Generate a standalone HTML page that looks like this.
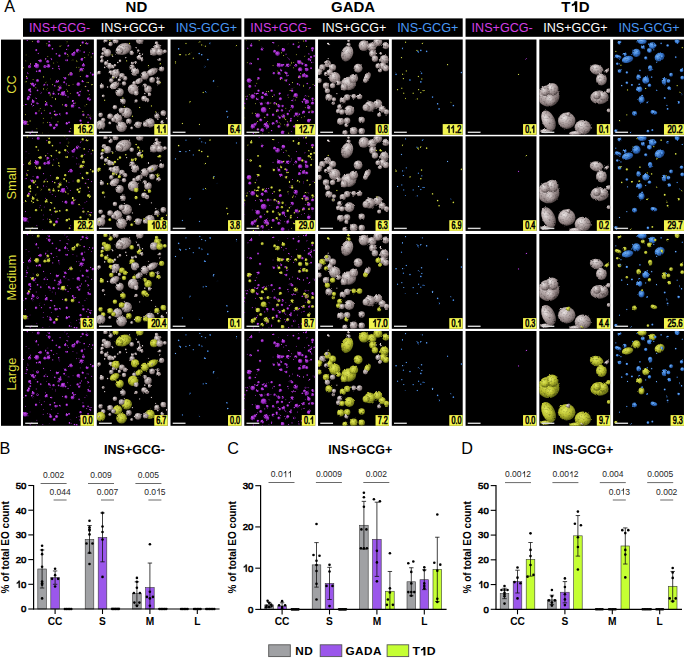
<!DOCTYPE html>
<html><head><meta charset="utf-8"><style>
html,body{margin:0;padding:0;background:#fff;}
body{width:685px;height:658px;overflow:hidden;}
svg{display:block;}
</style></head><body>
<svg width="685" height="658" viewBox="0 0 685 658">
<defs>
<filter id="lumpy" x="-5%" y="-5%" width="110%" height="110%" color-interpolation-filters="sRGB">
<feTurbulence type="fractalNoise" baseFrequency="0.35" numOctaves="2" seed="3" result="n"/>
<feDisplacementMap in="SourceGraphic" in2="n" scale="2.2" xChannelSelector="R" yChannelSelector="G" result="d"/>
<feTurbulence type="fractalNoise" baseFrequency="0.6" numOctaves="1" seed="9" result="n2"/>
<feColorMatrix in="n2" type="matrix" values="0 0 0 0 0  0 0 0 0 0  0 0 0 0 0  0 0 0 -0.9 0.45" result="sh"/>
<feComposite in="sh" in2="d" operator="in" result="sh2"/>
<feMerge><feMergeNode in="d"/><feMergeNode in="sh2"/></feMerge>
</filter>
<radialGradient id="gW" cx="0.36" cy="0.32" r="0.75"><stop offset="0" stop-color="#ebe5e5"/><stop offset="0.35" stop-color="#beb2b2"/><stop offset="0.72" stop-color="#8e8080"/><stop offset="1" stop-color="#403636"/></radialGradient>
<radialGradient id="gM" cx="0.4" cy="0.36" r="0.72"><stop offset="0" stop-color="#cc52f2"/><stop offset="0.5" stop-color="#9e2ac6"/><stop offset="1" stop-color="#420a5c"/></radialGradient>
<radialGradient id="gB" cx="0.4" cy="0.36" r="0.72"><stop offset="0" stop-color="#78b4f8"/><stop offset="0.5" stop-color="#3c80d8"/><stop offset="1" stop-color="#12326c"/></radialGradient>
<radialGradient id="gY" cx="0.4" cy="0.36" r="0.72"><stop offset="0" stop-color="#e4ec5c"/><stop offset="0.5" stop-color="#b9bf30"/><stop offset="1" stop-color="#4a500c"/></radialGradient>
</defs>
<text x="4.2" y="11.9" font-size="16.2" font-family="Liberation Sans, sans-serif" fill="#000">A</text>
<text x="136.4" y="12.1" font-size="15" font-weight="bold" text-anchor="middle" font-family="Liberation Sans, sans-serif" fill="#000">ND</text>
<text x="353.1" y="12.1" font-size="15" font-weight="bold" text-anchor="middle" font-family="Liberation Sans, sans-serif" fill="#000">GADA</text>
<text x="561.33 578.84" y="12.10" font-size="15" font-weight="bold" font-family="Liberation Sans, sans-serif" fill="#000">TD</text>
<polygon points="574.92,1.36 577.25,1.36 577.25,12.10 574.92,12.10 574.92,4.97 571.77,6.25 571.77,4.22 573.87,3.18 574.70,1.36" fill="#000"/>
<rect x="23.00" y="18.4" width="218.42" height="18.4" fill="#000"/>
<rect x="244.28" y="18.4" width="218.42" height="18.4" fill="#000"/>
<rect x="465.56" y="18.4" width="218.42" height="18.4" fill="#000"/>
<text x="59.65" y="31.9" font-size="12.6" text-anchor="middle" font-family="Liberation Sans, sans-serif" fill="#d33fe5">INS+GCG-</text>
<text x="132.91" y="31.9" font-size="12.6" text-anchor="middle" font-family="Liberation Sans, sans-serif" fill="#ffffff">INS+GCG+</text>
<text x="206.47" y="31.9" font-size="12.6" text-anchor="middle" font-family="Liberation Sans, sans-serif" fill="#4a98f5">INS-GCG+</text>
<text x="280.93" y="31.9" font-size="12.6" text-anchor="middle" font-family="Liberation Sans, sans-serif" fill="#d33fe5">INS+GCG-</text>
<text x="354.19" y="31.9" font-size="12.6" text-anchor="middle" font-family="Liberation Sans, sans-serif" fill="#ffffff">INS+GCG+</text>
<text x="427.75" y="31.9" font-size="12.6" text-anchor="middle" font-family="Liberation Sans, sans-serif" fill="#4a98f5">INS-GCG+</text>
<text x="502.21" y="31.9" font-size="12.6" text-anchor="middle" font-family="Liberation Sans, sans-serif" fill="#d33fe5">INS+GCG-</text>
<text x="575.47" y="31.9" font-size="12.6" text-anchor="middle" font-family="Liberation Sans, sans-serif" fill="#ffffff">INS+GCG+</text>
<text x="649.03" y="31.9" font-size="12.6" text-anchor="middle" font-family="Liberation Sans, sans-serif" fill="#4a98f5">INS-GCG+</text>
<rect x="1" y="39.6" width="19.9" height="386.2" fill="#000"/>
<text transform="translate(15.8,84.5) rotate(-90)" x="0" y="0" font-size="12.9" text-anchor="middle" font-family="Liberation Sans, sans-serif" fill="#dede3c">CC</text>
<text transform="translate(15.8,183.4) rotate(-90)" x="0" y="0" font-size="12.9" text-anchor="middle" font-family="Liberation Sans, sans-serif" fill="#dede3c">Small</text>
<text transform="translate(15.8,277.7) rotate(-90)" x="0" y="0" font-size="12.9" text-anchor="middle" font-family="Liberation Sans, sans-serif" fill="#dede3c">Medium</text>
<text transform="translate(15.8,374.0) rotate(-90)" x="0" y="0" font-size="12.9" text-anchor="middle" font-family="Liberation Sans, sans-serif" fill="#dede3c">Large</text>
<rect x="23.00" y="39.50" width="70.90" height="95.30" fill="#000"/>
<rect x="96.76" y="39.50" width="70.90" height="95.30" fill="#000"/>
<rect x="170.52" y="39.50" width="70.90" height="95.30" fill="#000"/>
<rect x="244.28" y="39.50" width="70.90" height="95.30" fill="#000"/>
<rect x="318.04" y="39.50" width="70.90" height="95.30" fill="#000"/>
<rect x="391.80" y="39.50" width="70.90" height="95.30" fill="#000"/>
<rect x="465.56" y="39.50" width="70.90" height="95.30" fill="#000"/>
<rect x="539.32" y="39.50" width="70.90" height="95.30" fill="#000"/>
<rect x="613.08" y="39.50" width="70.90" height="95.30" fill="#000"/>
<rect x="23.00" y="136.30" width="70.90" height="94.60" fill="#000"/>
<rect x="96.76" y="136.30" width="70.90" height="94.60" fill="#000"/>
<rect x="170.52" y="136.30" width="70.90" height="94.60" fill="#000"/>
<rect x="244.28" y="136.30" width="70.90" height="94.60" fill="#000"/>
<rect x="318.04" y="136.30" width="70.90" height="94.60" fill="#000"/>
<rect x="391.80" y="136.30" width="70.90" height="94.60" fill="#000"/>
<rect x="465.56" y="136.30" width="70.90" height="94.60" fill="#000"/>
<rect x="539.32" y="136.30" width="70.90" height="94.60" fill="#000"/>
<rect x="613.08" y="136.30" width="70.90" height="94.60" fill="#000"/>
<rect x="23.00" y="234.00" width="70.90" height="94.80" fill="#000"/>
<rect x="96.76" y="234.00" width="70.90" height="94.80" fill="#000"/>
<rect x="170.52" y="234.00" width="70.90" height="94.80" fill="#000"/>
<rect x="244.28" y="234.00" width="70.90" height="94.80" fill="#000"/>
<rect x="318.04" y="234.00" width="70.90" height="94.80" fill="#000"/>
<rect x="391.80" y="234.00" width="70.90" height="94.80" fill="#000"/>
<rect x="465.56" y="234.00" width="70.90" height="94.80" fill="#000"/>
<rect x="539.32" y="234.00" width="70.90" height="94.80" fill="#000"/>
<rect x="613.08" y="234.00" width="70.90" height="94.80" fill="#000"/>
<rect x="23.00" y="331.00" width="70.90" height="94.80" fill="#000"/>
<rect x="96.76" y="331.00" width="70.90" height="94.80" fill="#000"/>
<rect x="170.52" y="331.00" width="70.90" height="94.80" fill="#000"/>
<rect x="244.28" y="331.00" width="70.90" height="94.80" fill="#000"/>
<rect x="318.04" y="331.00" width="70.90" height="94.80" fill="#000"/>
<rect x="391.80" y="331.00" width="70.90" height="94.80" fill="#000"/>
<rect x="465.56" y="331.00" width="70.90" height="94.80" fill="#000"/>
<rect x="539.32" y="331.00" width="70.90" height="94.80" fill="#000"/>
<rect x="613.08" y="331.00" width="70.90" height="94.80" fill="#000"/>
<svg x="23.00" y="39.50" width="70.90" height="95.30" overflow="hidden"><g filter="url(#lumpy)">
<circle cx="15.3" cy="2.1" r="1.60" fill="url(#gM)"/>
<circle cx="26.3" cy="6.1" r="1.60" fill="url(#gM)"/>
<circle cx="54.7" cy="11.2" r="1.93" fill="url(#gM)"/>
<circle cx="50.3" cy="14.8" r="1.93" fill="url(#gM)"/>
<circle cx="59.8" cy="3.1" r="1.28" fill="url(#gM)"/>
<circle cx="64.2" cy="3.9" r="1.28" fill="url(#gM)"/>
<circle cx="13.9" cy="26.5" r="2.41" fill="url(#gM)"/>
<circle cx="6.6" cy="27.2" r="1.60" fill="url(#gM)"/>
<circle cx="17.5" cy="21.4" r="1.60" fill="url(#gM)"/>
<circle cx="24.8" cy="22.1" r="1.60" fill="url(#gM)"/>
<circle cx="25.5" cy="26.5" r="1.93" fill="url(#gM)"/>
<circle cx="21.9" cy="27.2" r="1.60" fill="url(#gM)"/>
<circle cx="16.8" cy="31.6" r="1.60" fill="url(#gM)"/>
<circle cx="36.5" cy="16.3" r="1.28" fill="url(#gM)"/>
<circle cx="42.3" cy="14.1" r="1.28" fill="url(#gM)"/>
<circle cx="59.1" cy="19.9" r="1.60" fill="url(#gM)"/>
<circle cx="60.5" cy="25.8" r="1.60" fill="url(#gM)"/>
<circle cx="58.4" cy="30.1" r="1.93" fill="url(#gM)"/>
<circle cx="48.1" cy="34.5" r="1.93" fill="url(#gM)"/>
<circle cx="64.2" cy="36.7" r="1.60" fill="url(#gM)"/>
<circle cx="55.4" cy="44.7" r="1.93" fill="url(#gM)"/>
<circle cx="14.6" cy="41.1" r="1.60" fill="url(#gM)"/>
<circle cx="9.5" cy="44.7" r="1.60" fill="url(#gM)"/>
<circle cx="10.9" cy="46.2" r="1.28" fill="url(#gM)"/>
<circle cx="6.6" cy="50.6" r="1.60" fill="url(#gM)"/>
<circle cx="34.3" cy="41.8" r="1.60" fill="url(#gM)"/>
<circle cx="37.2" cy="48.4" r="1.60" fill="url(#gM)"/>
<circle cx="40.1" cy="54.2" r="2.41" fill="url(#gM)"/>
<circle cx="35.7" cy="50.6" r="1.28" fill="url(#gM)"/>
<circle cx="54.7" cy="53.5" r="1.28" fill="url(#gM)"/>
<circle cx="5.8" cy="57.9" r="1.60" fill="url(#gM)"/>
<circle cx="5.1" cy="59.6" r="1.44" fill="url(#gM)"/>
<circle cx="10.2" cy="62.2" r="1.60" fill="url(#gM)"/>
<circle cx="23.3" cy="65.2" r="1.60" fill="url(#gM)"/>
<circle cx="43.0" cy="65.9" r="1.60" fill="url(#gM)"/>
<circle cx="49.6" cy="66.6" r="1.93" fill="url(#gM)"/>
<circle cx="65.7" cy="59.3" r="1.60" fill="url(#gM)"/>
<circle cx="2.2" cy="83.4" r="2.41" fill="url(#gM)"/>
<circle cx="27.7" cy="85.6" r="1.60" fill="url(#gM)"/>
<circle cx="33.6" cy="85.6" r="1.60" fill="url(#gM)"/>
<circle cx="31.4" cy="88.5" r="1.60" fill="url(#gM)"/>
<circle cx="60.5" cy="75.4" r="1.28" fill="url(#gM)"/>
<circle cx="57.6" cy="81.2" r="1.28" fill="url(#gM)"/>
<circle cx="13.1" cy="73.9" r="1.28" fill="url(#gM)"/>
<circle cx="32.8" cy="75.4" r="1.28" fill="url(#gM)"/>
<circle cx="43.8" cy="73.9" r="1.28" fill="url(#gM)"/>
<circle cx="67.1" cy="79.0" r="1.28" fill="url(#gM)"/>
<circle cx="43.8" cy="84.1" r="1.28" fill="url(#gM)"/>
<circle cx="70.0" cy="35.2" r="1.28" fill="url(#gM)"/>
<circle cx="59.8" cy="41.8" r="1.28" fill="url(#gM)"/>
<circle cx="42.3" cy="38.9" r="1.28" fill="url(#gM)"/>
<circle cx="30.6" cy="54.2" r="1.28" fill="url(#gM)"/>
<circle cx="26.3" cy="53.5" r="1.28" fill="url(#gM)"/>
<circle cx="56.2" cy="55.7" r="1.28" fill="url(#gM)"/>
<circle cx="14.6" cy="63.7" r="1.28" fill="url(#gM)"/>
<circle cx="51.1" cy="13.4" r="1.60" fill="url(#gM)"/>
<circle cx="60.0" cy="72.0" r="0.66" fill="url(#gY)"/>
<circle cx="21.5" cy="45.3" r="1.04" fill="url(#gM)"/>
<circle cx="35.8" cy="26.8" r="0.87" fill="url(#gM)"/>
<circle cx="57.5" cy="85.7" r="0.94" fill="url(#gM)"/>
<circle cx="63.8" cy="65.0" r="0.56" fill="url(#gY)"/>
<circle cx="68.6" cy="45.3" r="0.66" fill="url(#gY)"/>
<circle cx="57.2" cy="52.1" r="0.93" fill="url(#gM)"/>
<circle cx="28.3" cy="78.4" r="0.50" fill="url(#gY)"/>
<circle cx="35.0" cy="82.4" r="0.70" fill="url(#gY)"/>
<circle cx="61.8" cy="18.2" r="0.64" fill="url(#gY)"/>
<circle cx="68.7" cy="76.3" r="0.55" fill="url(#gY)"/>
<circle cx="7.7" cy="52.4" r="0.83" fill="url(#gM)"/>
<circle cx="42.8" cy="55.8" r="0.86" fill="url(#gM)"/>
<circle cx="27.3" cy="54.7" r="0.61" fill="url(#gY)"/>
<circle cx="13.3" cy="58.2" r="0.79" fill="url(#gM)"/>
<circle cx="65.5" cy="51.4" r="0.92" fill="url(#gM)"/>
<circle cx="41.2" cy="42.8" r="1.10" fill="url(#gM)"/>
<circle cx="65.1" cy="75.4" r="0.87" fill="url(#gM)"/>
<circle cx="17.3" cy="69.5" r="0.63" fill="url(#gY)"/>
<circle cx="56.4" cy="31.6" r="0.56" fill="url(#gY)"/>
<circle cx="10.4" cy="66.3" r="0.84" fill="url(#gM)"/>
<circle cx="64.6" cy="50.7" r="0.52" fill="url(#gY)"/>
<circle cx="45.1" cy="57.6" r="0.73" fill="url(#gM)"/>
<circle cx="26.3" cy="93.1" r="0.51" fill="url(#gY)"/>
<circle cx="68.2" cy="17.6" r="0.63" fill="url(#gY)"/>
<circle cx="56.9" cy="89.0" r="0.76" fill="url(#gM)"/>
<circle cx="7.2" cy="24.7" r="0.89" fill="url(#gM)"/>
<circle cx="24.9" cy="17.1" r="0.52" fill="url(#gY)"/>
<circle cx="7.2" cy="93.9" r="0.72" fill="url(#gM)"/>
<circle cx="24.3" cy="23.8" r="0.77" fill="url(#gM)"/>
<circle cx="12.4" cy="44.8" r="0.84" fill="url(#gM)"/>
<circle cx="36.1" cy="29.6" r="1.00" fill="url(#gM)"/>
<circle cx="17.8" cy="53.3" r="0.94" fill="url(#gM)"/>
<circle cx="23.9" cy="4.3" r="0.64" fill="url(#gY)"/>
<circle cx="67.7" cy="33.5" r="0.72" fill="url(#gM)"/>
<circle cx="67.2" cy="60.2" r="0.93" fill="url(#gM)"/>
<circle cx="27.5" cy="39.4" r="0.50" fill="url(#gY)"/>
<circle cx="13.7" cy="31.8" r="0.88" fill="url(#gM)"/>
<circle cx="26.9" cy="83.2" r="0.75" fill="url(#gM)"/>
<circle cx="28.6" cy="66.7" r="0.90" fill="url(#gM)"/>
<circle cx="3.3" cy="42.3" r="0.59" fill="url(#gY)"/>
<circle cx="37.5" cy="46.3" r="0.95" fill="url(#gM)"/>
<circle cx="62.8" cy="47.0" r="0.78" fill="url(#gM)"/>
<circle cx="13.3" cy="94.9" r="0.55" fill="url(#gY)"/>
<circle cx="51.5" cy="93.7" r="0.91" fill="url(#gM)"/>
<circle cx="22.4" cy="20.3" r="0.50" fill="url(#gY)"/>
<circle cx="58.4" cy="50.2" r="0.57" fill="url(#gY)"/>
<circle cx="46.1" cy="83.0" r="1.09" fill="url(#gM)"/>
<circle cx="7.1" cy="81.1" r="0.55" fill="url(#gY)"/>
<circle cx="61.2" cy="12.7" r="0.89" fill="url(#gM)"/>
<circle cx="24.6" cy="82.8" r="0.51" fill="url(#gY)"/>
<circle cx="2.9" cy="64.7" r="1.07" fill="url(#gM)"/>
<circle cx="66.6" cy="86.4" r="0.95" fill="url(#gM)"/>
<circle cx="49.8" cy="62.3" r="1.04" fill="url(#gM)"/>
<circle cx="45.5" cy="35.4" r="0.62" fill="url(#gY)"/>
<circle cx="41.7" cy="0.8" r="0.70" fill="url(#gM)"/>
<circle cx="56.1" cy="68.3" r="0.87" fill="url(#gM)"/>
<circle cx="20.6" cy="37.5" r="0.68" fill="url(#gY)"/>
<circle cx="33.9" cy="22.8" r="0.61" fill="url(#gY)"/>
<circle cx="37.1" cy="6.7" r="0.70" fill="url(#gY)"/>
<circle cx="24.4" cy="45.5" r="0.76" fill="url(#gM)"/>
<circle cx="65.3" cy="59.5" r="1.08" fill="url(#gM)"/>
<circle cx="45.4" cy="6.3" r="0.95" fill="url(#gM)"/>
<circle cx="4.3" cy="0.7" r="0.81" fill="url(#gM)"/>
<circle cx="31.8" cy="46.4" r="0.91" fill="url(#gM)"/>
<circle cx="18.5" cy="73.8" r="0.72" fill="url(#gM)"/>
<circle cx="64.1" cy="42.9" r="0.57" fill="url(#gY)"/>
<circle cx="28.3" cy="19.7" r="1.07" fill="url(#gM)"/>
<circle cx="15.3" cy="13.9" r="0.73" fill="url(#gM)"/>
<circle cx="69.8" cy="14.1" r="0.91" fill="url(#gM)"/>
<circle cx="62.3" cy="47.1" r="0.69" fill="url(#gY)"/>
<circle cx="35.4" cy="47.4" r="0.62" fill="url(#gY)"/>
<circle cx="43.3" cy="20.8" r="1.08" fill="url(#gM)"/>
<circle cx="63.8" cy="77.7" r="0.59" fill="url(#gY)"/>
<circle cx="2.8" cy="21.4" r="0.51" fill="url(#gY)"/>
<circle cx="59.9" cy="31.4" r="0.59" fill="url(#gY)"/>
<circle cx="46.6" cy="92.0" r="1.04" fill="url(#gM)"/>
<circle cx="35.7" cy="54.5" r="0.98" fill="url(#gM)"/>
<circle cx="53.8" cy="94.1" r="1.04" fill="url(#gM)"/>
<circle cx="14.6" cy="50.9" r="1.00" fill="url(#gM)"/>
<circle cx="34.2" cy="75.1" r="0.85" fill="url(#gM)"/>
<circle cx="60.4" cy="75.8" r="0.50" fill="url(#gY)"/>
<circle cx="12.9" cy="48.2" r="0.54" fill="url(#gY)"/>
<circle cx="61.1" cy="89.6" r="0.74" fill="url(#gM)"/>
<circle cx="57.5" cy="5.9" r="0.58" fill="url(#gY)"/>
<circle cx="20.4" cy="78.8" r="0.52" fill="url(#gY)"/>
<circle cx="50.9" cy="64.0" r="1.09" fill="url(#gM)"/>
<circle cx="29.2" cy="58.1" r="0.53" fill="url(#gY)"/>
<circle cx="33.4" cy="14.4" r="0.87" fill="url(#gM)"/>
<circle cx="44.7" cy="10.0" r="0.71" fill="url(#gM)"/>
<circle cx="27.2" cy="73.8" r="1.03" fill="url(#gM)"/>
<circle cx="43.3" cy="44.4" r="0.70" fill="url(#gM)"/>
<circle cx="8.8" cy="64.8" r="0.97" fill="url(#gM)"/>
<circle cx="65.1" cy="82.9" r="0.99" fill="url(#gM)"/>
<circle cx="36.8" cy="74.6" r="0.97" fill="url(#gM)"/>
<circle cx="31.6" cy="71.9" r="0.97" fill="url(#gM)"/>
<circle cx="47.3" cy="54.3" r="0.56" fill="url(#gY)"/>
<circle cx="58.2" cy="84.4" r="0.92" fill="url(#gM)"/>
<circle cx="29.8" cy="29.0" r="0.76" fill="url(#gM)"/>
<circle cx="29.5" cy="9.4" r="0.94" fill="url(#gM)"/>
<circle cx="2.2" cy="42.4" r="0.52" fill="url(#gY)"/>
<circle cx="65.3" cy="91.4" r="0.55" fill="url(#gY)"/>
<circle cx="5.0" cy="34.1" r="0.71" fill="url(#gM)"/>
<circle cx="5.0" cy="84.9" r="0.62" fill="url(#gY)"/>
<circle cx="47.8" cy="89.1" r="0.50" fill="url(#gY)"/>
<circle cx="26.2" cy="2.3" r="1.02" fill="url(#gM)"/>
<circle cx="13.3" cy="10.7" r="1.08" fill="url(#gM)"/>
<circle cx="9.2" cy="91.8" r="0.78" fill="url(#gM)"/>
<circle cx="7.3" cy="55.2" r="1.04" fill="url(#gM)"/>
<circle cx="67.1" cy="76.4" r="0.65" fill="url(#gY)"/>
<circle cx="53.6" cy="27.7" r="0.53" fill="url(#gY)"/>
<circle cx="9.4" cy="2.0" r="0.54" fill="url(#gY)"/>
<circle cx="10.1" cy="40.1" r="0.55" fill="url(#gY)"/>
<circle cx="4.1" cy="38.8" r="0.94" fill="url(#gM)"/>
<circle cx="22.8" cy="19.4" r="0.78" fill="url(#gM)"/>
<circle cx="67.5" cy="75.7" r="0.55" fill="url(#gY)"/>
<circle cx="39.6" cy="65.4" r="0.55" fill="url(#gY)"/>
<circle cx="30.7" cy="23.6" r="0.55" fill="url(#gY)"/>
<circle cx="66.5" cy="13.5" r="0.55" fill="url(#gY)"/>
<circle cx="45.2" cy="45.9" r="0.55" fill="url(#gY)"/>
<circle cx="0.1" cy="66.4" r="0.55" fill="url(#gY)"/>
<circle cx="0.6" cy="28.4" r="0.55" fill="url(#gY)"/>
<circle cx="44.7" cy="51.8" r="0.55" fill="url(#gY)"/>
<circle cx="50.1" cy="44.8" r="0.55" fill="url(#gY)"/>
<circle cx="54.0" cy="22.1" r="0.55" fill="url(#gY)"/>
<circle cx="19.9" cy="93.5" r="0.55" fill="url(#gY)"/>
<circle cx="62.7" cy="3.9" r="0.55" fill="url(#gY)"/>
<circle cx="37.4" cy="55.3" r="0.55" fill="url(#gY)"/>
<circle cx="7.2" cy="24.0" r="0.55" fill="url(#gY)"/>
<circle cx="53.6" cy="86.3" r="0.55" fill="url(#gY)"/>
<circle cx="2.5" cy="75.3" r="0.55" fill="url(#gY)"/>
<circle cx="24.1" cy="50.4" r="0.55" fill="url(#gY)"/>
<circle cx="65.3" cy="15.5" r="0.55" fill="url(#gY)"/>
<circle cx="20.6" cy="49.4" r="0.55" fill="url(#gY)"/>
<circle cx="44.5" cy="50.5" r="0.55" fill="url(#gY)"/>
<circle cx="56.0" cy="27.8" r="0.55" fill="url(#gY)"/>
<circle cx="44.6" cy="14.9" r="0.55" fill="url(#gY)"/>
<circle cx="27.1" cy="56.2" r="0.55" fill="url(#gY)"/>
<circle cx="47.4" cy="33.6" r="0.55" fill="url(#gY)"/>
<circle cx="29.5" cy="45.3" r="0.55" fill="url(#gY)"/>
<circle cx="22.6" cy="61.9" r="0.55" fill="url(#gY)"/>
<circle cx="21.3" cy="70.8" r="0.55" fill="url(#gY)"/>
<circle cx="44.1" cy="2.4" r="0.55" fill="url(#gY)"/>
<circle cx="63.1" cy="1.0" r="0.55" fill="url(#gY)"/>
<circle cx="4.7" cy="82.4" r="0.55" fill="url(#gY)"/>
<circle cx="52.7" cy="63.6" r="0.55" fill="url(#gY)"/>
<circle cx="62.0" cy="66.5" r="0.55" fill="url(#gY)"/>
<circle cx="16.1" cy="71.4" r="0.55" fill="url(#gY)"/>
<circle cx="7.5" cy="43.8" r="0.55" fill="url(#gY)"/>
<circle cx="31.5" cy="75.0" r="0.55" fill="url(#gY)"/>
<circle cx="57.3" cy="37.0" r="0.55" fill="url(#gY)"/>
<circle cx="13.9" cy="89.3" r="0.55" fill="url(#gY)"/>
<circle cx="3.5" cy="36.9" r="0.55" fill="url(#gY)"/>
<circle cx="6.0" cy="17.7" r="0.55" fill="url(#gY)"/>
<circle cx="45.3" cy="16.5" r="0.55" fill="url(#gY)"/>
<circle cx="43.5" cy="67.0" r="0.55" fill="url(#gY)"/>
<circle cx="20.2" cy="83.4" r="0.55" fill="url(#gY)"/>
<circle cx="32.5" cy="60.0" r="0.55" fill="url(#gY)"/>
<circle cx="66.3" cy="55.2" r="0.55" fill="url(#gY)"/>
<circle cx="50.0" cy="20.5" r="0.55" fill="url(#gY)"/>
<circle cx="3.1" cy="15.5" r="0.55" fill="url(#gY)"/>
<circle cx="46.5" cy="13.3" r="0.55" fill="url(#gY)"/>
<circle cx="48.3" cy="92.2" r="0.55" fill="url(#gY)"/>
<circle cx="65.4" cy="43.1" r="0.55" fill="url(#gY)"/>
<circle cx="22.9" cy="43.3" r="0.55" fill="url(#gY)"/>
</g></svg>
<rect x="25.20" y="131.60" width="12.8" height="1.4" fill="#d8d8d8"/>
<rect x="73.90" y="124.10" width="20.00" height="10.7" fill="#f2f550"/>
<text transform="translate(81.74,132.70) scale(0.781,1)" font-size="10" font-family="Liberation Sans, sans-serif" fill="#000" stroke="#000" stroke-width="0.6">6</text>
<text transform="translate(86.09,132.70) scale(0.781,1)" font-size="10" font-family="Liberation Sans, sans-serif" fill="#000" stroke="#000" stroke-width="0.6">.</text>
<text transform="translate(88.26,132.70) scale(0.781,1)" font-size="10" font-family="Liberation Sans, sans-serif" fill="#000" stroke="#000" stroke-width="0.6">2</text>
<polygon points="79.94,125.54 80.64,125.54 80.64,132.70 79.94,132.70 79.94,127.55 78.30,128.40 78.30,127.55 79.39,126.85 79.82,125.54" fill="#000" stroke="#000" stroke-width="0.6"/>
<svg x="96.76" y="39.50" width="70.90" height="95.30" overflow="hidden"><g filter="url(#lumpy)">
<ellipse cx="27.0" cy="9.4" rx="7.97" ry="5.69" fill="url(#gW)" transform="rotate(-20 27.0 9.4)"/>
<circle cx="22.6" cy="11.5" r="3.79" fill="url(#gW)"/>
<circle cx="13.8" cy="4.6" r="2.28" fill="url(#gW)"/>
<circle cx="8.7" cy="1.3" r="2.28" fill="url(#gW)"/>
<circle cx="18.9" cy="1.3" r="3.03" fill="url(#gW)"/>
<circle cx="43.0" cy="0.7" r="3.79" fill="url(#gW)"/>
<circle cx="7.3" cy="10.0" r="2.28" fill="url(#gW)"/>
<circle cx="10.6" cy="13.4" r="3.79" fill="url(#gW)"/>
<circle cx="6.2" cy="14.1" r="1.71" fill="url(#gW)"/>
<circle cx="59.8" cy="3.6" r="1.90" fill="url(#gW)"/>
<circle cx="60.5" cy="8.0" r="3.41" fill="url(#gW)"/>
<circle cx="57.2" cy="12.3" r="3.98" fill="url(#gW)"/>
<circle cx="63.0" cy="12.6" r="3.41" fill="url(#gW)"/>
<circle cx="68.1" cy="11.9" r="1.90" fill="url(#gW)"/>
<circle cx="41.6" cy="11.2" r="1.33" fill="url(#gW)"/>
<circle cx="35.0" cy="13.4" r="2.28" fill="url(#gW)"/>
<circle cx="42.6" cy="17.7" r="2.66" fill="url(#gW)"/>
<circle cx="44.8" cy="20.2" r="1.90" fill="url(#gW)"/>
<circle cx="5.4" cy="17.7" r="1.90" fill="url(#gW)"/>
<circle cx="5.1" cy="21.4" r="1.90" fill="url(#gW)"/>
<circle cx="9.5" cy="23.9" r="2.28" fill="url(#gW)"/>
<circle cx="13.1" cy="26.8" r="2.66" fill="url(#gW)"/>
<circle cx="16.0" cy="27.2" r="1.90" fill="url(#gW)"/>
<circle cx="23.3" cy="21.4" r="1.33" fill="url(#gW)"/>
<circle cx="18.2" cy="25.8" r="1.33" fill="url(#gW)"/>
<circle cx="35.7" cy="23.6" r="1.71" fill="url(#gW)"/>
<circle cx="38.9" cy="22.8" r="1.33" fill="url(#gW)"/>
<circle cx="35.4" cy="27.7" r="2.66" fill="url(#gW)"/>
<circle cx="38.3" cy="32.3" r="4.17" fill="url(#gW)"/>
<ellipse cx="55.4" cy="32.3" rx="6.07" ry="3.41" fill="url(#gW)" transform="rotate(-25 55.4 32.3)"/>
<circle cx="48.1" cy="36.0" r="4.17" fill="url(#gW)"/>
<circle cx="64.9" cy="29.4" r="2.66" fill="url(#gW)"/>
<circle cx="2.4" cy="33.1" r="1.90" fill="url(#gW)"/>
<circle cx="14.1" cy="33.1" r="2.28" fill="url(#gW)"/>
<circle cx="18.9" cy="33.8" r="4.17" fill="url(#gW)"/>
<circle cx="25.2" cy="36.3" r="2.85" fill="url(#gW)"/>
<circle cx="16.7" cy="37.7" r="1.71" fill="url(#gW)"/>
<circle cx="14.6" cy="41.1" r="2.28" fill="url(#gW)"/>
<circle cx="22.6" cy="40.4" r="1.71" fill="url(#gW)"/>
<circle cx="28.4" cy="38.9" r="2.28" fill="url(#gW)"/>
<ellipse cx="17.9" cy="45.9" rx="5.31" ry="3.41" fill="url(#gW)" transform="rotate(-30 17.9 45.9)"/>
<circle cx="27.3" cy="44.0" r="2.28" fill="url(#gW)"/>
<ellipse cx="42.3" cy="41.5" rx="4.17" ry="2.66" fill="url(#gW)" transform="rotate(-30 42.3 41.5)"/>
<circle cx="37.5" cy="43.6" r="2.09" fill="url(#gW)"/>
<circle cx="36.4" cy="49.8" r="5.31" fill="url(#gW)"/>
<circle cx="39.4" cy="53.8" r="2.47" fill="url(#gW)"/>
<circle cx="51.3" cy="49.8" r="3.79" fill="url(#gW)"/>
<circle cx="52.6" cy="54.9" r="1.90" fill="url(#gW)"/>
<circle cx="48.1" cy="46.2" r="2.28" fill="url(#gW)"/>
<circle cx="55.4" cy="40.4" r="2.85" fill="url(#gW)"/>
<circle cx="61.2" cy="38.9" r="1.71" fill="url(#gW)"/>
<circle cx="61.7" cy="43.0" r="2.28" fill="url(#gW)"/>
<circle cx="5.1" cy="46.9" r="2.28" fill="url(#gW)"/>
<circle cx="22.9" cy="52.8" r="4.17" fill="url(#gW)"/>
<circle cx="6.5" cy="56.4" r="1.52" fill="url(#gW)"/>
<circle cx="26.2" cy="61.9" r="2.85" fill="url(#gW)"/>
<circle cx="47.4" cy="59.0" r="2.85" fill="url(#gW)"/>
<circle cx="50.3" cy="60.8" r="2.28" fill="url(#gW)"/>
<circle cx="39.4" cy="61.5" r="1.71" fill="url(#gW)"/>
<circle cx="18.2" cy="67.8" r="2.28" fill="url(#gW)"/>
<circle cx="29.9" cy="73.2" r="5.31" fill="url(#gW)"/>
<circle cx="24.8" cy="71.0" r="2.85" fill="url(#gW)"/>
<circle cx="20.8" cy="79.0" r="4.74" fill="url(#gW)"/>
<circle cx="13.4" cy="76.8" r="2.85" fill="url(#gW)"/>
<circle cx="3.9" cy="75.4" r="2.28" fill="url(#gW)"/>
<circle cx="16.7" cy="80.2" r="2.28" fill="url(#gW)"/>
<circle cx="6.5" cy="80.5" r="2.28" fill="url(#gW)"/>
<circle cx="3.9" cy="85.6" r="4.74" fill="url(#gW)"/>
<circle cx="24.8" cy="87.3" r="5.31" fill="url(#gW)"/>
<circle cx="32.1" cy="81.9" r="2.85" fill="url(#gW)"/>
<circle cx="41.3" cy="85.3" r="3.41" fill="url(#gW)"/>
<circle cx="53.2" cy="83.4" r="4.74" fill="url(#gW)"/>
<circle cx="48.8" cy="84.9" r="2.66" fill="url(#gW)"/>
<circle cx="60.2" cy="76.5" r="2.66" fill="url(#gW)"/>
<circle cx="66.6" cy="73.6" r="2.85" fill="url(#gW)"/>
<circle cx="65.6" cy="82.7" r="1.90" fill="url(#gW)"/>
<circle cx="35.0" cy="88.5" r="1.52" fill="url(#gW)"/>
<circle cx="13.1" cy="83.4" r="1.52" fill="url(#gW)"/>
<circle cx="63.1" cy="19.9" r="1.52" fill="url(#gW)"/>
<circle cx="63.4" cy="24.3" r="0.88" fill="url(#gY)"/>
<circle cx="29.1" cy="18.5" r="0.88" fill="url(#gW)"/>
<circle cx="16.0" cy="16.7" r="0.88" fill="url(#gW)"/>
<circle cx="21.1" cy="23.1" r="0.88" fill="url(#gW)"/>
<circle cx="10.9" cy="21.4" r="0.88" fill="url(#gW)"/>
<circle cx="8.0" cy="28.0" r="0.88" fill="url(#gW)"/>
<circle cx="16.7" cy="28.0" r="0.88" fill="url(#gW)"/>
<circle cx="19.7" cy="38.2" r="0.88" fill="url(#gW)"/>
<circle cx="10.9" cy="47.6" r="0.88" fill="url(#gW)"/>
<circle cx="43.0" cy="14.1" r="0.88" fill="url(#gW)"/>
<circle cx="45.9" cy="14.8" r="0.88" fill="url(#gW)"/>
<circle cx="39.4" cy="8.3" r="0.88" fill="url(#gW)"/>
<circle cx="55.4" cy="33.1" r="0.88" fill="url(#gW)"/>
<circle cx="48.1" cy="54.2" r="0.88" fill="url(#gW)"/>
<circle cx="2.2" cy="85.6" r="0.88" fill="url(#gW)"/>
<circle cx="37.9" cy="85.6" r="0.88" fill="url(#gW)"/>
<circle cx="47.4" cy="82.7" r="0.88" fill="url(#gW)"/>
<circle cx="61.2" cy="79.7" r="0.88" fill="url(#gW)"/>
<circle cx="70.0" cy="79.0" r="0.88" fill="url(#gW)"/>
<circle cx="13.1" cy="1.0" r="0.75" fill="url(#gY)"/>
<circle cx="32.8" cy="3.9" r="0.75" fill="url(#gY)"/>
<circle cx="16.7" cy="38.2" r="0.75" fill="url(#gY)"/>
<circle cx="26.2" cy="58.6" r="0.75" fill="url(#gY)"/>
<circle cx="27.7" cy="67.3" r="0.75" fill="url(#gY)"/>
<circle cx="59.1" cy="72.5" r="0.75" fill="url(#gY)"/>
<circle cx="15.3" cy="15.5" r="0.75" fill="url(#gY)"/>
<circle cx="29.9" cy="21.4" r="0.75" fill="url(#gY)"/>
<circle cx="51.8" cy="27.2" r="0.75" fill="url(#gY)"/>
<circle cx="63.4" cy="43.3" r="0.75" fill="url(#gY)"/>
<circle cx="8.0" cy="60.8" r="0.75" fill="url(#gY)"/>
<circle cx="43.0" cy="68.1" r="0.75" fill="url(#gY)"/>
<circle cx="54.7" cy="66.6" r="0.75" fill="url(#gY)"/>
<circle cx="35.7" cy="76.8" r="0.75" fill="url(#gY)"/>
</g></svg>
<rect x="98.96" y="131.60" width="12.8" height="1.4" fill="#d8d8d8"/>
<rect x="154.26" y="124.10" width="13.40" height="10.7" fill="#f2f550"/>
<text transform="translate(160.36,132.70) scale(0.719,1)" font-size="10" font-family="Liberation Sans, sans-serif" fill="#000" stroke="#000" stroke-width="0.6">.</text>
<polygon points="158.70,125.54 159.35,125.54 159.35,132.70 158.70,132.70 158.70,127.55 157.19,128.40 157.19,127.55 158.19,126.85 158.59,125.54" fill="#000" stroke="#000" stroke-width="0.6"/>
<polygon points="164.70,125.54 165.35,125.54 165.35,132.70 164.70,132.70 164.70,127.55 163.19,128.40 163.19,127.55 164.19,126.85 164.59,125.54" fill="#000" stroke="#000" stroke-width="0.6"/>
<svg x="170.52" y="39.50" width="70.90" height="95.30" overflow="hidden"><g filter="url(#lumpy)">
<circle cx="39.6" cy="3.9" r="0.90" fill="url(#gB)"/>
<circle cx="8.2" cy="9.4" r="0.90" fill="url(#gB)"/>
<circle cx="28.7" cy="14.1" r="0.90" fill="url(#gB)"/>
<circle cx="31.3" cy="15.3" r="0.90" fill="url(#gB)"/>
<circle cx="37.4" cy="20.2" r="0.90" fill="url(#gB)"/>
<circle cx="34.2" cy="27.2" r="0.90" fill="url(#gB)"/>
<circle cx="43.0" cy="41.8" r="0.90" fill="url(#gB)"/>
<circle cx="35.7" cy="52.3" r="0.90" fill="url(#gB)"/>
<circle cx="56.4" cy="72.0" r="0.90" fill="url(#gB)"/>
<circle cx="57.3" cy="77.6" r="0.90" fill="url(#gB)"/>
<circle cx="15.5" cy="3.9" r="0.75" fill="url(#gY)"/>
<circle cx="29.4" cy="2.4" r="0.75" fill="url(#gY)"/>
<circle cx="31.3" cy="5.6" r="0.75" fill="url(#gY)"/>
<circle cx="34.9" cy="6.8" r="0.75" fill="url(#gY)"/>
<circle cx="65.9" cy="6.8" r="0.75" fill="url(#gY)"/>
<circle cx="9.0" cy="15.3" r="0.75" fill="url(#gY)"/>
<circle cx="15.5" cy="15.5" r="0.75" fill="url(#gY)"/>
<circle cx="19.2" cy="14.4" r="0.75" fill="url(#gY)"/>
<circle cx="22.8" cy="18.8" r="0.75" fill="url(#gY)"/>
<circle cx="5.0" cy="22.6" r="0.75" fill="url(#gY)"/>
<circle cx="43.7" cy="41.1" r="0.75" fill="url(#gY)"/>
<circle cx="46.9" cy="46.9" r="0.75" fill="url(#gY)"/>
<circle cx="32.7" cy="53.0" r="0.75" fill="url(#gY)"/>
<circle cx="19.6" cy="62.2" r="0.75" fill="url(#gY)"/>
<circle cx="11.9" cy="84.1" r="0.75" fill="url(#gY)"/>
<circle cx="29.0" cy="85.1" r="0.75" fill="url(#gY)"/>
</g></svg>
<rect x="172.72" y="131.60" width="12.8" height="1.4" fill="#d8d8d8"/>
<rect x="228.02" y="124.10" width="13.40" height="10.7" fill="#f2f550"/>
<text transform="translate(230.12,132.70) scale(0.719,1)" font-size="10" font-family="Liberation Sans, sans-serif" fill="#000" stroke="#000" stroke-width="0.6">6</text>
<text transform="translate(234.12,132.70) scale(0.719,1)" font-size="10" font-family="Liberation Sans, sans-serif" fill="#000" stroke="#000" stroke-width="0.6">.</text>
<text transform="translate(236.12,132.70) scale(0.719,1)" font-size="10" font-family="Liberation Sans, sans-serif" fill="#000" stroke="#000" stroke-width="0.6">4</text>
<svg x="244.28" y="39.50" width="70.90" height="95.30" overflow="hidden"><g filter="url(#lumpy)">
<circle cx="33.3" cy="14.1" r="2.41" fill="url(#gM)"/>
<circle cx="30.4" cy="11.9" r="1.60" fill="url(#gM)"/>
<circle cx="39.1" cy="10.4" r="1.93" fill="url(#gM)"/>
<circle cx="18.0" cy="9.7" r="1.60" fill="url(#gM)"/>
<circle cx="68.3" cy="9.0" r="1.60" fill="url(#gM)"/>
<circle cx="54.4" cy="7.5" r="1.28" fill="url(#gM)"/>
<circle cx="7.0" cy="6.1" r="1.28" fill="url(#gM)"/>
<circle cx="66.8" cy="17.7" r="1.28" fill="url(#gM)"/>
<circle cx="64.6" cy="19.9" r="1.28" fill="url(#gM)"/>
<circle cx="55.2" cy="22.8" r="2.25" fill="url(#gM)"/>
<circle cx="51.5" cy="25.8" r="1.60" fill="url(#gM)"/>
<circle cx="55.9" cy="30.1" r="2.25" fill="url(#gM)"/>
<circle cx="62.5" cy="30.1" r="1.93" fill="url(#gM)"/>
<circle cx="61.7" cy="25.8" r="1.60" fill="url(#gM)"/>
<circle cx="58.1" cy="24.3" r="1.28" fill="url(#gM)"/>
<circle cx="59.5" cy="36.0" r="1.93" fill="url(#gM)"/>
<circle cx="62.5" cy="36.7" r="1.60" fill="url(#gM)"/>
<circle cx="55.2" cy="37.4" r="1.60" fill="url(#gM)"/>
<circle cx="34.7" cy="25.8" r="2.25" fill="url(#gM)"/>
<circle cx="37.7" cy="25.8" r="1.60" fill="url(#gM)"/>
<circle cx="43.5" cy="25.8" r="1.93" fill="url(#gM)"/>
<circle cx="42.0" cy="33.8" r="1.60" fill="url(#gM)"/>
<circle cx="34.7" cy="33.8" r="1.60" fill="url(#gM)"/>
<circle cx="36.9" cy="38.9" r="1.60" fill="url(#gM)"/>
<circle cx="29.6" cy="33.8" r="1.28" fill="url(#gM)"/>
<circle cx="42.0" cy="41.1" r="1.28" fill="url(#gM)"/>
<circle cx="6.3" cy="24.3" r="1.28" fill="url(#gM)"/>
<circle cx="15.8" cy="30.1" r="1.28" fill="url(#gM)"/>
<circle cx="4.8" cy="41.1" r="2.41" fill="url(#gM)"/>
<circle cx="5.6" cy="46.9" r="1.60" fill="url(#gM)"/>
<circle cx="14.3" cy="38.9" r="1.28" fill="url(#gM)"/>
<circle cx="8.5" cy="57.1" r="2.41" fill="url(#gM)"/>
<circle cx="18.0" cy="57.9" r="1.60" fill="url(#gM)"/>
<circle cx="21.6" cy="54.9" r="1.60" fill="url(#gM)"/>
<circle cx="12.9" cy="59.3" r="1.28" fill="url(#gM)"/>
<circle cx="14.3" cy="51.3" r="1.28" fill="url(#gM)"/>
<circle cx="18.7" cy="53.5" r="1.28" fill="url(#gM)"/>
<circle cx="27.4" cy="51.3" r="1.28" fill="url(#gM)"/>
<circle cx="35.5" cy="54.2" r="1.28" fill="url(#gM)"/>
<circle cx="36.2" cy="59.3" r="1.60" fill="url(#gM)"/>
<circle cx="47.9" cy="51.3" r="1.28" fill="url(#gM)"/>
<circle cx="51.5" cy="55.7" r="2.25" fill="url(#gM)"/>
<circle cx="62.5" cy="62.2" r="2.25" fill="url(#gM)"/>
<circle cx="60.3" cy="60.0" r="1.60" fill="url(#gM)"/>
<circle cx="68.3" cy="59.3" r="1.28" fill="url(#gM)"/>
<circle cx="68.3" cy="63.7" r="1.60" fill="url(#gM)"/>
<circle cx="17.2" cy="64.4" r="1.60" fill="url(#gM)"/>
<circle cx="23.8" cy="63.7" r="1.60" fill="url(#gM)"/>
<circle cx="30.4" cy="63.7" r="1.28" fill="url(#gM)"/>
<circle cx="19.4" cy="70.3" r="2.89" fill="url(#gM)"/>
<circle cx="13.6" cy="76.1" r="2.41" fill="url(#gM)"/>
<circle cx="16.5" cy="80.5" r="1.60" fill="url(#gM)"/>
<circle cx="23.1" cy="75.4" r="1.28" fill="url(#gM)"/>
<circle cx="34.7" cy="66.6" r="1.60" fill="url(#gM)"/>
<circle cx="38.4" cy="66.6" r="1.28" fill="url(#gM)"/>
<circle cx="37.7" cy="71.0" r="1.28" fill="url(#gM)"/>
<circle cx="33.3" cy="71.0" r="1.60" fill="url(#gM)"/>
<circle cx="47.9" cy="67.3" r="1.93" fill="url(#gM)"/>
<circle cx="52.2" cy="74.6" r="1.93" fill="url(#gM)"/>
<circle cx="59.5" cy="72.5" r="1.60" fill="url(#gM)"/>
<circle cx="64.6" cy="68.1" r="1.93" fill="url(#gM)"/>
<circle cx="68.3" cy="72.5" r="1.60" fill="url(#gM)"/>
<circle cx="43.5" cy="74.6" r="1.28" fill="url(#gM)"/>
<circle cx="39.1" cy="76.8" r="1.93" fill="url(#gM)"/>
<circle cx="35.5" cy="78.3" r="1.28" fill="url(#gM)"/>
<circle cx="28.9" cy="75.4" r="1.28" fill="url(#gM)"/>
<circle cx="8.5" cy="87.0" r="2.41" fill="url(#gM)"/>
<circle cx="10.7" cy="84.9" r="1.60" fill="url(#gM)"/>
<circle cx="21.6" cy="85.6" r="2.41" fill="url(#gM)"/>
<circle cx="23.1" cy="87.0" r="1.93" fill="url(#gM)"/>
<circle cx="18.0" cy="90.7" r="1.93" fill="url(#gM)"/>
<circle cx="28.9" cy="84.1" r="1.60" fill="url(#gM)"/>
<circle cx="34.7" cy="87.0" r="1.60" fill="url(#gM)"/>
<circle cx="38.4" cy="92.9" r="1.93" fill="url(#gM)"/>
<circle cx="43.5" cy="85.6" r="1.60" fill="url(#gM)"/>
<circle cx="46.4" cy="81.2" r="1.28" fill="url(#gM)"/>
<circle cx="64.6" cy="81.2" r="1.93" fill="url(#gM)"/>
<circle cx="13.6" cy="90.0" r="1.28" fill="url(#gM)"/>
<circle cx="50.1" cy="87.0" r="1.28" fill="url(#gM)"/>
<circle cx="32.5" cy="81.9" r="1.28" fill="url(#gM)"/>
<circle cx="40.6" cy="40.7" r="0.62" fill="url(#gY)"/>
<circle cx="57.7" cy="78.2" r="0.60" fill="url(#gY)"/>
<circle cx="37.0" cy="31.1" r="1.07" fill="url(#gM)"/>
<circle cx="42.8" cy="36.3" r="0.90" fill="url(#gM)"/>
<circle cx="32.4" cy="65.2" r="0.58" fill="url(#gY)"/>
<circle cx="43.5" cy="4.2" r="0.58" fill="url(#gY)"/>
<circle cx="66.8" cy="28.8" r="1.04" fill="url(#gM)"/>
<circle cx="22.3" cy="52.2" r="0.54" fill="url(#gY)"/>
<circle cx="41.5" cy="80.2" r="0.63" fill="url(#gY)"/>
<circle cx="58.1" cy="62.5" r="1.01" fill="url(#gM)"/>
<circle cx="10.6" cy="53.9" r="0.86" fill="url(#gM)"/>
<circle cx="8.0" cy="73.7" r="0.60" fill="url(#gY)"/>
<circle cx="57.3" cy="90.0" r="0.75" fill="url(#gM)"/>
<circle cx="55.2" cy="45.6" r="0.76" fill="url(#gM)"/>
<circle cx="0.4" cy="67.7" r="0.69" fill="url(#gY)"/>
<circle cx="5.7" cy="42.6" r="0.73" fill="url(#gM)"/>
<circle cx="61.7" cy="64.0" r="0.82" fill="url(#gM)"/>
<circle cx="64.6" cy="49.4" r="0.54" fill="url(#gY)"/>
<circle cx="29.9" cy="55.6" r="0.79" fill="url(#gM)"/>
<circle cx="29.5" cy="3.4" r="0.82" fill="url(#gM)"/>
<circle cx="3.6" cy="8.8" r="0.77" fill="url(#gM)"/>
<circle cx="70.5" cy="46.1" r="0.76" fill="url(#gM)"/>
<circle cx="63.8" cy="66.3" r="0.89" fill="url(#gM)"/>
<circle cx="64.6" cy="14.6" r="0.87" fill="url(#gM)"/>
<circle cx="48.8" cy="61.0" r="1.00" fill="url(#gM)"/>
<circle cx="34.0" cy="76.7" r="0.76" fill="url(#gM)"/>
<circle cx="61.0" cy="68.2" r="0.53" fill="url(#gY)"/>
<circle cx="64.8" cy="72.8" r="1.09" fill="url(#gM)"/>
<circle cx="20.3" cy="63.7" r="0.86" fill="url(#gM)"/>
<circle cx="65.3" cy="18.2" r="0.55" fill="url(#gY)"/>
<circle cx="13.8" cy="19.7" r="1.10" fill="url(#gM)"/>
<circle cx="63.0" cy="44.1" r="0.92" fill="url(#gM)"/>
<circle cx="39.4" cy="25.3" r="0.88" fill="url(#gM)"/>
<circle cx="44.5" cy="19.9" r="1.02" fill="url(#gM)"/>
<circle cx="61.9" cy="62.0" r="0.75" fill="url(#gM)"/>
<circle cx="32.4" cy="72.1" r="0.67" fill="url(#gY)"/>
<circle cx="49.3" cy="48.1" r="0.66" fill="url(#gY)"/>
<circle cx="34.1" cy="65.5" r="0.98" fill="url(#gM)"/>
<circle cx="28.8" cy="75.4" r="1.10" fill="url(#gM)"/>
<circle cx="59.4" cy="1.6" r="0.69" fill="url(#gY)"/>
<circle cx="52.6" cy="58.0" r="0.61" fill="url(#gY)"/>
<circle cx="66.4" cy="20.9" r="1.07" fill="url(#gM)"/>
<circle cx="13.6" cy="54.3" r="1.08" fill="url(#gM)"/>
<circle cx="61.7" cy="1.5" r="1.01" fill="url(#gM)"/>
<circle cx="54.2" cy="90.7" r="0.53" fill="url(#gY)"/>
<circle cx="49.2" cy="4.8" r="1.02" fill="url(#gM)"/>
<circle cx="28.2" cy="57.1" r="0.59" fill="url(#gY)"/>
<circle cx="43.0" cy="82.1" r="0.52" fill="url(#gY)"/>
<circle cx="65.4" cy="48.6" r="0.74" fill="url(#gM)"/>
<circle cx="41.0" cy="33.0" r="1.02" fill="url(#gM)"/>
<circle cx="70.0" cy="16.6" r="0.99" fill="url(#gM)"/>
<circle cx="24.4" cy="53.1" r="0.62" fill="url(#gY)"/>
<circle cx="13.3" cy="60.2" r="1.08" fill="url(#gM)"/>
<circle cx="56.3" cy="34.2" r="0.53" fill="url(#gY)"/>
<circle cx="3.0" cy="56.8" r="0.71" fill="url(#gM)"/>
<circle cx="53.4" cy="44.5" r="1.03" fill="url(#gM)"/>
<circle cx="12.3" cy="83.6" r="0.75" fill="url(#gM)"/>
<circle cx="36.4" cy="84.5" r="0.56" fill="url(#gY)"/>
<circle cx="68.1" cy="11.2" r="0.93" fill="url(#gM)"/>
<circle cx="44.0" cy="57.7" r="0.51" fill="url(#gY)"/>
<circle cx="11.2" cy="64.3" r="0.56" fill="url(#gY)"/>
<circle cx="45.2" cy="45.1" r="0.74" fill="url(#gM)"/>
<circle cx="13.4" cy="81.9" r="0.54" fill="url(#gY)"/>
<circle cx="24.0" cy="87.3" r="0.72" fill="url(#gM)"/>
<circle cx="44.4" cy="93.7" r="0.62" fill="url(#gY)"/>
<circle cx="20.5" cy="78.0" r="0.65" fill="url(#gY)"/>
<circle cx="43.6" cy="55.5" r="0.83" fill="url(#gM)"/>
<circle cx="2.2" cy="0.5" r="0.53" fill="url(#gY)"/>
<circle cx="54.7" cy="93.0" r="0.73" fill="url(#gM)"/>
<circle cx="44.3" cy="85.6" r="0.53" fill="url(#gY)"/>
<circle cx="2.5" cy="59.6" r="0.93" fill="url(#gM)"/>
<circle cx="12.5" cy="43.8" r="0.55" fill="url(#gY)"/>
<circle cx="37.3" cy="13.4" r="0.57" fill="url(#gY)"/>
<circle cx="50.1" cy="76.6" r="0.85" fill="url(#gM)"/>
<circle cx="45.1" cy="71.6" r="0.81" fill="url(#gM)"/>
<circle cx="45.9" cy="50.9" r="0.68" fill="url(#gY)"/>
<circle cx="26.6" cy="63.6" r="0.68" fill="url(#gY)"/>
<circle cx="60.4" cy="16.7" r="0.52" fill="url(#gY)"/>
<circle cx="58.6" cy="73.5" r="0.90" fill="url(#gM)"/>
<circle cx="11.0" cy="46.5" r="0.78" fill="url(#gM)"/>
<circle cx="22.5" cy="89.2" r="0.77" fill="url(#gM)"/>
<circle cx="47.8" cy="92.1" r="0.73" fill="url(#gM)"/>
<circle cx="55.1" cy="74.8" r="0.93" fill="url(#gM)"/>
<circle cx="9.1" cy="94.2" r="0.76" fill="url(#gM)"/>
<circle cx="46.8" cy="79.3" r="0.93" fill="url(#gM)"/>
<circle cx="54.2" cy="38.0" r="0.62" fill="url(#gY)"/>
<circle cx="67.5" cy="22.9" r="0.73" fill="url(#gM)"/>
<circle cx="61.3" cy="56.8" r="0.99" fill="url(#gM)"/>
<circle cx="27.4" cy="91.2" r="0.82" fill="url(#gM)"/>
<circle cx="53.2" cy="81.1" r="0.58" fill="url(#gY)"/>
<circle cx="14.9" cy="1.1" r="0.60" fill="url(#gY)"/>
<circle cx="41.8" cy="14.7" r="0.71" fill="url(#gM)"/>
<circle cx="0.3" cy="64.0" r="0.97" fill="url(#gM)"/>
<circle cx="32.6" cy="83.1" r="1.00" fill="url(#gM)"/>
<circle cx="62.3" cy="7.0" r="0.55" fill="url(#gY)"/>
<circle cx="0.5" cy="78.5" r="0.55" fill="url(#gY)"/>
<circle cx="40.5" cy="85.4" r="0.55" fill="url(#gY)"/>
<circle cx="67.0" cy="71.5" r="0.55" fill="url(#gY)"/>
<circle cx="57.9" cy="37.4" r="0.55" fill="url(#gY)"/>
<circle cx="70.8" cy="60.1" r="0.55" fill="url(#gY)"/>
<circle cx="49.4" cy="28.4" r="0.55" fill="url(#gY)"/>
<circle cx="64.5" cy="56.8" r="0.55" fill="url(#gY)"/>
<circle cx="11.4" cy="74.0" r="0.55" fill="url(#gY)"/>
<circle cx="40.1" cy="79.2" r="0.55" fill="url(#gY)"/>
<circle cx="11.7" cy="94.2" r="0.55" fill="url(#gY)"/>
<circle cx="54.5" cy="2.7" r="0.55" fill="url(#gY)"/>
<circle cx="3.0" cy="23.3" r="0.55" fill="url(#gY)"/>
<circle cx="48.2" cy="43.1" r="0.55" fill="url(#gY)"/>
<circle cx="29.9" cy="64.6" r="0.55" fill="url(#gY)"/>
<circle cx="47.2" cy="22.7" r="0.55" fill="url(#gY)"/>
<circle cx="68.8" cy="45.0" r="0.55" fill="url(#gY)"/>
<circle cx="49.6" cy="56.8" r="0.55" fill="url(#gY)"/>
<circle cx="25.5" cy="69.0" r="0.55" fill="url(#gY)"/>
<circle cx="5.0" cy="55.2" r="0.55" fill="url(#gY)"/>
<circle cx="41.6" cy="68.8" r="0.55" fill="url(#gY)"/>
<circle cx="52.1" cy="15.3" r="0.55" fill="url(#gY)"/>
<circle cx="14.4" cy="89.8" r="0.55" fill="url(#gY)"/>
<circle cx="34.9" cy="83.2" r="0.55" fill="url(#gY)"/>
<circle cx="49.4" cy="23.3" r="0.55" fill="url(#gY)"/>
<circle cx="13.5" cy="40.2" r="0.55" fill="url(#gY)"/>
<circle cx="59.3" cy="45.7" r="0.55" fill="url(#gY)"/>
<circle cx="53.6" cy="76.7" r="0.55" fill="url(#gY)"/>
<circle cx="46.7" cy="70.2" r="0.55" fill="url(#gY)"/>
<circle cx="37.1" cy="75.6" r="0.55" fill="url(#gY)"/>
<circle cx="51.1" cy="60.6" r="0.55" fill="url(#gY)"/>
<circle cx="42.9" cy="87.2" r="0.55" fill="url(#gY)"/>
<circle cx="49.0" cy="85.6" r="0.55" fill="url(#gY)"/>
<circle cx="23.3" cy="81.8" r="0.55" fill="url(#gY)"/>
<circle cx="41.3" cy="87.9" r="0.55" fill="url(#gY)"/>
<circle cx="56.9" cy="23.1" r="0.55" fill="url(#gY)"/>
<circle cx="36.1" cy="40.1" r="0.55" fill="url(#gY)"/>
<circle cx="24.9" cy="84.6" r="0.55" fill="url(#gY)"/>
<circle cx="60.1" cy="77.3" r="0.55" fill="url(#gY)"/>
<circle cx="65.6" cy="71.7" r="0.55" fill="url(#gY)"/>
<circle cx="1.6" cy="56.7" r="0.55" fill="url(#gY)"/>
<circle cx="33.8" cy="6.3" r="0.55" fill="url(#gY)"/>
<circle cx="46.0" cy="25.6" r="0.55" fill="url(#gY)"/>
<circle cx="58.4" cy="85.2" r="0.55" fill="url(#gY)"/>
<circle cx="41.0" cy="34.3" r="0.55" fill="url(#gY)"/>
<circle cx="33.0" cy="31.6" r="0.55" fill="url(#gY)"/>
<circle cx="18.5" cy="94.5" r="0.55" fill="url(#gY)"/>
<circle cx="24.7" cy="93.2" r="0.55" fill="url(#gY)"/>
<circle cx="28.8" cy="26.1" r="0.55" fill="url(#gY)"/>
<circle cx="39.4" cy="16.1" r="0.55" fill="url(#gY)"/>
<circle cx="53.9" cy="72.5" r="0.55" fill="url(#gY)"/>
</g></svg>
<rect x="246.48" y="131.60" width="12.8" height="1.4" fill="#d8d8d8"/>
<rect x="295.18" y="124.10" width="20.00" height="10.7" fill="#f2f550"/>
<text transform="translate(303.02,132.70) scale(0.781,1)" font-size="10" font-family="Liberation Sans, sans-serif" fill="#000" stroke="#000" stroke-width="0.6">2</text>
<text transform="translate(307.37,132.70) scale(0.781,1)" font-size="10" font-family="Liberation Sans, sans-serif" fill="#000" stroke="#000" stroke-width="0.6">.</text>
<text transform="translate(309.54,132.70) scale(0.781,1)" font-size="10" font-family="Liberation Sans, sans-serif" fill="#000" stroke="#000" stroke-width="0.6">7</text>
<polygon points="301.22,125.54 301.92,125.54 301.92,132.70 301.22,132.70 301.22,127.55 299.58,128.40 299.58,127.55 300.67,126.85 301.10,125.54" fill="#000" stroke="#000" stroke-width="0.6"/>
<svg x="318.04" y="39.50" width="70.90" height="95.30" overflow="hidden"><g filter="url(#lumpy)">
<ellipse cx="29.1" cy="14.1" rx="5.87" ry="8.01" fill="url(#gW)" transform="rotate(20 29.1 14.1)"/>
<circle cx="30.6" cy="5.3" r="2.14" fill="url(#gW)"/>
<circle cx="30.6" cy="1.3" r="1.42" fill="url(#gW)"/>
<circle cx="10.9" cy="4.6" r="1.42" fill="url(#gW)"/>
<circle cx="45.9" cy="6.1" r="5.34" fill="url(#gW)"/>
<circle cx="53.9" cy="7.5" r="4.45" fill="url(#gW)"/>
<circle cx="59.8" cy="2.4" r="4.45" fill="url(#gW)"/>
<circle cx="67.8" cy="6.1" r="3.56" fill="url(#gW)"/>
<circle cx="54.7" cy="14.1" r="3.56" fill="url(#gW)"/>
<circle cx="56.9" cy="19.2" r="3.20" fill="url(#gW)"/>
<circle cx="66.3" cy="19.9" r="4.45" fill="url(#gW)"/>
<circle cx="64.9" cy="26.5" r="3.56" fill="url(#gW)"/>
<circle cx="60.1" cy="26.5" r="2.67" fill="url(#gW)"/>
<circle cx="62.0" cy="30.9" r="2.14" fill="url(#gW)"/>
<circle cx="67.8" cy="28.7" r="3.20" fill="url(#gW)"/>
<circle cx="62.7" cy="14.1" r="1.42" fill="url(#gW)"/>
<circle cx="40.1" cy="28.7" r="4.45" fill="url(#gW)"/>
<ellipse cx="49.6" cy="36.7" rx="4.27" ry="2.85" fill="url(#gW)" transform="rotate(-60 49.6 36.7)"/>
<circle cx="47.4" cy="41.1" r="2.49" fill="url(#gW)"/>
<circle cx="9.4" cy="24.3" r="3.56" fill="url(#gW)"/>
<circle cx="8.7" cy="22.8" r="1.78" fill="url(#gW)"/>
<circle cx="4.3" cy="28.0" r="3.20" fill="url(#gW)"/>
<circle cx="1.1" cy="32.3" r="3.20" fill="url(#gW)"/>
<circle cx="1.1" cy="41.1" r="2.67" fill="url(#gW)"/>
<circle cx="14.6" cy="28.0" r="3.56" fill="url(#gW)"/>
<circle cx="11.6" cy="33.1" r="3.20" fill="url(#gW)"/>
<circle cx="16.7" cy="38.2" r="5.70" fill="url(#gW)"/>
<circle cx="8.0" cy="34.5" r="2.14" fill="url(#gW)"/>
<circle cx="20.4" cy="43.3" r="2.67" fill="url(#gW)"/>
<circle cx="8.0" cy="46.2" r="3.20" fill="url(#gW)"/>
<circle cx="14.6" cy="46.2" r="2.67" fill="url(#gW)"/>
<circle cx="9.4" cy="51.3" r="2.67" fill="url(#gW)"/>
<ellipse cx="30.6" cy="44.0" rx="7.48" ry="6.76" fill="url(#gW)" transform="rotate(0 30.6 44.0)"/>
<circle cx="35.7" cy="38.9" r="4.45" fill="url(#gW)"/>
<circle cx="26.2" cy="47.6" r="3.56" fill="url(#gW)"/>
<circle cx="10.9" cy="57.9" r="3.56" fill="url(#gW)"/>
<circle cx="16.0" cy="60.0" r="2.14" fill="url(#gW)"/>
<circle cx="15.3" cy="63.7" r="1.78" fill="url(#gW)"/>
<circle cx="24.8" cy="60.8" r="3.20" fill="url(#gW)"/>
<circle cx="29.1" cy="57.9" r="3.20" fill="url(#gW)"/>
<circle cx="35.7" cy="57.1" r="2.49" fill="url(#gW)"/>
<circle cx="41.5" cy="57.1" r="2.85" fill="url(#gW)"/>
<circle cx="18.9" cy="54.2" r="0.75" fill="url(#gW)"/>
<circle cx="21.8" cy="67.3" r="2.67" fill="url(#gW)"/>
<circle cx="20.4" cy="71.7" r="2.49" fill="url(#gW)"/>
<circle cx="24.0" cy="72.5" r="2.67" fill="url(#gW)"/>
<circle cx="31.3" cy="71.0" r="4.98" fill="url(#gW)"/>
<circle cx="51.8" cy="66.9" r="5.34" fill="url(#gW)"/>
<circle cx="48.1" cy="68.1" r="3.56" fill="url(#gW)"/>
<circle cx="59.8" cy="64.4" r="4.45" fill="url(#gW)"/>
<circle cx="64.2" cy="69.8" r="3.56" fill="url(#gW)"/>
<circle cx="68.5" cy="72.5" r="2.67" fill="url(#gW)"/>
<circle cx="61.2" cy="75.4" r="2.14" fill="url(#gW)"/>
<circle cx="22.6" cy="81.9" r="3.56" fill="url(#gW)"/>
<circle cx="29.1" cy="81.2" r="3.20" fill="url(#gW)"/>
<circle cx="28.4" cy="85.6" r="2.14" fill="url(#gW)"/>
<circle cx="43.7" cy="80.5" r="3.20" fill="url(#gW)"/>
<circle cx="27.0" cy="93.2" r="2.67" fill="url(#gW)"/>
<circle cx="35.7" cy="91.4" r="3.92" fill="url(#gW)"/>
<circle cx="43.7" cy="91.7" r="3.20" fill="url(#gW)"/>
<circle cx="10.2" cy="19.2" r="0.75" fill="url(#gW)"/>
<circle cx="58.3" cy="14.1" r="0.75" fill="url(#gW)"/>
<circle cx="15.3" cy="63.7" r="0.75" fill="url(#gW)"/>
<circle cx="59.0" cy="60.8" r="0.75" fill="url(#gW)"/>
</g></svg>
<rect x="320.24" y="131.60" width="12.8" height="1.4" fill="#d8d8d8"/>
<rect x="375.54" y="124.10" width="13.40" height="10.7" fill="#f2f550"/>
<text transform="translate(377.64,132.70) scale(0.719,1)" font-size="10" font-family="Liberation Sans, sans-serif" fill="#000" stroke="#000" stroke-width="0.6">0</text>
<text transform="translate(381.64,132.70) scale(0.719,1)" font-size="10" font-family="Liberation Sans, sans-serif" fill="#000" stroke="#000" stroke-width="0.6">.</text>
<text transform="translate(383.64,132.70) scale(0.719,1)" font-size="10" font-family="Liberation Sans, sans-serif" fill="#000" stroke="#000" stroke-width="0.6">8</text>
<svg x="391.80" y="39.50" width="70.90" height="95.30" overflow="hidden"><g filter="url(#lumpy)">
<circle cx="10.9" cy="9.0" r="0.90" fill="url(#gB)"/>
<circle cx="26.2" cy="11.9" r="0.90" fill="url(#gB)"/>
<circle cx="29.1" cy="10.9" r="0.90" fill="url(#gB)"/>
<circle cx="34.9" cy="11.9" r="0.90" fill="url(#gB)"/>
<circle cx="4.3" cy="34.8" r="0.90" fill="url(#gB)"/>
<circle cx="29.8" cy="33.8" r="0.90" fill="url(#gB)"/>
<circle cx="18.2" cy="40.6" r="0.90" fill="url(#gB)"/>
<circle cx="29.1" cy="42.5" r="0.90" fill="url(#gB)"/>
<circle cx="40.8" cy="57.6" r="0.90" fill="url(#gB)"/>
<circle cx="45.9" cy="64.4" r="0.90" fill="url(#gB)"/>
<circle cx="47.3" cy="69.5" r="0.90" fill="url(#gB)"/>
<circle cx="61.6" cy="66.2" r="0.90" fill="url(#gB)"/>
<circle cx="69.7" cy="33.1" r="0.90" fill="url(#gB)"/>
<circle cx="13.8" cy="2.7" r="0.75" fill="url(#gY)"/>
<circle cx="30.6" cy="3.9" r="0.75" fill="url(#gY)"/>
<circle cx="25.2" cy="10.9" r="0.75" fill="url(#gY)"/>
<circle cx="9.7" cy="18.2" r="0.75" fill="url(#gY)"/>
<circle cx="55.8" cy="25.3" r="0.75" fill="url(#gY)"/>
<circle cx="14.5" cy="31.6" r="0.75" fill="url(#gY)"/>
<circle cx="10.9" cy="34.8" r="0.75" fill="url(#gY)"/>
<circle cx="26.6" cy="36.9" r="0.75" fill="url(#gY)"/>
<circle cx="11.6" cy="39.2" r="0.75" fill="url(#gY)"/>
<circle cx="30.1" cy="39.6" r="0.75" fill="url(#gY)"/>
<circle cx="5.8" cy="50.3" r="0.75" fill="url(#gY)"/>
<circle cx="10.1" cy="48.8" r="0.75" fill="url(#gY)"/>
<circle cx="26.9" cy="50.3" r="0.75" fill="url(#gY)"/>
<circle cx="31.3" cy="51.3" r="0.75" fill="url(#gY)"/>
<circle cx="21.4" cy="53.8" r="0.75" fill="url(#gY)"/>
<circle cx="12.0" cy="53.8" r="0.75" fill="url(#gY)"/>
<circle cx="29.1" cy="53.2" r="0.75" fill="url(#gY)"/>
<circle cx="13.5" cy="59.0" r="0.75" fill="url(#gY)"/>
<circle cx="25.5" cy="59.6" r="0.75" fill="url(#gY)"/>
<circle cx="59.0" cy="63.0" r="0.75" fill="url(#gY)"/>
</g></svg>
<rect x="394.00" y="131.60" width="12.8" height="1.4" fill="#d8d8d8"/>
<rect x="442.70" y="124.10" width="20.00" height="10.7" fill="#f2f550"/>
<text transform="translate(454.89,132.70) scale(0.781,1)" font-size="10" font-family="Liberation Sans, sans-serif" fill="#000" stroke="#000" stroke-width="0.6">.</text>
<text transform="translate(457.06,132.70) scale(0.781,1)" font-size="10" font-family="Liberation Sans, sans-serif" fill="#000" stroke="#000" stroke-width="0.6">2</text>
<polygon points="448.74,125.54 449.44,125.54 449.44,132.70 448.74,132.70 448.74,127.55 447.10,128.40 447.10,127.55 448.19,126.85 448.62,125.54" fill="#000" stroke="#000" stroke-width="0.6"/>
<polygon points="453.08,125.54 453.78,125.54 453.78,132.70 453.08,132.70 453.08,127.55 451.44,128.40 451.44,127.55 452.53,126.85 452.96,125.54" fill="#000" stroke="#000" stroke-width="0.6"/>
<svg x="465.56" y="39.50" width="70.90" height="95.30" overflow="hidden"><g filter="url(#lumpy)">
<circle cx="60.9" cy="19.5" r="0.75" fill="url(#gM)"/>
<circle cx="53.0" cy="35.1" r="0.75" fill="url(#gY)"/>
</g></svg>
<rect x="467.76" y="131.60" width="12.8" height="1.4" fill="#d8d8d8"/>
<rect x="523.06" y="124.10" width="13.40" height="10.7" fill="#f2f550"/>
<text transform="translate(525.16,132.70) scale(0.719,1)" font-size="10" font-family="Liberation Sans, sans-serif" fill="#000" stroke="#000" stroke-width="0.6">0</text>
<text transform="translate(529.16,132.70) scale(0.719,1)" font-size="10" font-family="Liberation Sans, sans-serif" fill="#000" stroke="#000" stroke-width="0.6">.</text>
<polygon points="533.50,125.54 534.15,125.54 534.15,132.70 533.50,132.70 533.50,127.55 531.99,128.40 531.99,127.55 532.99,126.85 533.39,125.54" fill="#000" stroke="#000" stroke-width="0.6"/>
<svg x="539.32" y="39.50" width="70.90" height="95.30" overflow="hidden"><g filter="url(#lumpy)">
<ellipse cx="57.3" cy="30.1" rx="6.93" ry="5.11" fill="url(#gW)" transform="rotate(15 57.3 30.1)"/>
<ellipse cx="67.5" cy="31.3" rx="2.74" ry="1.64" fill="url(#gW)" transform="rotate(-35 67.5 31.3)"/>
<ellipse cx="62.1" cy="40.1" rx="5.47" ry="6.02" fill="url(#gW)" transform="rotate(0 62.1 40.1)"/>
<circle cx="69.3" cy="51.3" r="2.37" fill="url(#gW)"/>
<ellipse cx="60.2" cy="57.9" rx="9.12" ry="6.93" fill="url(#gW)" transform="rotate(0 60.2 57.9)"/>
<circle cx="63.9" cy="56.4" r="4.56" fill="url(#gW)"/>
<circle cx="57.3" cy="55.7" r="4.01" fill="url(#gW)"/>
<ellipse cx="9.2" cy="56.4" rx="10.94" ry="10.58" fill="url(#gW)" transform="rotate(0 9.2 56.4)"/>
<circle cx="12.8" cy="49.8" r="6.38" fill="url(#gW)"/>
<circle cx="5.5" cy="52.0" r="4.56" fill="url(#gW)"/>
<circle cx="11.4" cy="60.8" r="5.47" fill="url(#gW)"/>
<circle cx="69.4" cy="71.0" r="2.01" fill="url(#gW)"/>
<ellipse cx="9.2" cy="81.2" rx="6.38" ry="10.94" fill="url(#gW)" transform="rotate(-25 9.2 81.2)"/>
<ellipse cx="27.4" cy="81.2" rx="8.75" ry="8.21" fill="url(#gW)" transform="rotate(0 27.4 81.2)"/>
<ellipse cx="28.9" cy="74.6" rx="2.37" ry="1.82" fill="url(#gW)" transform="rotate(-30 28.9 74.6)"/>
<ellipse cx="43.5" cy="87.8" rx="8.21" ry="7.30" fill="url(#gW)" transform="rotate(0 43.5 87.8)"/>
<ellipse cx="42.0" cy="93.2" rx="2.19" ry="1.46" fill="url(#gW)" transform="rotate(0 42.0 93.2)"/>
<ellipse cx="36.2" cy="94.0" rx="6.38" ry="2.55" fill="url(#gW)" transform="rotate(0 36.2 94.0)"/>
<ellipse cx="6.2" cy="91.7" rx="5.47" ry="2.19" fill="url(#gW)" transform="rotate(0 6.2 91.7)"/>
</g></svg>
<rect x="541.52" y="131.60" width="12.8" height="1.4" fill="#d8d8d8"/>
<rect x="596.82" y="124.10" width="13.40" height="10.7" fill="#f2f550"/>
<text transform="translate(598.92,132.70) scale(0.719,1)" font-size="10" font-family="Liberation Sans, sans-serif" fill="#000" stroke="#000" stroke-width="0.6">0</text>
<text transform="translate(602.92,132.70) scale(0.719,1)" font-size="10" font-family="Liberation Sans, sans-serif" fill="#000" stroke="#000" stroke-width="0.6">.</text>
<polygon points="607.26,125.54 607.91,125.54 607.91,132.70 607.26,132.70 607.26,127.55 605.75,128.40 605.75,127.55 606.75,126.85 607.15,125.54" fill="#000" stroke="#000" stroke-width="0.6"/>
<svg x="613.08" y="39.50" width="70.90" height="95.30" overflow="hidden"><g filter="url(#lumpy)">
<circle cx="6.5" cy="3.1" r="2.08" fill="url(#gB)"/>
<ellipse cx="29.1" cy="1.7" rx="4.44" ry="3.05" fill="url(#gB)" transform="rotate(0 29.1 1.7)"/>
<circle cx="29.8" cy="7.5" r="2.08" fill="url(#gB)"/>
<circle cx="39.3" cy="6.1" r="3.47" fill="url(#gB)"/>
<circle cx="36.4" cy="10.9" r="2.49" fill="url(#gB)"/>
<circle cx="64.1" cy="1.7" r="2.49" fill="url(#gB)"/>
<circle cx="54.6" cy="6.1" r="1.39" fill="url(#gB)"/>
<circle cx="48.1" cy="3.9" r="0.88" fill="url(#gB)"/>
<circle cx="42.2" cy="6.1" r="1.39" fill="url(#gB)"/>
<circle cx="23.3" cy="13.4" r="4.16" fill="url(#gB)"/>
<ellipse cx="14.5" cy="19.9" rx="5.82" ry="3.47" fill="url(#gB)" transform="rotate(-15 14.5 19.9)"/>
<ellipse cx="5.0" cy="17.3" rx="3.47" ry="1.94" fill="url(#gB)" transform="rotate(20 5.0 17.3)"/>
<circle cx="11.6" cy="14.8" r="2.08" fill="url(#gB)"/>
<circle cx="4.3" cy="24.3" r="1.39" fill="url(#gB)"/>
<circle cx="24.0" cy="2.4" r="0.75" fill="url(#gB)"/>
<circle cx="19.6" cy="10.4" r="0.75" fill="url(#gB)"/>
<circle cx="40.8" cy="10.4" r="0.75" fill="url(#gB)"/>
<circle cx="32.7" cy="18.5" r="1.66" fill="url(#gB)"/>
<ellipse cx="46.6" cy="17.3" rx="5.27" ry="4.16" fill="url(#gB)" transform="rotate(-30 46.6 17.3)"/>
<circle cx="48.8" cy="17.0" r="1.39" fill="url(#gB)"/>
<circle cx="62.7" cy="17.7" r="0.97" fill="url(#gB)"/>
<circle cx="43.7" cy="22.8" r="0.75" fill="url(#gB)"/>
<ellipse cx="37.1" cy="28.7" rx="2.22" ry="3.05" fill="url(#gB)" transform="rotate(0 37.1 28.7)"/>
<circle cx="26.9" cy="30.9" r="0.88" fill="url(#gB)"/>
<circle cx="6.5" cy="31.6" r="1.94" fill="url(#gB)"/>
<circle cx="7.2" cy="30.9" r="0.88" fill="url(#gB)"/>
<circle cx="13.8" cy="33.1" r="1.25" fill="url(#gB)"/>
<circle cx="68.5" cy="30.9" r="1.80" fill="url(#gB)"/>
<circle cx="58.0" cy="35.2" r="1.94" fill="url(#gB)"/>
<circle cx="69.2" cy="38.2" r="1.94" fill="url(#gB)"/>
<ellipse cx="25.5" cy="37.7" rx="2.22" ry="2.77" fill="url(#gB)" transform="rotate(0 25.5 37.7)"/>
<circle cx="32.7" cy="40.8" r="3.47" fill="url(#gB)"/>
<circle cx="36.4" cy="45.9" r="1.80" fill="url(#gB)"/>
<circle cx="38.6" cy="37.7" r="0.88" fill="url(#gB)"/>
<circle cx="34.2" cy="36.7" r="0.75" fill="url(#gB)"/>
<ellipse cx="51.0" cy="41.8" rx="2.36" ry="3.47" fill="url(#gB)" transform="rotate(0 51.0 41.8)"/>
<circle cx="55.4" cy="41.5" r="1.94" fill="url(#gB)"/>
<circle cx="56.1" cy="48.8" r="1.94" fill="url(#gB)"/>
<circle cx="53.2" cy="39.6" r="0.75" fill="url(#gB)"/>
<circle cx="13.8" cy="43.3" r="1.39" fill="url(#gB)"/>
<circle cx="8.7" cy="46.2" r="0.88" fill="url(#gB)"/>
<circle cx="18.9" cy="45.5" r="1.11" fill="url(#gB)"/>
<circle cx="26.2" cy="45.0" r="1.11" fill="url(#gB)"/>
<circle cx="26.2" cy="49.8" r="3.05" fill="url(#gB)"/>
<circle cx="43.7" cy="50.6" r="0.97" fill="url(#gB)"/>
<ellipse cx="28.4" cy="60.0" rx="3.05" ry="3.47" fill="url(#gB)" transform="rotate(0 28.4 60.0)"/>
<circle cx="29.1" cy="56.4" r="1.11" fill="url(#gB)"/>
<circle cx="34.2" cy="63.0" r="0.88" fill="url(#gB)"/>
<circle cx="51.7" cy="58.6" r="1.11" fill="url(#gB)"/>
<circle cx="65.6" cy="63.0" r="1.39" fill="url(#gB)"/>
<ellipse cx="40.8" cy="72.9" rx="3.47" ry="2.08" fill="url(#gB)" transform="rotate(15 40.8 72.9)"/>
<circle cx="21.5" cy="73.9" r="2.49" fill="url(#gB)"/>
<circle cx="54.6" cy="69.5" r="1.11" fill="url(#gB)"/>
<circle cx="53.9" cy="65.9" r="0.75" fill="url(#gB)"/>
<circle cx="2.8" cy="91.4" r="1.66" fill="url(#gB)"/>
<circle cx="34.9" cy="91.7" r="1.39" fill="url(#gB)"/>
<circle cx="39.3" cy="90.7" r="1.11" fill="url(#gB)"/>
<circle cx="68.5" cy="54.9" r="0.88" fill="url(#gB)"/>
<circle cx="17.4" cy="92.9" r="0.75" fill="url(#gB)"/>
<circle cx="2.8" cy="11.9" r="0.75" fill="url(#gY)"/>
<circle cx="32.7" cy="49.1" r="0.75" fill="url(#gY)"/>
<circle cx="14.5" cy="50.6" r="0.75" fill="url(#gY)"/>
<circle cx="13.8" cy="75.4" r="0.75" fill="url(#gY)"/>
<circle cx="6.5" cy="81.2" r="0.75" fill="url(#gY)"/>
<circle cx="67.0" cy="52.8" r="0.75" fill="url(#gY)"/>
<circle cx="69.2" cy="8.3" r="0.75" fill="url(#gY)"/>
<circle cx="64.1" cy="46.2" r="0.75" fill="url(#gY)"/>
<circle cx="7.9" cy="25.8" r="0.75" fill="url(#gY)"/>
</g></svg>
<rect x="615.28" y="131.60" width="12.8" height="1.4" fill="#d8d8d8"/>
<rect x="663.98" y="124.10" width="20.00" height="10.7" fill="#f2f550"/>
<text transform="translate(667.48,132.70) scale(0.781,1)" font-size="10" font-family="Liberation Sans, sans-serif" fill="#000" stroke="#000" stroke-width="0.6">2</text>
<text transform="translate(671.82,132.70) scale(0.781,1)" font-size="10" font-family="Liberation Sans, sans-serif" fill="#000" stroke="#000" stroke-width="0.6">0</text>
<text transform="translate(676.17,132.70) scale(0.781,1)" font-size="10" font-family="Liberation Sans, sans-serif" fill="#000" stroke="#000" stroke-width="0.6">.</text>
<text transform="translate(678.34,132.70) scale(0.781,1)" font-size="10" font-family="Liberation Sans, sans-serif" fill="#000" stroke="#000" stroke-width="0.6">2</text>
<svg x="23.00" y="136.30" width="70.90" height="94.60" overflow="hidden"><g filter="url(#lumpy)">
<circle cx="15.3" cy="2.1" r="1.60" fill="url(#gM)"/>
<circle cx="26.3" cy="6.1" r="1.60" fill="url(#gY)"/>
<circle cx="54.7" cy="11.2" r="1.93" fill="url(#gM)"/>
<circle cx="50.3" cy="14.8" r="1.93" fill="url(#gM)"/>
<circle cx="59.8" cy="3.1" r="1.28" fill="url(#gY)"/>
<circle cx="64.2" cy="3.9" r="1.28" fill="url(#gY)"/>
<circle cx="13.9" cy="26.5" r="2.41" fill="url(#gM)"/>
<circle cx="6.6" cy="27.2" r="1.60" fill="url(#gY)"/>
<circle cx="17.5" cy="21.4" r="1.60" fill="url(#gY)"/>
<circle cx="24.8" cy="22.1" r="1.60" fill="url(#gM)"/>
<circle cx="25.5" cy="26.5" r="1.93" fill="url(#gM)"/>
<circle cx="21.9" cy="27.2" r="1.60" fill="url(#gM)"/>
<circle cx="16.8" cy="31.6" r="1.60" fill="url(#gY)"/>
<circle cx="36.5" cy="16.3" r="1.28" fill="url(#gY)"/>
<circle cx="42.3" cy="14.1" r="1.28" fill="url(#gY)"/>
<circle cx="59.1" cy="19.9" r="1.60" fill="url(#gY)"/>
<circle cx="60.5" cy="25.8" r="1.60" fill="url(#gY)"/>
<circle cx="58.4" cy="30.1" r="1.93" fill="url(#gY)"/>
<circle cx="48.1" cy="34.5" r="1.93" fill="url(#gM)"/>
<circle cx="64.2" cy="36.7" r="1.60" fill="url(#gY)"/>
<circle cx="55.4" cy="44.7" r="1.93" fill="url(#gY)"/>
<circle cx="14.6" cy="41.1" r="1.60" fill="url(#gM)"/>
<circle cx="9.5" cy="44.7" r="1.60" fill="url(#gM)"/>
<circle cx="10.9" cy="46.2" r="1.28" fill="url(#gY)"/>
<circle cx="6.6" cy="50.6" r="1.60" fill="url(#gY)"/>
<circle cx="34.3" cy="41.8" r="1.60" fill="url(#gY)"/>
<circle cx="37.2" cy="48.4" r="1.60" fill="url(#gY)"/>
<circle cx="40.1" cy="54.2" r="2.41" fill="url(#gM)"/>
<circle cx="35.7" cy="50.6" r="1.28" fill="url(#gY)"/>
<circle cx="54.7" cy="53.5" r="1.28" fill="url(#gY)"/>
<circle cx="5.8" cy="57.9" r="1.60" fill="url(#gM)"/>
<circle cx="5.1" cy="59.6" r="1.44" fill="url(#gY)"/>
<circle cx="10.2" cy="62.2" r="1.60" fill="url(#gY)"/>
<circle cx="23.3" cy="65.2" r="1.60" fill="url(#gY)"/>
<circle cx="43.0" cy="65.9" r="1.60" fill="url(#gM)"/>
<circle cx="49.6" cy="66.6" r="1.93" fill="url(#gM)"/>
<circle cx="65.7" cy="59.3" r="1.60" fill="url(#gY)"/>
<circle cx="2.2" cy="83.4" r="2.41" fill="url(#gM)"/>
<circle cx="27.7" cy="85.6" r="1.60" fill="url(#gY)"/>
<circle cx="33.6" cy="85.6" r="1.60" fill="url(#gM)"/>
<circle cx="31.4" cy="88.5" r="1.60" fill="url(#gY)"/>
<circle cx="60.5" cy="75.4" r="1.28" fill="url(#gY)"/>
<circle cx="57.6" cy="81.2" r="1.28" fill="url(#gY)"/>
<circle cx="13.1" cy="73.9" r="1.28" fill="url(#gY)"/>
<circle cx="32.8" cy="75.4" r="1.28" fill="url(#gY)"/>
<circle cx="43.8" cy="73.9" r="1.28" fill="url(#gY)"/>
<circle cx="67.1" cy="79.0" r="1.28" fill="url(#gY)"/>
<circle cx="43.8" cy="84.1" r="1.28" fill="url(#gY)"/>
<circle cx="70.0" cy="35.2" r="1.28" fill="url(#gY)"/>
<circle cx="59.8" cy="41.8" r="1.28" fill="url(#gY)"/>
<circle cx="42.3" cy="38.9" r="1.28" fill="url(#gY)"/>
<circle cx="30.6" cy="54.2" r="1.28" fill="url(#gY)"/>
<circle cx="26.3" cy="53.5" r="1.28" fill="url(#gY)"/>
<circle cx="56.2" cy="55.7" r="1.28" fill="url(#gY)"/>
<circle cx="14.6" cy="63.7" r="1.28" fill="url(#gY)"/>
<circle cx="51.1" cy="13.4" r="1.60" fill="url(#gM)"/>
<circle cx="60.0" cy="72.0" r="0.66" fill="url(#gM)"/>
<circle cx="21.5" cy="45.3" r="1.04" fill="url(#gY)"/>
<circle cx="35.8" cy="26.8" r="0.87" fill="url(#gY)"/>
<circle cx="57.5" cy="85.7" r="0.94" fill="url(#gY)"/>
<circle cx="63.8" cy="65.0" r="0.56" fill="url(#gM)"/>
<circle cx="68.6" cy="45.3" r="0.66" fill="url(#gM)"/>
<circle cx="57.2" cy="52.1" r="0.93" fill="url(#gY)"/>
<circle cx="28.3" cy="78.4" r="0.50" fill="url(#gM)"/>
<circle cx="35.0" cy="82.4" r="0.70" fill="url(#gM)"/>
<circle cx="61.8" cy="18.2" r="0.64" fill="url(#gM)"/>
<circle cx="68.7" cy="76.3" r="0.55" fill="url(#gM)"/>
<circle cx="7.7" cy="52.4" r="0.83" fill="url(#gY)"/>
<circle cx="42.8" cy="55.8" r="0.86" fill="url(#gY)"/>
<circle cx="27.3" cy="54.7" r="0.61" fill="url(#gM)"/>
<circle cx="13.3" cy="58.2" r="0.79" fill="url(#gY)"/>
<circle cx="65.5" cy="51.4" r="0.92" fill="url(#gY)"/>
<circle cx="41.2" cy="42.8" r="1.10" fill="url(#gY)"/>
<circle cx="65.1" cy="75.4" r="0.87" fill="url(#gY)"/>
<circle cx="17.3" cy="69.5" r="0.63" fill="url(#gM)"/>
<circle cx="56.4" cy="31.6" r="0.56" fill="url(#gM)"/>
<circle cx="10.4" cy="66.3" r="0.84" fill="url(#gY)"/>
<circle cx="64.6" cy="50.7" r="0.52" fill="url(#gM)"/>
<circle cx="45.1" cy="57.6" r="0.73" fill="url(#gY)"/>
<circle cx="26.3" cy="93.1" r="0.51" fill="url(#gM)"/>
<circle cx="68.2" cy="17.6" r="0.63" fill="url(#gM)"/>
<circle cx="56.9" cy="89.0" r="0.76" fill="url(#gY)"/>
<circle cx="7.2" cy="24.7" r="0.89" fill="url(#gY)"/>
<circle cx="24.9" cy="17.1" r="0.52" fill="url(#gM)"/>
<circle cx="7.2" cy="93.9" r="0.72" fill="url(#gY)"/>
<circle cx="24.3" cy="23.8" r="0.77" fill="url(#gY)"/>
<circle cx="12.4" cy="44.8" r="0.84" fill="url(#gY)"/>
<circle cx="36.1" cy="29.6" r="1.00" fill="url(#gY)"/>
<circle cx="17.8" cy="53.3" r="0.94" fill="url(#gY)"/>
<circle cx="23.9" cy="4.3" r="0.64" fill="url(#gM)"/>
<circle cx="67.7" cy="33.5" r="0.72" fill="url(#gY)"/>
<circle cx="67.2" cy="60.2" r="0.93" fill="url(#gY)"/>
<circle cx="27.5" cy="39.4" r="0.50" fill="url(#gM)"/>
<circle cx="13.7" cy="31.8" r="0.88" fill="url(#gY)"/>
<circle cx="26.9" cy="83.2" r="0.75" fill="url(#gY)"/>
<circle cx="28.6" cy="66.7" r="0.90" fill="url(#gY)"/>
<circle cx="3.3" cy="42.3" r="0.59" fill="url(#gM)"/>
<circle cx="37.5" cy="46.3" r="0.95" fill="url(#gY)"/>
<circle cx="62.8" cy="47.0" r="0.78" fill="url(#gY)"/>
<circle cx="13.3" cy="94.9" r="0.55" fill="url(#gM)"/>
<circle cx="51.5" cy="93.7" r="0.91" fill="url(#gY)"/>
<circle cx="22.4" cy="20.3" r="0.50" fill="url(#gM)"/>
<circle cx="58.4" cy="50.2" r="0.57" fill="url(#gM)"/>
<circle cx="46.1" cy="83.0" r="1.09" fill="url(#gY)"/>
<circle cx="7.1" cy="81.1" r="0.55" fill="url(#gM)"/>
<circle cx="61.2" cy="12.7" r="0.89" fill="url(#gY)"/>
<circle cx="24.6" cy="82.8" r="0.51" fill="url(#gM)"/>
<circle cx="2.9" cy="64.7" r="1.07" fill="url(#gY)"/>
<circle cx="66.6" cy="86.4" r="0.95" fill="url(#gY)"/>
<circle cx="49.8" cy="62.3" r="1.04" fill="url(#gY)"/>
<circle cx="45.5" cy="35.4" r="0.62" fill="url(#gM)"/>
<circle cx="41.7" cy="0.8" r="0.70" fill="url(#gY)"/>
<circle cx="56.1" cy="68.3" r="0.87" fill="url(#gY)"/>
<circle cx="20.6" cy="37.5" r="0.68" fill="url(#gM)"/>
<circle cx="33.9" cy="22.8" r="0.61" fill="url(#gM)"/>
<circle cx="37.1" cy="6.7" r="0.70" fill="url(#gM)"/>
<circle cx="24.4" cy="45.5" r="0.76" fill="url(#gY)"/>
<circle cx="65.3" cy="59.5" r="1.08" fill="url(#gY)"/>
<circle cx="45.4" cy="6.3" r="0.95" fill="url(#gY)"/>
<circle cx="4.3" cy="0.7" r="0.81" fill="url(#gY)"/>
<circle cx="31.8" cy="46.4" r="0.91" fill="url(#gY)"/>
<circle cx="18.5" cy="73.8" r="0.72" fill="url(#gY)"/>
<circle cx="64.1" cy="42.9" r="0.57" fill="url(#gM)"/>
<circle cx="28.3" cy="19.7" r="1.07" fill="url(#gY)"/>
<circle cx="15.3" cy="13.9" r="0.73" fill="url(#gY)"/>
<circle cx="69.8" cy="14.1" r="0.91" fill="url(#gY)"/>
<circle cx="62.3" cy="47.1" r="0.69" fill="url(#gM)"/>
<circle cx="35.4" cy="47.4" r="0.62" fill="url(#gM)"/>
<circle cx="43.3" cy="20.8" r="1.08" fill="url(#gY)"/>
<circle cx="63.8" cy="77.7" r="0.59" fill="url(#gM)"/>
<circle cx="2.8" cy="21.4" r="0.51" fill="url(#gM)"/>
<circle cx="59.9" cy="31.4" r="0.59" fill="url(#gM)"/>
<circle cx="46.6" cy="92.0" r="1.04" fill="url(#gY)"/>
<circle cx="35.7" cy="54.5" r="0.98" fill="url(#gY)"/>
<circle cx="53.8" cy="94.1" r="1.04" fill="url(#gY)"/>
<circle cx="14.6" cy="50.9" r="1.00" fill="url(#gY)"/>
<circle cx="34.2" cy="75.1" r="0.85" fill="url(#gY)"/>
<circle cx="60.4" cy="75.8" r="0.50" fill="url(#gM)"/>
<circle cx="12.9" cy="48.2" r="0.54" fill="url(#gM)"/>
<circle cx="61.1" cy="89.6" r="0.74" fill="url(#gY)"/>
<circle cx="57.5" cy="5.9" r="0.58" fill="url(#gM)"/>
<circle cx="20.4" cy="78.8" r="0.52" fill="url(#gM)"/>
<circle cx="50.9" cy="64.0" r="1.09" fill="url(#gY)"/>
<circle cx="29.2" cy="58.1" r="0.53" fill="url(#gM)"/>
<circle cx="33.4" cy="14.4" r="0.87" fill="url(#gY)"/>
<circle cx="44.7" cy="10.0" r="0.71" fill="url(#gY)"/>
<circle cx="27.2" cy="73.8" r="1.03" fill="url(#gY)"/>
<circle cx="43.3" cy="44.4" r="0.70" fill="url(#gY)"/>
<circle cx="8.8" cy="64.8" r="0.97" fill="url(#gY)"/>
<circle cx="65.1" cy="82.9" r="0.99" fill="url(#gY)"/>
<circle cx="36.8" cy="74.6" r="0.97" fill="url(#gY)"/>
<circle cx="31.6" cy="71.9" r="0.97" fill="url(#gY)"/>
<circle cx="47.3" cy="54.3" r="0.56" fill="url(#gM)"/>
<circle cx="58.2" cy="84.4" r="0.92" fill="url(#gY)"/>
<circle cx="29.8" cy="29.0" r="0.76" fill="url(#gY)"/>
<circle cx="29.5" cy="9.4" r="0.94" fill="url(#gY)"/>
<circle cx="2.2" cy="42.4" r="0.52" fill="url(#gM)"/>
<circle cx="65.3" cy="91.4" r="0.55" fill="url(#gM)"/>
<circle cx="5.0" cy="34.1" r="0.71" fill="url(#gY)"/>
<circle cx="5.0" cy="84.9" r="0.62" fill="url(#gM)"/>
<circle cx="47.8" cy="89.1" r="0.50" fill="url(#gM)"/>
<circle cx="26.2" cy="2.3" r="1.02" fill="url(#gY)"/>
<circle cx="13.3" cy="10.7" r="1.08" fill="url(#gY)"/>
<circle cx="9.2" cy="91.8" r="0.78" fill="url(#gY)"/>
<circle cx="7.3" cy="55.2" r="1.04" fill="url(#gY)"/>
<circle cx="67.1" cy="76.4" r="0.65" fill="url(#gM)"/>
<circle cx="53.6" cy="27.7" r="0.53" fill="url(#gM)"/>
<circle cx="9.4" cy="2.0" r="0.54" fill="url(#gM)"/>
<circle cx="10.1" cy="40.1" r="0.55" fill="url(#gM)"/>
<circle cx="4.1" cy="38.8" r="0.94" fill="url(#gY)"/>
<circle cx="22.8" cy="19.4" r="0.78" fill="url(#gY)"/>
<circle cx="67.5" cy="75.7" r="0.55" fill="url(#gM)"/>
<circle cx="39.6" cy="65.4" r="0.55" fill="url(#gM)"/>
<circle cx="30.7" cy="23.6" r="0.55" fill="url(#gM)"/>
<circle cx="66.5" cy="13.5" r="0.55" fill="url(#gM)"/>
<circle cx="45.2" cy="45.9" r="0.55" fill="url(#gM)"/>
<circle cx="0.1" cy="66.4" r="0.55" fill="url(#gM)"/>
<circle cx="0.6" cy="28.4" r="0.55" fill="url(#gM)"/>
<circle cx="44.7" cy="51.8" r="0.55" fill="url(#gM)"/>
<circle cx="50.1" cy="44.8" r="0.55" fill="url(#gM)"/>
<circle cx="54.0" cy="22.1" r="0.55" fill="url(#gM)"/>
<circle cx="19.9" cy="93.5" r="0.55" fill="url(#gM)"/>
<circle cx="62.7" cy="3.9" r="0.55" fill="url(#gM)"/>
<circle cx="37.4" cy="55.3" r="0.55" fill="url(#gM)"/>
<circle cx="7.2" cy="24.0" r="0.55" fill="url(#gM)"/>
<circle cx="53.6" cy="86.3" r="0.55" fill="url(#gM)"/>
<circle cx="2.5" cy="75.3" r="0.55" fill="url(#gM)"/>
<circle cx="24.1" cy="50.4" r="0.55" fill="url(#gM)"/>
<circle cx="65.3" cy="15.5" r="0.55" fill="url(#gM)"/>
<circle cx="20.6" cy="49.4" r="0.55" fill="url(#gM)"/>
<circle cx="44.5" cy="50.5" r="0.55" fill="url(#gM)"/>
<circle cx="56.0" cy="27.8" r="0.55" fill="url(#gM)"/>
<circle cx="44.6" cy="14.9" r="0.55" fill="url(#gM)"/>
<circle cx="27.1" cy="56.2" r="0.55" fill="url(#gM)"/>
<circle cx="47.4" cy="33.6" r="0.55" fill="url(#gM)"/>
<circle cx="29.5" cy="45.3" r="0.55" fill="url(#gM)"/>
<circle cx="22.6" cy="61.9" r="0.55" fill="url(#gM)"/>
<circle cx="21.3" cy="70.8" r="0.55" fill="url(#gM)"/>
<circle cx="44.1" cy="2.4" r="0.55" fill="url(#gM)"/>
<circle cx="63.1" cy="1.0" r="0.55" fill="url(#gM)"/>
<circle cx="4.7" cy="82.4" r="0.55" fill="url(#gM)"/>
<circle cx="52.7" cy="63.6" r="0.55" fill="url(#gM)"/>
<circle cx="62.0" cy="66.5" r="0.55" fill="url(#gM)"/>
<circle cx="16.1" cy="71.4" r="0.55" fill="url(#gM)"/>
<circle cx="7.5" cy="43.8" r="0.55" fill="url(#gM)"/>
<circle cx="31.5" cy="75.0" r="0.55" fill="url(#gM)"/>
<circle cx="57.3" cy="37.0" r="0.55" fill="url(#gM)"/>
<circle cx="13.9" cy="89.3" r="0.55" fill="url(#gM)"/>
<circle cx="3.5" cy="36.9" r="0.55" fill="url(#gM)"/>
<circle cx="6.0" cy="17.7" r="0.55" fill="url(#gM)"/>
<circle cx="45.3" cy="16.5" r="0.55" fill="url(#gM)"/>
<circle cx="43.5" cy="67.0" r="0.55" fill="url(#gM)"/>
<circle cx="20.2" cy="83.4" r="0.55" fill="url(#gM)"/>
<circle cx="32.5" cy="60.0" r="0.55" fill="url(#gM)"/>
<circle cx="66.3" cy="55.2" r="0.55" fill="url(#gM)"/>
<circle cx="50.0" cy="20.5" r="0.55" fill="url(#gM)"/>
<circle cx="3.1" cy="15.5" r="0.55" fill="url(#gM)"/>
<circle cx="46.5" cy="13.3" r="0.55" fill="url(#gM)"/>
<circle cx="48.3" cy="92.2" r="0.55" fill="url(#gM)"/>
<circle cx="65.4" cy="43.1" r="0.55" fill="url(#gM)"/>
<circle cx="22.9" cy="43.3" r="0.55" fill="url(#gM)"/>
</g></svg>
<rect x="25.20" y="227.70" width="12.8" height="1.4" fill="#d8d8d8"/>
<rect x="73.90" y="220.20" width="20.00" height="10.7" fill="#f2f550"/>
<text transform="translate(77.40,228.80) scale(0.781,1)" font-size="10" font-family="Liberation Sans, sans-serif" fill="#000" stroke="#000" stroke-width="0.6">2</text>
<text transform="translate(81.74,228.80) scale(0.781,1)" font-size="10" font-family="Liberation Sans, sans-serif" fill="#000" stroke="#000" stroke-width="0.6">8</text>
<text transform="translate(86.09,228.80) scale(0.781,1)" font-size="10" font-family="Liberation Sans, sans-serif" fill="#000" stroke="#000" stroke-width="0.6">.</text>
<text transform="translate(88.26,228.80) scale(0.781,1)" font-size="10" font-family="Liberation Sans, sans-serif" fill="#000" stroke="#000" stroke-width="0.6">2</text>
<svg x="96.76" y="136.30" width="70.90" height="94.60" overflow="hidden"><g filter="url(#lumpy)">
<ellipse cx="27.0" cy="9.4" rx="7.97" ry="5.69" fill="url(#gW)" transform="rotate(-20 27.0 9.4)"/>
<circle cx="22.6" cy="11.5" r="3.79" fill="url(#gW)"/>
<circle cx="13.8" cy="4.6" r="2.28" fill="url(#gW)"/>
<circle cx="8.7" cy="1.3" r="2.28" fill="url(#gW)"/>
<circle cx="18.9" cy="1.3" r="3.03" fill="url(#gW)"/>
<circle cx="43.0" cy="0.7" r="3.79" fill="url(#gW)"/>
<circle cx="7.3" cy="10.0" r="2.28" fill="url(#gW)"/>
<circle cx="10.6" cy="13.4" r="3.79" fill="url(#gW)"/>
<circle cx="6.2" cy="14.1" r="1.71" fill="url(#gY)"/>
<circle cx="59.8" cy="3.6" r="1.90" fill="url(#gW)"/>
<circle cx="60.5" cy="8.0" r="3.41" fill="url(#gW)"/>
<circle cx="57.2" cy="12.3" r="3.98" fill="url(#gW)"/>
<circle cx="63.0" cy="12.6" r="3.41" fill="url(#gW)"/>
<circle cx="68.1" cy="11.9" r="1.90" fill="url(#gW)"/>
<circle cx="41.6" cy="11.2" r="1.33" fill="url(#gY)"/>
<circle cx="35.0" cy="13.4" r="2.28" fill="url(#gW)"/>
<circle cx="42.6" cy="17.7" r="2.66" fill="url(#gW)"/>
<circle cx="44.8" cy="20.2" r="1.90" fill="url(#gY)"/>
<circle cx="5.4" cy="17.7" r="1.90" fill="url(#gW)"/>
<circle cx="5.1" cy="21.4" r="1.90" fill="url(#gW)"/>
<circle cx="9.5" cy="23.9" r="2.28" fill="url(#gW)"/>
<circle cx="13.1" cy="26.8" r="2.66" fill="url(#gW)"/>
<circle cx="16.0" cy="27.2" r="1.90" fill="url(#gW)"/>
<circle cx="23.3" cy="21.4" r="1.33" fill="url(#gY)"/>
<circle cx="18.2" cy="25.8" r="1.33" fill="url(#gY)"/>
<circle cx="35.7" cy="23.6" r="1.71" fill="url(#gY)"/>
<circle cx="38.9" cy="22.8" r="1.33" fill="url(#gY)"/>
<circle cx="35.4" cy="27.7" r="2.66" fill="url(#gW)"/>
<circle cx="38.3" cy="32.3" r="4.17" fill="url(#gW)"/>
<ellipse cx="55.4" cy="32.3" rx="6.07" ry="3.41" fill="url(#gW)" transform="rotate(-25 55.4 32.3)"/>
<circle cx="48.1" cy="36.0" r="4.17" fill="url(#gW)"/>
<circle cx="64.9" cy="29.4" r="2.66" fill="url(#gW)"/>
<circle cx="2.4" cy="33.1" r="1.90" fill="url(#gY)"/>
<circle cx="14.1" cy="33.1" r="2.28" fill="url(#gW)"/>
<circle cx="18.9" cy="33.8" r="4.17" fill="url(#gW)"/>
<circle cx="25.2" cy="36.3" r="2.85" fill="url(#gW)"/>
<circle cx="16.7" cy="37.7" r="1.71" fill="url(#gY)"/>
<circle cx="14.6" cy="41.1" r="2.28" fill="url(#gW)"/>
<circle cx="22.6" cy="40.4" r="1.71" fill="url(#gY)"/>
<circle cx="28.4" cy="38.9" r="2.28" fill="url(#gW)"/>
<ellipse cx="17.9" cy="45.9" rx="5.31" ry="3.41" fill="url(#gW)" transform="rotate(-30 17.9 45.9)"/>
<circle cx="27.3" cy="44.0" r="2.28" fill="url(#gW)"/>
<ellipse cx="42.3" cy="41.5" rx="4.17" ry="2.66" fill="url(#gW)" transform="rotate(-30 42.3 41.5)"/>
<circle cx="37.5" cy="43.6" r="2.09" fill="url(#gW)"/>
<circle cx="36.4" cy="49.8" r="5.31" fill="url(#gW)"/>
<circle cx="39.4" cy="53.8" r="2.47" fill="url(#gY)"/>
<circle cx="51.3" cy="49.8" r="3.79" fill="url(#gW)"/>
<circle cx="52.6" cy="54.9" r="1.90" fill="url(#gY)"/>
<circle cx="48.1" cy="46.2" r="2.28" fill="url(#gW)"/>
<circle cx="55.4" cy="40.4" r="2.85" fill="url(#gW)"/>
<circle cx="61.2" cy="38.9" r="1.71" fill="url(#gY)"/>
<circle cx="61.7" cy="43.0" r="2.28" fill="url(#gW)"/>
<circle cx="5.1" cy="46.9" r="2.28" fill="url(#gW)"/>
<circle cx="22.9" cy="52.8" r="4.17" fill="url(#gW)"/>
<circle cx="6.5" cy="56.4" r="1.52" fill="url(#gY)"/>
<circle cx="26.2" cy="61.9" r="2.85" fill="url(#gW)"/>
<circle cx="47.4" cy="59.0" r="2.85" fill="url(#gW)"/>
<circle cx="50.3" cy="60.8" r="2.28" fill="url(#gW)"/>
<circle cx="39.4" cy="61.5" r="1.71" fill="url(#gY)"/>
<circle cx="18.2" cy="67.8" r="2.28" fill="url(#gW)"/>
<circle cx="29.9" cy="73.2" r="5.31" fill="url(#gW)"/>
<circle cx="24.8" cy="71.0" r="2.85" fill="url(#gW)"/>
<circle cx="20.8" cy="79.0" r="4.74" fill="url(#gW)"/>
<circle cx="13.4" cy="76.8" r="2.85" fill="url(#gW)"/>
<circle cx="3.9" cy="75.4" r="2.28" fill="url(#gW)"/>
<circle cx="16.7" cy="80.2" r="2.28" fill="url(#gW)"/>
<circle cx="6.5" cy="80.5" r="2.28" fill="url(#gW)"/>
<circle cx="3.9" cy="85.6" r="4.74" fill="url(#gW)"/>
<circle cx="24.8" cy="87.3" r="5.31" fill="url(#gW)"/>
<circle cx="32.1" cy="81.9" r="2.85" fill="url(#gW)"/>
<circle cx="41.3" cy="85.3" r="3.41" fill="url(#gW)"/>
<circle cx="53.2" cy="83.4" r="4.74" fill="url(#gW)"/>
<circle cx="48.8" cy="84.9" r="2.66" fill="url(#gW)"/>
<circle cx="60.2" cy="76.5" r="2.66" fill="url(#gW)"/>
<circle cx="66.6" cy="73.6" r="2.85" fill="url(#gW)"/>
<circle cx="65.6" cy="82.7" r="1.90" fill="url(#gY)"/>
<circle cx="35.0" cy="88.5" r="1.52" fill="url(#gY)"/>
<circle cx="13.1" cy="83.4" r="1.52" fill="url(#gY)"/>
<circle cx="63.1" cy="19.9" r="1.52" fill="url(#gY)"/>
<circle cx="63.4" cy="24.3" r="0.88" fill="url(#gW)"/>
<circle cx="29.1" cy="18.5" r="0.88" fill="url(#gY)"/>
<circle cx="16.0" cy="16.7" r="0.88" fill="url(#gY)"/>
<circle cx="21.1" cy="23.1" r="0.88" fill="url(#gY)"/>
<circle cx="10.9" cy="21.4" r="0.88" fill="url(#gY)"/>
<circle cx="8.0" cy="28.0" r="0.88" fill="url(#gY)"/>
<circle cx="16.7" cy="28.0" r="0.88" fill="url(#gY)"/>
<circle cx="19.7" cy="38.2" r="0.88" fill="url(#gY)"/>
<circle cx="10.9" cy="47.6" r="0.88" fill="url(#gY)"/>
<circle cx="43.0" cy="14.1" r="0.88" fill="url(#gY)"/>
<circle cx="45.9" cy="14.8" r="0.88" fill="url(#gY)"/>
<circle cx="39.4" cy="8.3" r="0.88" fill="url(#gY)"/>
<circle cx="55.4" cy="33.1" r="0.88" fill="url(#gY)"/>
<circle cx="48.1" cy="54.2" r="0.88" fill="url(#gY)"/>
<circle cx="2.2" cy="85.6" r="0.88" fill="url(#gY)"/>
<circle cx="37.9" cy="85.6" r="0.88" fill="url(#gY)"/>
<circle cx="47.4" cy="82.7" r="0.88" fill="url(#gY)"/>
<circle cx="61.2" cy="79.7" r="0.88" fill="url(#gY)"/>
<circle cx="70.0" cy="79.0" r="0.88" fill="url(#gY)"/>
<circle cx="13.1" cy="1.0" r="0.75" fill="url(#gW)"/>
<circle cx="32.8" cy="3.9" r="0.75" fill="url(#gW)"/>
<circle cx="16.7" cy="38.2" r="0.75" fill="url(#gW)"/>
<circle cx="26.2" cy="58.6" r="0.75" fill="url(#gW)"/>
<circle cx="27.7" cy="67.3" r="0.75" fill="url(#gW)"/>
<circle cx="59.1" cy="72.5" r="0.75" fill="url(#gW)"/>
<circle cx="15.3" cy="15.5" r="0.75" fill="url(#gW)"/>
<circle cx="29.9" cy="21.4" r="0.75" fill="url(#gW)"/>
<circle cx="51.8" cy="27.2" r="0.75" fill="url(#gW)"/>
<circle cx="63.4" cy="43.3" r="0.75" fill="url(#gW)"/>
<circle cx="8.0" cy="60.8" r="0.75" fill="url(#gW)"/>
<circle cx="43.0" cy="68.1" r="0.75" fill="url(#gW)"/>
<circle cx="54.7" cy="66.6" r="0.75" fill="url(#gW)"/>
<circle cx="35.7" cy="76.8" r="0.75" fill="url(#gW)"/>
</g></svg>
<rect x="98.96" y="227.70" width="12.8" height="1.4" fill="#d8d8d8"/>
<rect x="147.66" y="220.20" width="20.00" height="10.7" fill="#f2f550"/>
<text transform="translate(155.50,228.80) scale(0.781,1)" font-size="10" font-family="Liberation Sans, sans-serif" fill="#000" stroke="#000" stroke-width="0.6">0</text>
<text transform="translate(159.85,228.80) scale(0.781,1)" font-size="10" font-family="Liberation Sans, sans-serif" fill="#000" stroke="#000" stroke-width="0.6">.</text>
<text transform="translate(162.02,228.80) scale(0.781,1)" font-size="10" font-family="Liberation Sans, sans-serif" fill="#000" stroke="#000" stroke-width="0.6">8</text>
<polygon points="153.70,221.64 154.40,221.64 154.40,228.80 153.70,228.80 153.70,223.65 152.06,224.50 152.06,223.65 153.15,222.95 153.58,221.64" fill="#000" stroke="#000" stroke-width="0.6"/>
<svg x="170.52" y="136.30" width="70.90" height="94.60" overflow="hidden"><g filter="url(#lumpy)">
<circle cx="39.6" cy="3.9" r="0.90" fill="url(#gY)"/>
<circle cx="8.2" cy="9.4" r="0.90" fill="url(#gY)"/>
<circle cx="28.7" cy="14.1" r="0.90" fill="url(#gY)"/>
<circle cx="31.3" cy="15.3" r="0.90" fill="url(#gY)"/>
<circle cx="37.4" cy="20.2" r="0.90" fill="url(#gY)"/>
<circle cx="34.2" cy="27.2" r="0.90" fill="url(#gY)"/>
<circle cx="43.0" cy="41.8" r="0.90" fill="url(#gY)"/>
<circle cx="35.7" cy="52.3" r="0.90" fill="url(#gY)"/>
<circle cx="56.4" cy="72.0" r="0.90" fill="url(#gY)"/>
<circle cx="57.3" cy="77.6" r="0.90" fill="url(#gY)"/>
<circle cx="15.5" cy="3.9" r="0.75" fill="url(#gB)"/>
<circle cx="29.4" cy="2.4" r="0.75" fill="url(#gB)"/>
<circle cx="31.3" cy="5.6" r="0.75" fill="url(#gB)"/>
<circle cx="34.9" cy="6.8" r="0.75" fill="url(#gB)"/>
<circle cx="65.9" cy="6.8" r="0.75" fill="url(#gB)"/>
<circle cx="9.0" cy="15.3" r="0.75" fill="url(#gB)"/>
<circle cx="15.5" cy="15.5" r="0.75" fill="url(#gB)"/>
<circle cx="19.2" cy="14.4" r="0.75" fill="url(#gB)"/>
<circle cx="22.8" cy="18.8" r="0.75" fill="url(#gB)"/>
<circle cx="5.0" cy="22.6" r="0.75" fill="url(#gB)"/>
<circle cx="43.7" cy="41.1" r="0.75" fill="url(#gB)"/>
<circle cx="46.9" cy="46.9" r="0.75" fill="url(#gB)"/>
<circle cx="32.7" cy="53.0" r="0.75" fill="url(#gB)"/>
<circle cx="19.6" cy="62.2" r="0.75" fill="url(#gB)"/>
<circle cx="11.9" cy="84.1" r="0.75" fill="url(#gB)"/>
<circle cx="29.0" cy="85.1" r="0.75" fill="url(#gB)"/>
</g></svg>
<rect x="172.72" y="227.70" width="12.8" height="1.4" fill="#d8d8d8"/>
<rect x="228.02" y="220.20" width="13.40" height="10.7" fill="#f2f550"/>
<text transform="translate(230.12,228.80) scale(0.719,1)" font-size="10" font-family="Liberation Sans, sans-serif" fill="#000" stroke="#000" stroke-width="0.6">3</text>
<text transform="translate(234.12,228.80) scale(0.719,1)" font-size="10" font-family="Liberation Sans, sans-serif" fill="#000" stroke="#000" stroke-width="0.6">.</text>
<text transform="translate(236.12,228.80) scale(0.719,1)" font-size="10" font-family="Liberation Sans, sans-serif" fill="#000" stroke="#000" stroke-width="0.6">8</text>
<svg x="244.28" y="136.30" width="70.90" height="94.60" overflow="hidden"><g filter="url(#lumpy)">
<circle cx="33.3" cy="14.1" r="2.41" fill="url(#gM)"/>
<circle cx="30.4" cy="11.9" r="1.60" fill="url(#gM)"/>
<circle cx="39.1" cy="10.4" r="1.93" fill="url(#gM)"/>
<circle cx="18.0" cy="9.7" r="1.60" fill="url(#gM)"/>
<circle cx="68.3" cy="9.0" r="1.60" fill="url(#gM)"/>
<circle cx="54.4" cy="7.5" r="1.28" fill="url(#gY)"/>
<circle cx="7.0" cy="6.1" r="1.28" fill="url(#gY)"/>
<circle cx="66.8" cy="17.7" r="1.28" fill="url(#gY)"/>
<circle cx="64.6" cy="19.9" r="1.28" fill="url(#gY)"/>
<circle cx="55.2" cy="22.8" r="2.25" fill="url(#gM)"/>
<circle cx="51.5" cy="25.8" r="1.60" fill="url(#gM)"/>
<circle cx="55.9" cy="30.1" r="2.25" fill="url(#gM)"/>
<circle cx="62.5" cy="30.1" r="1.93" fill="url(#gM)"/>
<circle cx="61.7" cy="25.8" r="1.60" fill="url(#gM)"/>
<circle cx="58.1" cy="24.3" r="1.28" fill="url(#gY)"/>
<circle cx="59.5" cy="36.0" r="1.93" fill="url(#gM)"/>
<circle cx="62.5" cy="36.7" r="1.60" fill="url(#gM)"/>
<circle cx="55.2" cy="37.4" r="1.60" fill="url(#gM)"/>
<circle cx="34.7" cy="25.8" r="2.25" fill="url(#gM)"/>
<circle cx="37.7" cy="25.8" r="1.60" fill="url(#gM)"/>
<circle cx="43.5" cy="25.8" r="1.93" fill="url(#gM)"/>
<circle cx="42.0" cy="33.8" r="1.60" fill="url(#gM)"/>
<circle cx="34.7" cy="33.8" r="1.60" fill="url(#gM)"/>
<circle cx="36.9" cy="38.9" r="1.60" fill="url(#gM)"/>
<circle cx="29.6" cy="33.8" r="1.28" fill="url(#gY)"/>
<circle cx="42.0" cy="41.1" r="1.28" fill="url(#gY)"/>
<circle cx="6.3" cy="24.3" r="1.28" fill="url(#gY)"/>
<circle cx="15.8" cy="30.1" r="1.28" fill="url(#gY)"/>
<circle cx="4.8" cy="41.1" r="2.41" fill="url(#gM)"/>
<circle cx="5.6" cy="46.9" r="1.60" fill="url(#gM)"/>
<circle cx="14.3" cy="38.9" r="1.28" fill="url(#gY)"/>
<circle cx="8.5" cy="57.1" r="2.41" fill="url(#gM)"/>
<circle cx="18.0" cy="57.9" r="1.60" fill="url(#gM)"/>
<circle cx="21.6" cy="54.9" r="1.60" fill="url(#gM)"/>
<circle cx="12.9" cy="59.3" r="1.28" fill="url(#gY)"/>
<circle cx="14.3" cy="51.3" r="1.28" fill="url(#gY)"/>
<circle cx="18.7" cy="53.5" r="1.28" fill="url(#gY)"/>
<circle cx="27.4" cy="51.3" r="1.28" fill="url(#gY)"/>
<circle cx="35.5" cy="54.2" r="1.28" fill="url(#gY)"/>
<circle cx="36.2" cy="59.3" r="1.60" fill="url(#gM)"/>
<circle cx="47.9" cy="51.3" r="1.28" fill="url(#gY)"/>
<circle cx="51.5" cy="55.7" r="2.25" fill="url(#gM)"/>
<circle cx="62.5" cy="62.2" r="2.25" fill="url(#gM)"/>
<circle cx="60.3" cy="60.0" r="1.60" fill="url(#gM)"/>
<circle cx="68.3" cy="59.3" r="1.28" fill="url(#gY)"/>
<circle cx="68.3" cy="63.7" r="1.60" fill="url(#gM)"/>
<circle cx="17.2" cy="64.4" r="1.60" fill="url(#gM)"/>
<circle cx="23.8" cy="63.7" r="1.60" fill="url(#gM)"/>
<circle cx="30.4" cy="63.7" r="1.28" fill="url(#gY)"/>
<circle cx="19.4" cy="70.3" r="2.89" fill="url(#gM)"/>
<circle cx="13.6" cy="76.1" r="2.41" fill="url(#gM)"/>
<circle cx="16.5" cy="80.5" r="1.60" fill="url(#gM)"/>
<circle cx="23.1" cy="75.4" r="1.28" fill="url(#gY)"/>
<circle cx="34.7" cy="66.6" r="1.60" fill="url(#gM)"/>
<circle cx="38.4" cy="66.6" r="1.28" fill="url(#gY)"/>
<circle cx="37.7" cy="71.0" r="1.28" fill="url(#gY)"/>
<circle cx="33.3" cy="71.0" r="1.60" fill="url(#gM)"/>
<circle cx="47.9" cy="67.3" r="1.93" fill="url(#gM)"/>
<circle cx="52.2" cy="74.6" r="1.93" fill="url(#gM)"/>
<circle cx="59.5" cy="72.5" r="1.60" fill="url(#gM)"/>
<circle cx="64.6" cy="68.1" r="1.93" fill="url(#gM)"/>
<circle cx="68.3" cy="72.5" r="1.60" fill="url(#gM)"/>
<circle cx="43.5" cy="74.6" r="1.28" fill="url(#gY)"/>
<circle cx="39.1" cy="76.8" r="1.93" fill="url(#gM)"/>
<circle cx="35.5" cy="78.3" r="1.28" fill="url(#gY)"/>
<circle cx="28.9" cy="75.4" r="1.28" fill="url(#gY)"/>
<circle cx="8.5" cy="87.0" r="2.41" fill="url(#gM)"/>
<circle cx="10.7" cy="84.9" r="1.60" fill="url(#gM)"/>
<circle cx="21.6" cy="85.6" r="2.41" fill="url(#gM)"/>
<circle cx="23.1" cy="87.0" r="1.93" fill="url(#gM)"/>
<circle cx="18.0" cy="90.7" r="1.93" fill="url(#gM)"/>
<circle cx="28.9" cy="84.1" r="1.60" fill="url(#gM)"/>
<circle cx="34.7" cy="87.0" r="1.60" fill="url(#gM)"/>
<circle cx="38.4" cy="92.9" r="1.93" fill="url(#gM)"/>
<circle cx="43.5" cy="85.6" r="1.60" fill="url(#gM)"/>
<circle cx="46.4" cy="81.2" r="1.28" fill="url(#gY)"/>
<circle cx="64.6" cy="81.2" r="1.93" fill="url(#gM)"/>
<circle cx="13.6" cy="90.0" r="1.28" fill="url(#gY)"/>
<circle cx="50.1" cy="87.0" r="1.28" fill="url(#gY)"/>
<circle cx="32.5" cy="81.9" r="1.28" fill="url(#gY)"/>
<circle cx="40.6" cy="40.7" r="0.62" fill="url(#gM)"/>
<circle cx="57.7" cy="78.2" r="0.60" fill="url(#gM)"/>
<circle cx="37.0" cy="31.1" r="1.07" fill="url(#gY)"/>
<circle cx="42.8" cy="36.3" r="0.90" fill="url(#gY)"/>
<circle cx="32.4" cy="65.2" r="0.58" fill="url(#gM)"/>
<circle cx="43.5" cy="4.2" r="0.58" fill="url(#gM)"/>
<circle cx="66.8" cy="28.8" r="1.04" fill="url(#gY)"/>
<circle cx="22.3" cy="52.2" r="0.54" fill="url(#gM)"/>
<circle cx="41.5" cy="80.2" r="0.63" fill="url(#gM)"/>
<circle cx="58.1" cy="62.5" r="1.01" fill="url(#gY)"/>
<circle cx="10.6" cy="53.9" r="0.86" fill="url(#gY)"/>
<circle cx="8.0" cy="73.7" r="0.60" fill="url(#gM)"/>
<circle cx="57.3" cy="90.0" r="0.75" fill="url(#gY)"/>
<circle cx="55.2" cy="45.6" r="0.76" fill="url(#gY)"/>
<circle cx="0.4" cy="67.7" r="0.69" fill="url(#gM)"/>
<circle cx="5.7" cy="42.6" r="0.73" fill="url(#gY)"/>
<circle cx="61.7" cy="64.0" r="0.82" fill="url(#gY)"/>
<circle cx="64.6" cy="49.4" r="0.54" fill="url(#gM)"/>
<circle cx="29.9" cy="55.6" r="0.79" fill="url(#gY)"/>
<circle cx="29.5" cy="3.4" r="0.82" fill="url(#gY)"/>
<circle cx="3.6" cy="8.8" r="0.77" fill="url(#gY)"/>
<circle cx="70.5" cy="46.1" r="0.76" fill="url(#gY)"/>
<circle cx="63.8" cy="66.3" r="0.89" fill="url(#gY)"/>
<circle cx="64.6" cy="14.6" r="0.87" fill="url(#gY)"/>
<circle cx="48.8" cy="61.0" r="1.00" fill="url(#gY)"/>
<circle cx="34.0" cy="76.7" r="0.76" fill="url(#gY)"/>
<circle cx="61.0" cy="68.2" r="0.53" fill="url(#gM)"/>
<circle cx="64.8" cy="72.8" r="1.09" fill="url(#gY)"/>
<circle cx="20.3" cy="63.7" r="0.86" fill="url(#gY)"/>
<circle cx="65.3" cy="18.2" r="0.55" fill="url(#gM)"/>
<circle cx="13.8" cy="19.7" r="1.10" fill="url(#gY)"/>
<circle cx="63.0" cy="44.1" r="0.92" fill="url(#gY)"/>
<circle cx="39.4" cy="25.3" r="0.88" fill="url(#gY)"/>
<circle cx="44.5" cy="19.9" r="1.02" fill="url(#gY)"/>
<circle cx="61.9" cy="62.0" r="0.75" fill="url(#gY)"/>
<circle cx="32.4" cy="72.1" r="0.67" fill="url(#gM)"/>
<circle cx="49.3" cy="48.1" r="0.66" fill="url(#gM)"/>
<circle cx="34.1" cy="65.5" r="0.98" fill="url(#gY)"/>
<circle cx="28.8" cy="75.4" r="1.10" fill="url(#gY)"/>
<circle cx="59.4" cy="1.6" r="0.69" fill="url(#gM)"/>
<circle cx="52.6" cy="58.0" r="0.61" fill="url(#gM)"/>
<circle cx="66.4" cy="20.9" r="1.07" fill="url(#gY)"/>
<circle cx="13.6" cy="54.3" r="1.08" fill="url(#gY)"/>
<circle cx="61.7" cy="1.5" r="1.01" fill="url(#gY)"/>
<circle cx="54.2" cy="90.7" r="0.53" fill="url(#gM)"/>
<circle cx="49.2" cy="4.8" r="1.02" fill="url(#gY)"/>
<circle cx="28.2" cy="57.1" r="0.59" fill="url(#gM)"/>
<circle cx="43.0" cy="82.1" r="0.52" fill="url(#gM)"/>
<circle cx="65.4" cy="48.6" r="0.74" fill="url(#gY)"/>
<circle cx="41.0" cy="33.0" r="1.02" fill="url(#gY)"/>
<circle cx="70.0" cy="16.6" r="0.99" fill="url(#gY)"/>
<circle cx="24.4" cy="53.1" r="0.62" fill="url(#gM)"/>
<circle cx="13.3" cy="60.2" r="1.08" fill="url(#gY)"/>
<circle cx="56.3" cy="34.2" r="0.53" fill="url(#gM)"/>
<circle cx="3.0" cy="56.8" r="0.71" fill="url(#gY)"/>
<circle cx="53.4" cy="44.5" r="1.03" fill="url(#gY)"/>
<circle cx="12.3" cy="83.6" r="0.75" fill="url(#gY)"/>
<circle cx="36.4" cy="84.5" r="0.56" fill="url(#gM)"/>
<circle cx="68.1" cy="11.2" r="0.93" fill="url(#gY)"/>
<circle cx="44.0" cy="57.7" r="0.51" fill="url(#gM)"/>
<circle cx="11.2" cy="64.3" r="0.56" fill="url(#gM)"/>
<circle cx="45.2" cy="45.1" r="0.74" fill="url(#gY)"/>
<circle cx="13.4" cy="81.9" r="0.54" fill="url(#gM)"/>
<circle cx="24.0" cy="87.3" r="0.72" fill="url(#gY)"/>
<circle cx="44.4" cy="93.7" r="0.62" fill="url(#gM)"/>
<circle cx="20.5" cy="78.0" r="0.65" fill="url(#gM)"/>
<circle cx="43.6" cy="55.5" r="0.83" fill="url(#gY)"/>
<circle cx="2.2" cy="0.5" r="0.53" fill="url(#gM)"/>
<circle cx="54.7" cy="93.0" r="0.73" fill="url(#gY)"/>
<circle cx="44.3" cy="85.6" r="0.53" fill="url(#gM)"/>
<circle cx="2.5" cy="59.6" r="0.93" fill="url(#gY)"/>
<circle cx="12.5" cy="43.8" r="0.55" fill="url(#gM)"/>
<circle cx="37.3" cy="13.4" r="0.57" fill="url(#gM)"/>
<circle cx="50.1" cy="76.6" r="0.85" fill="url(#gY)"/>
<circle cx="45.1" cy="71.6" r="0.81" fill="url(#gY)"/>
<circle cx="45.9" cy="50.9" r="0.68" fill="url(#gM)"/>
<circle cx="26.6" cy="63.6" r="0.68" fill="url(#gM)"/>
<circle cx="60.4" cy="16.7" r="0.52" fill="url(#gM)"/>
<circle cx="58.6" cy="73.5" r="0.90" fill="url(#gY)"/>
<circle cx="11.0" cy="46.5" r="0.78" fill="url(#gY)"/>
<circle cx="22.5" cy="89.2" r="0.77" fill="url(#gY)"/>
<circle cx="47.8" cy="92.1" r="0.73" fill="url(#gY)"/>
<circle cx="55.1" cy="74.8" r="0.93" fill="url(#gY)"/>
<circle cx="9.1" cy="94.2" r="0.76" fill="url(#gY)"/>
<circle cx="46.8" cy="79.3" r="0.93" fill="url(#gY)"/>
<circle cx="54.2" cy="38.0" r="0.62" fill="url(#gM)"/>
<circle cx="67.5" cy="22.9" r="0.73" fill="url(#gY)"/>
<circle cx="61.3" cy="56.8" r="0.99" fill="url(#gY)"/>
<circle cx="27.4" cy="91.2" r="0.82" fill="url(#gY)"/>
<circle cx="53.2" cy="81.1" r="0.58" fill="url(#gM)"/>
<circle cx="14.9" cy="1.1" r="0.60" fill="url(#gM)"/>
<circle cx="41.8" cy="14.7" r="0.71" fill="url(#gY)"/>
<circle cx="0.3" cy="64.0" r="0.97" fill="url(#gY)"/>
<circle cx="32.6" cy="83.1" r="1.00" fill="url(#gY)"/>
<circle cx="62.3" cy="7.0" r="0.55" fill="url(#gM)"/>
<circle cx="0.5" cy="78.5" r="0.55" fill="url(#gM)"/>
<circle cx="40.5" cy="85.4" r="0.55" fill="url(#gM)"/>
<circle cx="67.0" cy="71.5" r="0.55" fill="url(#gM)"/>
<circle cx="57.9" cy="37.4" r="0.55" fill="url(#gM)"/>
<circle cx="70.8" cy="60.1" r="0.55" fill="url(#gM)"/>
<circle cx="49.4" cy="28.4" r="0.55" fill="url(#gM)"/>
<circle cx="64.5" cy="56.8" r="0.55" fill="url(#gM)"/>
<circle cx="11.4" cy="74.0" r="0.55" fill="url(#gM)"/>
<circle cx="40.1" cy="79.2" r="0.55" fill="url(#gM)"/>
<circle cx="11.7" cy="94.2" r="0.55" fill="url(#gM)"/>
<circle cx="54.5" cy="2.7" r="0.55" fill="url(#gM)"/>
<circle cx="3.0" cy="23.3" r="0.55" fill="url(#gM)"/>
<circle cx="48.2" cy="43.1" r="0.55" fill="url(#gM)"/>
<circle cx="29.9" cy="64.6" r="0.55" fill="url(#gM)"/>
<circle cx="47.2" cy="22.7" r="0.55" fill="url(#gM)"/>
<circle cx="68.8" cy="45.0" r="0.55" fill="url(#gM)"/>
<circle cx="49.6" cy="56.8" r="0.55" fill="url(#gM)"/>
<circle cx="25.5" cy="69.0" r="0.55" fill="url(#gM)"/>
<circle cx="5.0" cy="55.2" r="0.55" fill="url(#gM)"/>
<circle cx="41.6" cy="68.8" r="0.55" fill="url(#gM)"/>
<circle cx="52.1" cy="15.3" r="0.55" fill="url(#gM)"/>
<circle cx="14.4" cy="89.8" r="0.55" fill="url(#gM)"/>
<circle cx="34.9" cy="83.2" r="0.55" fill="url(#gM)"/>
<circle cx="49.4" cy="23.3" r="0.55" fill="url(#gM)"/>
<circle cx="13.5" cy="40.2" r="0.55" fill="url(#gM)"/>
<circle cx="59.3" cy="45.7" r="0.55" fill="url(#gM)"/>
<circle cx="53.6" cy="76.7" r="0.55" fill="url(#gM)"/>
<circle cx="46.7" cy="70.2" r="0.55" fill="url(#gM)"/>
<circle cx="37.1" cy="75.6" r="0.55" fill="url(#gM)"/>
<circle cx="51.1" cy="60.6" r="0.55" fill="url(#gM)"/>
<circle cx="42.9" cy="87.2" r="0.55" fill="url(#gM)"/>
<circle cx="49.0" cy="85.6" r="0.55" fill="url(#gM)"/>
<circle cx="23.3" cy="81.8" r="0.55" fill="url(#gM)"/>
<circle cx="41.3" cy="87.9" r="0.55" fill="url(#gM)"/>
<circle cx="56.9" cy="23.1" r="0.55" fill="url(#gM)"/>
<circle cx="36.1" cy="40.1" r="0.55" fill="url(#gM)"/>
<circle cx="24.9" cy="84.6" r="0.55" fill="url(#gM)"/>
<circle cx="60.1" cy="77.3" r="0.55" fill="url(#gM)"/>
<circle cx="65.6" cy="71.7" r="0.55" fill="url(#gM)"/>
<circle cx="1.6" cy="56.7" r="0.55" fill="url(#gM)"/>
<circle cx="33.8" cy="6.3" r="0.55" fill="url(#gM)"/>
<circle cx="46.0" cy="25.6" r="0.55" fill="url(#gM)"/>
<circle cx="58.4" cy="85.2" r="0.55" fill="url(#gM)"/>
<circle cx="41.0" cy="34.3" r="0.55" fill="url(#gM)"/>
<circle cx="33.0" cy="31.6" r="0.55" fill="url(#gM)"/>
<circle cx="18.5" cy="94.5" r="0.55" fill="url(#gM)"/>
<circle cx="24.7" cy="93.2" r="0.55" fill="url(#gM)"/>
<circle cx="28.8" cy="26.1" r="0.55" fill="url(#gM)"/>
<circle cx="39.4" cy="16.1" r="0.55" fill="url(#gM)"/>
<circle cx="53.9" cy="72.5" r="0.55" fill="url(#gM)"/>
</g></svg>
<rect x="246.48" y="227.70" width="12.8" height="1.4" fill="#d8d8d8"/>
<rect x="295.18" y="220.20" width="20.00" height="10.7" fill="#f2f550"/>
<text transform="translate(298.68,228.80) scale(0.781,1)" font-size="10" font-family="Liberation Sans, sans-serif" fill="#000" stroke="#000" stroke-width="0.6">2</text>
<text transform="translate(303.02,228.80) scale(0.781,1)" font-size="10" font-family="Liberation Sans, sans-serif" fill="#000" stroke="#000" stroke-width="0.6">9</text>
<text transform="translate(307.37,228.80) scale(0.781,1)" font-size="10" font-family="Liberation Sans, sans-serif" fill="#000" stroke="#000" stroke-width="0.6">.</text>
<text transform="translate(309.54,228.80) scale(0.781,1)" font-size="10" font-family="Liberation Sans, sans-serif" fill="#000" stroke="#000" stroke-width="0.6">0</text>
<svg x="318.04" y="136.30" width="70.90" height="94.60" overflow="hidden"><g filter="url(#lumpy)">
<ellipse cx="29.1" cy="14.1" rx="5.87" ry="8.01" fill="url(#gW)" transform="rotate(20 29.1 14.1)"/>
<circle cx="30.6" cy="5.3" r="2.14" fill="url(#gW)"/>
<circle cx="30.6" cy="1.3" r="1.42" fill="url(#gW)"/>
<circle cx="10.9" cy="4.6" r="1.42" fill="url(#gW)"/>
<circle cx="45.9" cy="6.1" r="5.34" fill="url(#gW)"/>
<circle cx="53.9" cy="7.5" r="4.45" fill="url(#gW)"/>
<circle cx="59.8" cy="2.4" r="4.45" fill="url(#gW)"/>
<circle cx="67.8" cy="6.1" r="3.56" fill="url(#gW)"/>
<circle cx="54.7" cy="14.1" r="3.56" fill="url(#gW)"/>
<circle cx="56.9" cy="19.2" r="3.20" fill="url(#gW)"/>
<circle cx="66.3" cy="19.9" r="4.45" fill="url(#gW)"/>
<circle cx="64.9" cy="26.5" r="3.56" fill="url(#gW)"/>
<circle cx="60.1" cy="26.5" r="2.67" fill="url(#gW)"/>
<circle cx="62.0" cy="30.9" r="2.14" fill="url(#gW)"/>
<circle cx="67.8" cy="28.7" r="3.20" fill="url(#gW)"/>
<circle cx="62.7" cy="14.1" r="1.42" fill="url(#gY)"/>
<circle cx="40.1" cy="28.7" r="4.45" fill="url(#gW)"/>
<ellipse cx="49.6" cy="36.7" rx="4.27" ry="2.85" fill="url(#gW)" transform="rotate(-60 49.6 36.7)"/>
<circle cx="47.4" cy="41.1" r="2.49" fill="url(#gW)"/>
<circle cx="9.4" cy="24.3" r="3.56" fill="url(#gW)"/>
<circle cx="8.7" cy="22.8" r="1.78" fill="url(#gW)"/>
<circle cx="4.3" cy="28.0" r="3.20" fill="url(#gW)"/>
<circle cx="1.1" cy="32.3" r="3.20" fill="url(#gW)"/>
<circle cx="1.1" cy="41.1" r="2.67" fill="url(#gW)"/>
<circle cx="14.6" cy="28.0" r="3.56" fill="url(#gW)"/>
<circle cx="11.6" cy="33.1" r="3.20" fill="url(#gW)"/>
<circle cx="16.7" cy="38.2" r="5.70" fill="url(#gW)"/>
<circle cx="8.0" cy="34.5" r="2.14" fill="url(#gW)"/>
<circle cx="20.4" cy="43.3" r="2.67" fill="url(#gW)"/>
<circle cx="8.0" cy="46.2" r="3.20" fill="url(#gW)"/>
<circle cx="14.6" cy="46.2" r="2.67" fill="url(#gW)"/>
<circle cx="9.4" cy="51.3" r="2.67" fill="url(#gW)"/>
<ellipse cx="30.6" cy="44.0" rx="7.48" ry="6.76" fill="url(#gW)" transform="rotate(0 30.6 44.0)"/>
<circle cx="35.7" cy="38.9" r="4.45" fill="url(#gW)"/>
<circle cx="26.2" cy="47.6" r="3.56" fill="url(#gW)"/>
<circle cx="10.9" cy="57.9" r="3.56" fill="url(#gW)"/>
<circle cx="16.0" cy="60.0" r="2.14" fill="url(#gW)"/>
<circle cx="15.3" cy="63.7" r="1.78" fill="url(#gW)"/>
<circle cx="24.8" cy="60.8" r="3.20" fill="url(#gW)"/>
<circle cx="29.1" cy="57.9" r="3.20" fill="url(#gW)"/>
<circle cx="35.7" cy="57.1" r="2.49" fill="url(#gW)"/>
<circle cx="41.5" cy="57.1" r="2.85" fill="url(#gW)"/>
<circle cx="18.9" cy="54.2" r="0.75" fill="url(#gY)"/>
<circle cx="21.8" cy="67.3" r="2.67" fill="url(#gW)"/>
<circle cx="20.4" cy="71.7" r="2.49" fill="url(#gW)"/>
<circle cx="24.0" cy="72.5" r="2.67" fill="url(#gW)"/>
<circle cx="31.3" cy="71.0" r="4.98" fill="url(#gW)"/>
<circle cx="51.8" cy="66.9" r="5.34" fill="url(#gW)"/>
<circle cx="48.1" cy="68.1" r="3.56" fill="url(#gW)"/>
<circle cx="59.8" cy="64.4" r="4.45" fill="url(#gW)"/>
<circle cx="64.2" cy="69.8" r="3.56" fill="url(#gW)"/>
<circle cx="68.5" cy="72.5" r="2.67" fill="url(#gW)"/>
<circle cx="61.2" cy="75.4" r="2.14" fill="url(#gW)"/>
<circle cx="22.6" cy="81.9" r="3.56" fill="url(#gW)"/>
<circle cx="29.1" cy="81.2" r="3.20" fill="url(#gW)"/>
<circle cx="28.4" cy="85.6" r="2.14" fill="url(#gW)"/>
<circle cx="43.7" cy="80.5" r="3.20" fill="url(#gW)"/>
<circle cx="27.0" cy="93.2" r="2.67" fill="url(#gW)"/>
<circle cx="35.7" cy="91.4" r="3.92" fill="url(#gW)"/>
<circle cx="43.7" cy="91.7" r="3.20" fill="url(#gW)"/>
<circle cx="10.2" cy="19.2" r="0.75" fill="url(#gY)"/>
<circle cx="58.3" cy="14.1" r="0.75" fill="url(#gY)"/>
<circle cx="15.3" cy="63.7" r="0.75" fill="url(#gY)"/>
<circle cx="59.0" cy="60.8" r="0.75" fill="url(#gY)"/>
</g></svg>
<rect x="320.24" y="227.70" width="12.8" height="1.4" fill="#d8d8d8"/>
<rect x="375.54" y="220.20" width="13.40" height="10.7" fill="#f2f550"/>
<text transform="translate(377.64,228.80) scale(0.719,1)" font-size="10" font-family="Liberation Sans, sans-serif" fill="#000" stroke="#000" stroke-width="0.6">6</text>
<text transform="translate(381.64,228.80) scale(0.719,1)" font-size="10" font-family="Liberation Sans, sans-serif" fill="#000" stroke="#000" stroke-width="0.6">.</text>
<text transform="translate(383.64,228.80) scale(0.719,1)" font-size="10" font-family="Liberation Sans, sans-serif" fill="#000" stroke="#000" stroke-width="0.6">3</text>
<svg x="391.80" y="136.30" width="70.90" height="94.60" overflow="hidden"><g filter="url(#lumpy)">
<circle cx="10.9" cy="9.0" r="0.90" fill="url(#gY)"/>
<circle cx="26.2" cy="11.9" r="0.90" fill="url(#gY)"/>
<circle cx="29.1" cy="10.9" r="0.90" fill="url(#gY)"/>
<circle cx="34.9" cy="11.9" r="0.90" fill="url(#gY)"/>
<circle cx="4.3" cy="34.8" r="0.90" fill="url(#gY)"/>
<circle cx="29.8" cy="33.8" r="0.90" fill="url(#gY)"/>
<circle cx="18.2" cy="40.6" r="0.90" fill="url(#gY)"/>
<circle cx="29.1" cy="42.5" r="0.90" fill="url(#gY)"/>
<circle cx="40.8" cy="57.6" r="0.90" fill="url(#gY)"/>
<circle cx="45.9" cy="64.4" r="0.90" fill="url(#gY)"/>
<circle cx="47.3" cy="69.5" r="0.90" fill="url(#gY)"/>
<circle cx="61.6" cy="66.2" r="0.90" fill="url(#gY)"/>
<circle cx="69.7" cy="33.1" r="0.90" fill="url(#gY)"/>
<circle cx="13.8" cy="2.7" r="0.75" fill="url(#gB)"/>
<circle cx="30.6" cy="3.9" r="0.75" fill="url(#gB)"/>
<circle cx="25.2" cy="10.9" r="0.75" fill="url(#gB)"/>
<circle cx="9.7" cy="18.2" r="0.75" fill="url(#gB)"/>
<circle cx="55.8" cy="25.3" r="0.75" fill="url(#gB)"/>
<circle cx="14.5" cy="31.6" r="0.75" fill="url(#gB)"/>
<circle cx="10.9" cy="34.8" r="0.75" fill="url(#gB)"/>
<circle cx="26.6" cy="36.9" r="0.75" fill="url(#gB)"/>
<circle cx="11.6" cy="39.2" r="0.75" fill="url(#gB)"/>
<circle cx="30.1" cy="39.6" r="0.75" fill="url(#gB)"/>
<circle cx="5.8" cy="50.3" r="0.75" fill="url(#gB)"/>
<circle cx="10.1" cy="48.8" r="0.75" fill="url(#gB)"/>
<circle cx="26.9" cy="50.3" r="0.75" fill="url(#gB)"/>
<circle cx="31.3" cy="51.3" r="0.75" fill="url(#gB)"/>
<circle cx="21.4" cy="53.8" r="0.75" fill="url(#gB)"/>
<circle cx="12.0" cy="53.8" r="0.75" fill="url(#gB)"/>
<circle cx="29.1" cy="53.2" r="0.75" fill="url(#gB)"/>
<circle cx="13.5" cy="59.0" r="0.75" fill="url(#gB)"/>
<circle cx="25.5" cy="59.6" r="0.75" fill="url(#gB)"/>
<circle cx="59.0" cy="63.0" r="0.75" fill="url(#gB)"/>
</g></svg>
<rect x="394.00" y="227.70" width="12.8" height="1.4" fill="#d8d8d8"/>
<rect x="449.30" y="220.20" width="13.40" height="10.7" fill="#f2f550"/>
<text transform="translate(451.40,228.80) scale(0.719,1)" font-size="10" font-family="Liberation Sans, sans-serif" fill="#000" stroke="#000" stroke-width="0.6">6</text>
<text transform="translate(455.40,228.80) scale(0.719,1)" font-size="10" font-family="Liberation Sans, sans-serif" fill="#000" stroke="#000" stroke-width="0.6">.</text>
<text transform="translate(457.40,228.80) scale(0.719,1)" font-size="10" font-family="Liberation Sans, sans-serif" fill="#000" stroke="#000" stroke-width="0.6">9</text>
<svg x="465.56" y="136.30" width="70.90" height="94.60" overflow="hidden"><g filter="url(#lumpy)">
<circle cx="60.9" cy="19.5" r="0.75" fill="url(#gY)"/>
<circle cx="53.0" cy="35.1" r="0.75" fill="url(#gM)"/>
</g></svg>
<rect x="467.76" y="227.70" width="12.8" height="1.4" fill="#d8d8d8"/>
<rect x="523.06" y="220.20" width="13.40" height="10.7" fill="#f2f550"/>
<text transform="translate(525.16,228.80) scale(0.719,1)" font-size="10" font-family="Liberation Sans, sans-serif" fill="#000" stroke="#000" stroke-width="0.6">0</text>
<text transform="translate(529.16,228.80) scale(0.719,1)" font-size="10" font-family="Liberation Sans, sans-serif" fill="#000" stroke="#000" stroke-width="0.6">.</text>
<text transform="translate(531.16,228.80) scale(0.719,1)" font-size="10" font-family="Liberation Sans, sans-serif" fill="#000" stroke="#000" stroke-width="0.6">4</text>
<svg x="539.32" y="136.30" width="70.90" height="94.60" overflow="hidden"><g filter="url(#lumpy)">
<ellipse cx="57.3" cy="30.1" rx="6.93" ry="5.11" fill="url(#gW)" transform="rotate(15 57.3 30.1)"/>
<ellipse cx="67.5" cy="31.3" rx="2.74" ry="1.64" fill="url(#gW)" transform="rotate(-35 67.5 31.3)"/>
<ellipse cx="62.1" cy="40.1" rx="5.47" ry="6.02" fill="url(#gW)" transform="rotate(0 62.1 40.1)"/>
<circle cx="69.3" cy="51.3" r="2.37" fill="url(#gW)"/>
<ellipse cx="60.2" cy="57.9" rx="9.12" ry="6.93" fill="url(#gW)" transform="rotate(0 60.2 57.9)"/>
<circle cx="63.9" cy="56.4" r="4.56" fill="url(#gW)"/>
<circle cx="57.3" cy="55.7" r="4.01" fill="url(#gW)"/>
<ellipse cx="9.2" cy="56.4" rx="10.94" ry="10.58" fill="url(#gW)" transform="rotate(0 9.2 56.4)"/>
<circle cx="12.8" cy="49.8" r="6.38" fill="url(#gW)"/>
<circle cx="5.5" cy="52.0" r="4.56" fill="url(#gW)"/>
<circle cx="11.4" cy="60.8" r="5.47" fill="url(#gW)"/>
<circle cx="69.4" cy="71.0" r="2.01" fill="url(#gW)"/>
<ellipse cx="9.2" cy="81.2" rx="6.38" ry="10.94" fill="url(#gW)" transform="rotate(-25 9.2 81.2)"/>
<ellipse cx="27.4" cy="81.2" rx="8.75" ry="8.21" fill="url(#gW)" transform="rotate(0 27.4 81.2)"/>
<ellipse cx="28.9" cy="74.6" rx="2.37" ry="1.82" fill="url(#gW)" transform="rotate(-30 28.9 74.6)"/>
<ellipse cx="43.5" cy="87.8" rx="8.21" ry="7.30" fill="url(#gW)" transform="rotate(0 43.5 87.8)"/>
<ellipse cx="42.0" cy="93.2" rx="2.19" ry="1.46" fill="url(#gW)" transform="rotate(0 42.0 93.2)"/>
<ellipse cx="36.2" cy="94.0" rx="6.38" ry="2.55" fill="url(#gW)" transform="rotate(0 36.2 94.0)"/>
<ellipse cx="6.2" cy="91.7" rx="5.47" ry="2.19" fill="url(#gW)" transform="rotate(0 6.2 91.7)"/>
</g></svg>
<rect x="541.52" y="227.70" width="12.8" height="1.4" fill="#d8d8d8"/>
<rect x="596.82" y="220.20" width="13.40" height="10.7" fill="#f2f550"/>
<text transform="translate(598.92,228.80) scale(0.719,1)" font-size="10" font-family="Liberation Sans, sans-serif" fill="#000" stroke="#000" stroke-width="0.6">0</text>
<text transform="translate(602.92,228.80) scale(0.719,1)" font-size="10" font-family="Liberation Sans, sans-serif" fill="#000" stroke="#000" stroke-width="0.6">.</text>
<text transform="translate(604.92,228.80) scale(0.719,1)" font-size="10" font-family="Liberation Sans, sans-serif" fill="#000" stroke="#000" stroke-width="0.6">2</text>
<svg x="613.08" y="136.30" width="70.90" height="94.60" overflow="hidden"><g filter="url(#lumpy)">
<circle cx="6.5" cy="3.1" r="2.08" fill="url(#gB)"/>
<ellipse cx="29.1" cy="1.7" rx="4.44" ry="3.05" fill="url(#gB)" transform="rotate(0 29.1 1.7)"/>
<circle cx="29.8" cy="7.5" r="2.08" fill="url(#gB)"/>
<circle cx="39.3" cy="6.1" r="3.47" fill="url(#gB)"/>
<circle cx="36.4" cy="10.9" r="2.49" fill="url(#gB)"/>
<circle cx="64.1" cy="1.7" r="2.49" fill="url(#gB)"/>
<circle cx="54.6" cy="6.1" r="1.39" fill="url(#gB)"/>
<circle cx="48.1" cy="3.9" r="0.88" fill="url(#gY)"/>
<circle cx="42.2" cy="6.1" r="1.39" fill="url(#gB)"/>
<circle cx="23.3" cy="13.4" r="4.16" fill="url(#gB)"/>
<ellipse cx="14.5" cy="19.9" rx="5.82" ry="3.47" fill="url(#gB)" transform="rotate(-15 14.5 19.9)"/>
<ellipse cx="5.0" cy="17.3" rx="3.47" ry="1.94" fill="url(#gB)" transform="rotate(20 5.0 17.3)"/>
<circle cx="11.6" cy="14.8" r="2.08" fill="url(#gB)"/>
<circle cx="4.3" cy="24.3" r="1.39" fill="url(#gB)"/>
<circle cx="24.0" cy="2.4" r="0.75" fill="url(#gY)"/>
<circle cx="19.6" cy="10.4" r="0.75" fill="url(#gY)"/>
<circle cx="40.8" cy="10.4" r="0.75" fill="url(#gY)"/>
<circle cx="32.7" cy="18.5" r="1.66" fill="url(#gB)"/>
<ellipse cx="46.6" cy="17.3" rx="5.27" ry="4.16" fill="url(#gB)" transform="rotate(-30 46.6 17.3)"/>
<circle cx="48.8" cy="17.0" r="1.39" fill="url(#gB)"/>
<circle cx="62.7" cy="17.7" r="0.97" fill="url(#gY)"/>
<circle cx="43.7" cy="22.8" r="0.75" fill="url(#gY)"/>
<ellipse cx="37.1" cy="28.7" rx="2.22" ry="3.05" fill="url(#gB)" transform="rotate(0 37.1 28.7)"/>
<circle cx="26.9" cy="30.9" r="0.88" fill="url(#gY)"/>
<circle cx="6.5" cy="31.6" r="1.94" fill="url(#gB)"/>
<circle cx="7.2" cy="30.9" r="0.88" fill="url(#gY)"/>
<circle cx="13.8" cy="33.1" r="1.25" fill="url(#gY)"/>
<circle cx="68.5" cy="30.9" r="1.80" fill="url(#gB)"/>
<circle cx="58.0" cy="35.2" r="1.94" fill="url(#gB)"/>
<circle cx="69.2" cy="38.2" r="1.94" fill="url(#gB)"/>
<ellipse cx="25.5" cy="37.7" rx="2.22" ry="2.77" fill="url(#gB)" transform="rotate(0 25.5 37.7)"/>
<circle cx="32.7" cy="40.8" r="3.47" fill="url(#gB)"/>
<circle cx="36.4" cy="45.9" r="1.80" fill="url(#gB)"/>
<circle cx="38.6" cy="37.7" r="0.88" fill="url(#gY)"/>
<circle cx="34.2" cy="36.7" r="0.75" fill="url(#gY)"/>
<ellipse cx="51.0" cy="41.8" rx="2.36" ry="3.47" fill="url(#gB)" transform="rotate(0 51.0 41.8)"/>
<circle cx="55.4" cy="41.5" r="1.94" fill="url(#gB)"/>
<circle cx="56.1" cy="48.8" r="1.94" fill="url(#gB)"/>
<circle cx="53.2" cy="39.6" r="0.75" fill="url(#gY)"/>
<circle cx="13.8" cy="43.3" r="1.39" fill="url(#gB)"/>
<circle cx="8.7" cy="46.2" r="0.88" fill="url(#gY)"/>
<circle cx="18.9" cy="45.5" r="1.11" fill="url(#gY)"/>
<circle cx="26.2" cy="45.0" r="1.11" fill="url(#gY)"/>
<circle cx="26.2" cy="49.8" r="3.05" fill="url(#gB)"/>
<circle cx="43.7" cy="50.6" r="0.97" fill="url(#gY)"/>
<ellipse cx="28.4" cy="60.0" rx="3.05" ry="3.47" fill="url(#gB)" transform="rotate(0 28.4 60.0)"/>
<circle cx="29.1" cy="56.4" r="1.11" fill="url(#gB)"/>
<circle cx="34.2" cy="63.0" r="0.88" fill="url(#gY)"/>
<circle cx="51.7" cy="58.6" r="1.11" fill="url(#gY)"/>
<circle cx="65.6" cy="63.0" r="1.39" fill="url(#gY)"/>
<ellipse cx="40.8" cy="72.9" rx="3.47" ry="2.08" fill="url(#gB)" transform="rotate(15 40.8 72.9)"/>
<circle cx="21.5" cy="73.9" r="2.49" fill="url(#gB)"/>
<circle cx="54.6" cy="69.5" r="1.11" fill="url(#gY)"/>
<circle cx="53.9" cy="65.9" r="0.75" fill="url(#gY)"/>
<circle cx="2.8" cy="91.4" r="1.66" fill="url(#gB)"/>
<circle cx="34.9" cy="91.7" r="1.39" fill="url(#gB)"/>
<circle cx="39.3" cy="90.7" r="1.11" fill="url(#gY)"/>
<circle cx="68.5" cy="54.9" r="0.88" fill="url(#gY)"/>
<circle cx="17.4" cy="92.9" r="0.75" fill="url(#gY)"/>
<circle cx="2.8" cy="11.9" r="0.75" fill="url(#gB)"/>
<circle cx="32.7" cy="49.1" r="0.75" fill="url(#gB)"/>
<circle cx="14.5" cy="50.6" r="0.75" fill="url(#gB)"/>
<circle cx="13.8" cy="75.4" r="0.75" fill="url(#gB)"/>
<circle cx="6.5" cy="81.2" r="0.75" fill="url(#gB)"/>
<circle cx="67.0" cy="52.8" r="0.75" fill="url(#gB)"/>
<circle cx="69.2" cy="8.3" r="0.75" fill="url(#gB)"/>
<circle cx="64.1" cy="46.2" r="0.75" fill="url(#gB)"/>
<circle cx="7.9" cy="25.8" r="0.75" fill="url(#gB)"/>
</g></svg>
<rect x="615.28" y="227.70" width="12.8" height="1.4" fill="#d8d8d8"/>
<rect x="663.98" y="220.20" width="20.00" height="10.7" fill="#f2f550"/>
<text transform="translate(667.48,228.80) scale(0.781,1)" font-size="10" font-family="Liberation Sans, sans-serif" fill="#000" stroke="#000" stroke-width="0.6">2</text>
<text transform="translate(671.82,228.80) scale(0.781,1)" font-size="10" font-family="Liberation Sans, sans-serif" fill="#000" stroke="#000" stroke-width="0.6">9</text>
<text transform="translate(676.17,228.80) scale(0.781,1)" font-size="10" font-family="Liberation Sans, sans-serif" fill="#000" stroke="#000" stroke-width="0.6">.</text>
<text transform="translate(678.34,228.80) scale(0.781,1)" font-size="10" font-family="Liberation Sans, sans-serif" fill="#000" stroke="#000" stroke-width="0.6">7</text>
<svg x="23.00" y="234.00" width="70.90" height="94.80" overflow="hidden"><g filter="url(#lumpy)">
<circle cx="15.3" cy="2.1" r="1.60" fill="url(#gY)"/>
<circle cx="26.3" cy="6.1" r="1.60" fill="url(#gM)"/>
<circle cx="54.7" cy="11.2" r="1.93" fill="url(#gY)"/>
<circle cx="50.3" cy="14.8" r="1.93" fill="url(#gY)"/>
<circle cx="59.8" cy="3.1" r="1.28" fill="url(#gM)"/>
<circle cx="64.2" cy="3.9" r="1.28" fill="url(#gM)"/>
<circle cx="13.9" cy="26.5" r="2.41" fill="url(#gY)"/>
<circle cx="6.6" cy="27.2" r="1.60" fill="url(#gM)"/>
<circle cx="17.5" cy="21.4" r="1.60" fill="url(#gM)"/>
<circle cx="24.8" cy="22.1" r="1.60" fill="url(#gY)"/>
<circle cx="25.5" cy="26.5" r="1.93" fill="url(#gY)"/>
<circle cx="21.9" cy="27.2" r="1.60" fill="url(#gY)"/>
<circle cx="16.8" cy="31.6" r="1.60" fill="url(#gM)"/>
<circle cx="36.5" cy="16.3" r="1.28" fill="url(#gM)"/>
<circle cx="42.3" cy="14.1" r="1.28" fill="url(#gM)"/>
<circle cx="59.1" cy="19.9" r="1.60" fill="url(#gM)"/>
<circle cx="60.5" cy="25.8" r="1.60" fill="url(#gM)"/>
<circle cx="58.4" cy="30.1" r="1.93" fill="url(#gM)"/>
<circle cx="48.1" cy="34.5" r="1.93" fill="url(#gY)"/>
<circle cx="64.2" cy="36.7" r="1.60" fill="url(#gM)"/>
<circle cx="55.4" cy="44.7" r="1.93" fill="url(#gM)"/>
<circle cx="14.6" cy="41.1" r="1.60" fill="url(#gY)"/>
<circle cx="9.5" cy="44.7" r="1.60" fill="url(#gY)"/>
<circle cx="10.9" cy="46.2" r="1.28" fill="url(#gM)"/>
<circle cx="6.6" cy="50.6" r="1.60" fill="url(#gM)"/>
<circle cx="34.3" cy="41.8" r="1.60" fill="url(#gM)"/>
<circle cx="37.2" cy="48.4" r="1.60" fill="url(#gM)"/>
<circle cx="40.1" cy="54.2" r="2.41" fill="url(#gY)"/>
<circle cx="35.7" cy="50.6" r="1.28" fill="url(#gM)"/>
<circle cx="54.7" cy="53.5" r="1.28" fill="url(#gM)"/>
<circle cx="5.8" cy="57.9" r="1.60" fill="url(#gY)"/>
<circle cx="5.1" cy="59.6" r="1.44" fill="url(#gM)"/>
<circle cx="10.2" cy="62.2" r="1.60" fill="url(#gM)"/>
<circle cx="23.3" cy="65.2" r="1.60" fill="url(#gM)"/>
<circle cx="43.0" cy="65.9" r="1.60" fill="url(#gY)"/>
<circle cx="49.6" cy="66.6" r="1.93" fill="url(#gY)"/>
<circle cx="65.7" cy="59.3" r="1.60" fill="url(#gM)"/>
<circle cx="2.2" cy="83.4" r="2.41" fill="url(#gY)"/>
<circle cx="27.7" cy="85.6" r="1.60" fill="url(#gM)"/>
<circle cx="33.6" cy="85.6" r="1.60" fill="url(#gY)"/>
<circle cx="31.4" cy="88.5" r="1.60" fill="url(#gM)"/>
<circle cx="60.5" cy="75.4" r="1.28" fill="url(#gM)"/>
<circle cx="57.6" cy="81.2" r="1.28" fill="url(#gM)"/>
<circle cx="13.1" cy="73.9" r="1.28" fill="url(#gM)"/>
<circle cx="32.8" cy="75.4" r="1.28" fill="url(#gM)"/>
<circle cx="43.8" cy="73.9" r="1.28" fill="url(#gM)"/>
<circle cx="67.1" cy="79.0" r="1.28" fill="url(#gM)"/>
<circle cx="43.8" cy="84.1" r="1.28" fill="url(#gM)"/>
<circle cx="70.0" cy="35.2" r="1.28" fill="url(#gM)"/>
<circle cx="59.8" cy="41.8" r="1.28" fill="url(#gM)"/>
<circle cx="42.3" cy="38.9" r="1.28" fill="url(#gM)"/>
<circle cx="30.6" cy="54.2" r="1.28" fill="url(#gM)"/>
<circle cx="26.3" cy="53.5" r="1.28" fill="url(#gM)"/>
<circle cx="56.2" cy="55.7" r="1.28" fill="url(#gM)"/>
<circle cx="14.6" cy="63.7" r="1.28" fill="url(#gM)"/>
<circle cx="51.1" cy="13.4" r="1.60" fill="url(#gY)"/>
<circle cx="60.0" cy="72.0" r="0.66" fill="url(#gM)"/>
<circle cx="21.5" cy="45.3" r="1.04" fill="url(#gM)"/>
<circle cx="35.8" cy="26.8" r="0.87" fill="url(#gM)"/>
<circle cx="57.5" cy="85.7" r="0.94" fill="url(#gM)"/>
<circle cx="63.8" cy="65.0" r="0.56" fill="url(#gM)"/>
<circle cx="68.6" cy="45.3" r="0.66" fill="url(#gM)"/>
<circle cx="57.2" cy="52.1" r="0.93" fill="url(#gM)"/>
<circle cx="28.3" cy="78.4" r="0.50" fill="url(#gM)"/>
<circle cx="35.0" cy="82.4" r="0.70" fill="url(#gM)"/>
<circle cx="61.8" cy="18.2" r="0.64" fill="url(#gM)"/>
<circle cx="68.7" cy="76.3" r="0.55" fill="url(#gM)"/>
<circle cx="7.7" cy="52.4" r="0.83" fill="url(#gM)"/>
<circle cx="42.8" cy="55.8" r="0.86" fill="url(#gM)"/>
<circle cx="27.3" cy="54.7" r="0.61" fill="url(#gM)"/>
<circle cx="13.3" cy="58.2" r="0.79" fill="url(#gM)"/>
<circle cx="65.5" cy="51.4" r="0.92" fill="url(#gM)"/>
<circle cx="41.2" cy="42.8" r="1.10" fill="url(#gM)"/>
<circle cx="65.1" cy="75.4" r="0.87" fill="url(#gM)"/>
<circle cx="17.3" cy="69.5" r="0.63" fill="url(#gM)"/>
<circle cx="56.4" cy="31.6" r="0.56" fill="url(#gM)"/>
<circle cx="10.4" cy="66.3" r="0.84" fill="url(#gM)"/>
<circle cx="64.6" cy="50.7" r="0.52" fill="url(#gM)"/>
<circle cx="45.1" cy="57.6" r="0.73" fill="url(#gM)"/>
<circle cx="26.3" cy="93.1" r="0.51" fill="url(#gM)"/>
<circle cx="68.2" cy="17.6" r="0.63" fill="url(#gM)"/>
<circle cx="56.9" cy="89.0" r="0.76" fill="url(#gM)"/>
<circle cx="7.2" cy="24.7" r="0.89" fill="url(#gM)"/>
<circle cx="24.9" cy="17.1" r="0.52" fill="url(#gM)"/>
<circle cx="7.2" cy="93.9" r="0.72" fill="url(#gM)"/>
<circle cx="24.3" cy="23.8" r="0.77" fill="url(#gM)"/>
<circle cx="12.4" cy="44.8" r="0.84" fill="url(#gM)"/>
<circle cx="36.1" cy="29.6" r="1.00" fill="url(#gM)"/>
<circle cx="17.8" cy="53.3" r="0.94" fill="url(#gM)"/>
<circle cx="23.9" cy="4.3" r="0.64" fill="url(#gM)"/>
<circle cx="67.7" cy="33.5" r="0.72" fill="url(#gM)"/>
<circle cx="67.2" cy="60.2" r="0.93" fill="url(#gM)"/>
<circle cx="27.5" cy="39.4" r="0.50" fill="url(#gM)"/>
<circle cx="13.7" cy="31.8" r="0.88" fill="url(#gM)"/>
<circle cx="26.9" cy="83.2" r="0.75" fill="url(#gM)"/>
<circle cx="28.6" cy="66.7" r="0.90" fill="url(#gM)"/>
<circle cx="3.3" cy="42.3" r="0.59" fill="url(#gM)"/>
<circle cx="37.5" cy="46.3" r="0.95" fill="url(#gM)"/>
<circle cx="62.8" cy="47.0" r="0.78" fill="url(#gM)"/>
<circle cx="13.3" cy="94.9" r="0.55" fill="url(#gM)"/>
<circle cx="51.5" cy="93.7" r="0.91" fill="url(#gM)"/>
<circle cx="22.4" cy="20.3" r="0.50" fill="url(#gM)"/>
<circle cx="58.4" cy="50.2" r="0.57" fill="url(#gM)"/>
<circle cx="46.1" cy="83.0" r="1.09" fill="url(#gM)"/>
<circle cx="7.1" cy="81.1" r="0.55" fill="url(#gM)"/>
<circle cx="61.2" cy="12.7" r="0.89" fill="url(#gM)"/>
<circle cx="24.6" cy="82.8" r="0.51" fill="url(#gM)"/>
<circle cx="2.9" cy="64.7" r="1.07" fill="url(#gM)"/>
<circle cx="66.6" cy="86.4" r="0.95" fill="url(#gM)"/>
<circle cx="49.8" cy="62.3" r="1.04" fill="url(#gM)"/>
<circle cx="45.5" cy="35.4" r="0.62" fill="url(#gM)"/>
<circle cx="41.7" cy="0.8" r="0.70" fill="url(#gM)"/>
<circle cx="56.1" cy="68.3" r="0.87" fill="url(#gM)"/>
<circle cx="20.6" cy="37.5" r="0.68" fill="url(#gM)"/>
<circle cx="33.9" cy="22.8" r="0.61" fill="url(#gM)"/>
<circle cx="37.1" cy="6.7" r="0.70" fill="url(#gM)"/>
<circle cx="24.4" cy="45.5" r="0.76" fill="url(#gM)"/>
<circle cx="65.3" cy="59.5" r="1.08" fill="url(#gM)"/>
<circle cx="45.4" cy="6.3" r="0.95" fill="url(#gM)"/>
<circle cx="4.3" cy="0.7" r="0.81" fill="url(#gM)"/>
<circle cx="31.8" cy="46.4" r="0.91" fill="url(#gM)"/>
<circle cx="18.5" cy="73.8" r="0.72" fill="url(#gM)"/>
<circle cx="64.1" cy="42.9" r="0.57" fill="url(#gM)"/>
<circle cx="28.3" cy="19.7" r="1.07" fill="url(#gM)"/>
<circle cx="15.3" cy="13.9" r="0.73" fill="url(#gM)"/>
<circle cx="69.8" cy="14.1" r="0.91" fill="url(#gM)"/>
<circle cx="62.3" cy="47.1" r="0.69" fill="url(#gM)"/>
<circle cx="35.4" cy="47.4" r="0.62" fill="url(#gM)"/>
<circle cx="43.3" cy="20.8" r="1.08" fill="url(#gM)"/>
<circle cx="63.8" cy="77.7" r="0.59" fill="url(#gM)"/>
<circle cx="2.8" cy="21.4" r="0.51" fill="url(#gM)"/>
<circle cx="59.9" cy="31.4" r="0.59" fill="url(#gM)"/>
<circle cx="46.6" cy="92.0" r="1.04" fill="url(#gM)"/>
<circle cx="35.7" cy="54.5" r="0.98" fill="url(#gM)"/>
<circle cx="53.8" cy="94.1" r="1.04" fill="url(#gM)"/>
<circle cx="14.6" cy="50.9" r="1.00" fill="url(#gM)"/>
<circle cx="34.2" cy="75.1" r="0.85" fill="url(#gM)"/>
<circle cx="60.4" cy="75.8" r="0.50" fill="url(#gM)"/>
<circle cx="12.9" cy="48.2" r="0.54" fill="url(#gM)"/>
<circle cx="61.1" cy="89.6" r="0.74" fill="url(#gM)"/>
<circle cx="57.5" cy="5.9" r="0.58" fill="url(#gM)"/>
<circle cx="20.4" cy="78.8" r="0.52" fill="url(#gM)"/>
<circle cx="50.9" cy="64.0" r="1.09" fill="url(#gM)"/>
<circle cx="29.2" cy="58.1" r="0.53" fill="url(#gM)"/>
<circle cx="33.4" cy="14.4" r="0.87" fill="url(#gM)"/>
<circle cx="44.7" cy="10.0" r="0.71" fill="url(#gM)"/>
<circle cx="27.2" cy="73.8" r="1.03" fill="url(#gM)"/>
<circle cx="43.3" cy="44.4" r="0.70" fill="url(#gM)"/>
<circle cx="8.8" cy="64.8" r="0.97" fill="url(#gM)"/>
<circle cx="65.1" cy="82.9" r="0.99" fill="url(#gM)"/>
<circle cx="36.8" cy="74.6" r="0.97" fill="url(#gM)"/>
<circle cx="31.6" cy="71.9" r="0.97" fill="url(#gM)"/>
<circle cx="47.3" cy="54.3" r="0.56" fill="url(#gM)"/>
<circle cx="58.2" cy="84.4" r="0.92" fill="url(#gM)"/>
<circle cx="29.8" cy="29.0" r="0.76" fill="url(#gM)"/>
<circle cx="29.5" cy="9.4" r="0.94" fill="url(#gM)"/>
<circle cx="2.2" cy="42.4" r="0.52" fill="url(#gM)"/>
<circle cx="65.3" cy="91.4" r="0.55" fill="url(#gM)"/>
<circle cx="5.0" cy="34.1" r="0.71" fill="url(#gM)"/>
<circle cx="5.0" cy="84.9" r="0.62" fill="url(#gM)"/>
<circle cx="47.8" cy="89.1" r="0.50" fill="url(#gM)"/>
<circle cx="26.2" cy="2.3" r="1.02" fill="url(#gM)"/>
<circle cx="13.3" cy="10.7" r="1.08" fill="url(#gM)"/>
<circle cx="9.2" cy="91.8" r="0.78" fill="url(#gM)"/>
<circle cx="7.3" cy="55.2" r="1.04" fill="url(#gM)"/>
<circle cx="67.1" cy="76.4" r="0.65" fill="url(#gM)"/>
<circle cx="53.6" cy="27.7" r="0.53" fill="url(#gM)"/>
<circle cx="9.4" cy="2.0" r="0.54" fill="url(#gM)"/>
<circle cx="10.1" cy="40.1" r="0.55" fill="url(#gM)"/>
<circle cx="4.1" cy="38.8" r="0.94" fill="url(#gM)"/>
<circle cx="22.8" cy="19.4" r="0.78" fill="url(#gM)"/>
<circle cx="67.5" cy="75.7" r="0.55" fill="url(#gM)"/>
<circle cx="39.6" cy="65.4" r="0.55" fill="url(#gM)"/>
<circle cx="30.7" cy="23.6" r="0.55" fill="url(#gM)"/>
<circle cx="66.5" cy="13.5" r="0.55" fill="url(#gM)"/>
<circle cx="45.2" cy="45.9" r="0.55" fill="url(#gM)"/>
<circle cx="0.1" cy="66.4" r="0.55" fill="url(#gM)"/>
<circle cx="0.6" cy="28.4" r="0.55" fill="url(#gM)"/>
<circle cx="44.7" cy="51.8" r="0.55" fill="url(#gM)"/>
<circle cx="50.1" cy="44.8" r="0.55" fill="url(#gM)"/>
<circle cx="54.0" cy="22.1" r="0.55" fill="url(#gM)"/>
<circle cx="19.9" cy="93.5" r="0.55" fill="url(#gM)"/>
<circle cx="62.7" cy="3.9" r="0.55" fill="url(#gM)"/>
<circle cx="37.4" cy="55.3" r="0.55" fill="url(#gM)"/>
<circle cx="7.2" cy="24.0" r="0.55" fill="url(#gM)"/>
<circle cx="53.6" cy="86.3" r="0.55" fill="url(#gM)"/>
<circle cx="2.5" cy="75.3" r="0.55" fill="url(#gM)"/>
<circle cx="24.1" cy="50.4" r="0.55" fill="url(#gM)"/>
<circle cx="65.3" cy="15.5" r="0.55" fill="url(#gM)"/>
<circle cx="20.6" cy="49.4" r="0.55" fill="url(#gM)"/>
<circle cx="44.5" cy="50.5" r="0.55" fill="url(#gM)"/>
<circle cx="56.0" cy="27.8" r="0.55" fill="url(#gM)"/>
<circle cx="44.6" cy="14.9" r="0.55" fill="url(#gM)"/>
<circle cx="27.1" cy="56.2" r="0.55" fill="url(#gM)"/>
<circle cx="47.4" cy="33.6" r="0.55" fill="url(#gM)"/>
<circle cx="29.5" cy="45.3" r="0.55" fill="url(#gM)"/>
<circle cx="22.6" cy="61.9" r="0.55" fill="url(#gM)"/>
<circle cx="21.3" cy="70.8" r="0.55" fill="url(#gM)"/>
<circle cx="44.1" cy="2.4" r="0.55" fill="url(#gM)"/>
<circle cx="63.1" cy="1.0" r="0.55" fill="url(#gM)"/>
<circle cx="4.7" cy="82.4" r="0.55" fill="url(#gM)"/>
<circle cx="52.7" cy="63.6" r="0.55" fill="url(#gM)"/>
<circle cx="62.0" cy="66.5" r="0.55" fill="url(#gM)"/>
<circle cx="16.1" cy="71.4" r="0.55" fill="url(#gM)"/>
<circle cx="7.5" cy="43.8" r="0.55" fill="url(#gM)"/>
<circle cx="31.5" cy="75.0" r="0.55" fill="url(#gM)"/>
<circle cx="57.3" cy="37.0" r="0.55" fill="url(#gM)"/>
<circle cx="13.9" cy="89.3" r="0.55" fill="url(#gM)"/>
<circle cx="3.5" cy="36.9" r="0.55" fill="url(#gM)"/>
<circle cx="6.0" cy="17.7" r="0.55" fill="url(#gM)"/>
<circle cx="45.3" cy="16.5" r="0.55" fill="url(#gM)"/>
<circle cx="43.5" cy="67.0" r="0.55" fill="url(#gM)"/>
<circle cx="20.2" cy="83.4" r="0.55" fill="url(#gM)"/>
<circle cx="32.5" cy="60.0" r="0.55" fill="url(#gM)"/>
<circle cx="66.3" cy="55.2" r="0.55" fill="url(#gM)"/>
<circle cx="50.0" cy="20.5" r="0.55" fill="url(#gM)"/>
<circle cx="3.1" cy="15.5" r="0.55" fill="url(#gM)"/>
<circle cx="46.5" cy="13.3" r="0.55" fill="url(#gM)"/>
<circle cx="48.3" cy="92.2" r="0.55" fill="url(#gM)"/>
<circle cx="65.4" cy="43.1" r="0.55" fill="url(#gM)"/>
<circle cx="22.9" cy="43.3" r="0.55" fill="url(#gM)"/>
</g></svg>
<rect x="25.20" y="325.60" width="12.8" height="1.4" fill="#d8d8d8"/>
<rect x="80.50" y="318.10" width="13.40" height="10.7" fill="#f2f550"/>
<text transform="translate(82.60,326.70) scale(0.719,1)" font-size="10" font-family="Liberation Sans, sans-serif" fill="#000" stroke="#000" stroke-width="0.6">6</text>
<text transform="translate(86.60,326.70) scale(0.719,1)" font-size="10" font-family="Liberation Sans, sans-serif" fill="#000" stroke="#000" stroke-width="0.6">.</text>
<text transform="translate(88.60,326.70) scale(0.719,1)" font-size="10" font-family="Liberation Sans, sans-serif" fill="#000" stroke="#000" stroke-width="0.6">3</text>
<svg x="96.76" y="234.00" width="70.90" height="94.80" overflow="hidden"><g filter="url(#lumpy)">
<ellipse cx="27.0" cy="9.4" rx="7.97" ry="5.69" fill="url(#gW)" transform="rotate(-20 27.0 9.4)"/>
<circle cx="22.6" cy="11.5" r="3.79" fill="url(#gW)"/>
<circle cx="13.8" cy="4.6" r="2.28" fill="url(#gY)"/>
<circle cx="8.7" cy="1.3" r="2.28" fill="url(#gY)"/>
<circle cx="18.9" cy="1.3" r="3.03" fill="url(#gW)"/>
<circle cx="43.0" cy="0.7" r="3.79" fill="url(#gW)"/>
<circle cx="7.3" cy="10.0" r="2.28" fill="url(#gY)"/>
<circle cx="10.6" cy="13.4" r="3.79" fill="url(#gY)"/>
<circle cx="6.2" cy="14.1" r="1.71" fill="url(#gW)"/>
<circle cx="59.8" cy="3.6" r="1.90" fill="url(#gY)"/>
<circle cx="60.5" cy="8.0" r="3.41" fill="url(#gY)"/>
<circle cx="57.2" cy="12.3" r="3.98" fill="url(#gW)"/>
<circle cx="63.0" cy="12.6" r="3.41" fill="url(#gY)"/>
<circle cx="68.1" cy="11.9" r="1.90" fill="url(#gY)"/>
<circle cx="41.6" cy="11.2" r="1.33" fill="url(#gW)"/>
<circle cx="35.0" cy="13.4" r="2.28" fill="url(#gY)"/>
<circle cx="42.6" cy="17.7" r="2.66" fill="url(#gY)"/>
<circle cx="44.8" cy="20.2" r="1.90" fill="url(#gW)"/>
<circle cx="5.4" cy="17.7" r="1.90" fill="url(#gY)"/>
<circle cx="5.1" cy="21.4" r="1.90" fill="url(#gY)"/>
<circle cx="9.5" cy="23.9" r="2.28" fill="url(#gY)"/>
<circle cx="13.1" cy="26.8" r="2.66" fill="url(#gY)"/>
<circle cx="16.0" cy="27.2" r="1.90" fill="url(#gY)"/>
<circle cx="23.3" cy="21.4" r="1.33" fill="url(#gW)"/>
<circle cx="18.2" cy="25.8" r="1.33" fill="url(#gW)"/>
<circle cx="35.7" cy="23.6" r="1.71" fill="url(#gW)"/>
<circle cx="38.9" cy="22.8" r="1.33" fill="url(#gW)"/>
<circle cx="35.4" cy="27.7" r="2.66" fill="url(#gY)"/>
<circle cx="38.3" cy="32.3" r="4.17" fill="url(#gW)"/>
<ellipse cx="55.4" cy="32.3" rx="6.07" ry="3.41" fill="url(#gW)" transform="rotate(-25 55.4 32.3)"/>
<circle cx="48.1" cy="36.0" r="4.17" fill="url(#gW)"/>
<circle cx="64.9" cy="29.4" r="2.66" fill="url(#gY)"/>
<circle cx="2.4" cy="33.1" r="1.90" fill="url(#gW)"/>
<circle cx="14.1" cy="33.1" r="2.28" fill="url(#gY)"/>
<circle cx="18.9" cy="33.8" r="4.17" fill="url(#gW)"/>
<circle cx="25.2" cy="36.3" r="2.85" fill="url(#gY)"/>
<circle cx="16.7" cy="37.7" r="1.71" fill="url(#gW)"/>
<circle cx="14.6" cy="41.1" r="2.28" fill="url(#gY)"/>
<circle cx="22.6" cy="40.4" r="1.71" fill="url(#gW)"/>
<circle cx="28.4" cy="38.9" r="2.28" fill="url(#gY)"/>
<ellipse cx="17.9" cy="45.9" rx="5.31" ry="3.41" fill="url(#gW)" transform="rotate(-30 17.9 45.9)"/>
<circle cx="27.3" cy="44.0" r="2.28" fill="url(#gY)"/>
<ellipse cx="42.3" cy="41.5" rx="4.17" ry="2.66" fill="url(#gW)" transform="rotate(-30 42.3 41.5)"/>
<circle cx="37.5" cy="43.6" r="2.09" fill="url(#gY)"/>
<circle cx="36.4" cy="49.8" r="5.31" fill="url(#gW)"/>
<circle cx="39.4" cy="53.8" r="2.47" fill="url(#gW)"/>
<circle cx="51.3" cy="49.8" r="3.79" fill="url(#gY)"/>
<circle cx="52.6" cy="54.9" r="1.90" fill="url(#gW)"/>
<circle cx="48.1" cy="46.2" r="2.28" fill="url(#gY)"/>
<circle cx="55.4" cy="40.4" r="2.85" fill="url(#gY)"/>
<circle cx="61.2" cy="38.9" r="1.71" fill="url(#gW)"/>
<circle cx="61.7" cy="43.0" r="2.28" fill="url(#gY)"/>
<circle cx="5.1" cy="46.9" r="2.28" fill="url(#gY)"/>
<circle cx="22.9" cy="52.8" r="4.17" fill="url(#gW)"/>
<circle cx="6.5" cy="56.4" r="1.52" fill="url(#gW)"/>
<circle cx="26.2" cy="61.9" r="2.85" fill="url(#gY)"/>
<circle cx="47.4" cy="59.0" r="2.85" fill="url(#gY)"/>
<circle cx="50.3" cy="60.8" r="2.28" fill="url(#gY)"/>
<circle cx="39.4" cy="61.5" r="1.71" fill="url(#gW)"/>
<circle cx="18.2" cy="67.8" r="2.28" fill="url(#gY)"/>
<circle cx="29.9" cy="73.2" r="5.31" fill="url(#gW)"/>
<circle cx="24.8" cy="71.0" r="2.85" fill="url(#gY)"/>
<circle cx="20.8" cy="79.0" r="4.74" fill="url(#gW)"/>
<circle cx="13.4" cy="76.8" r="2.85" fill="url(#gY)"/>
<circle cx="3.9" cy="75.4" r="2.28" fill="url(#gY)"/>
<circle cx="16.7" cy="80.2" r="2.28" fill="url(#gY)"/>
<circle cx="6.5" cy="80.5" r="2.28" fill="url(#gY)"/>
<circle cx="3.9" cy="85.6" r="4.74" fill="url(#gW)"/>
<circle cx="24.8" cy="87.3" r="5.31" fill="url(#gW)"/>
<circle cx="32.1" cy="81.9" r="2.85" fill="url(#gY)"/>
<circle cx="41.3" cy="85.3" r="3.41" fill="url(#gY)"/>
<circle cx="53.2" cy="83.4" r="4.74" fill="url(#gW)"/>
<circle cx="48.8" cy="84.9" r="2.66" fill="url(#gY)"/>
<circle cx="60.2" cy="76.5" r="2.66" fill="url(#gY)"/>
<circle cx="66.6" cy="73.6" r="2.85" fill="url(#gY)"/>
<circle cx="65.6" cy="82.7" r="1.90" fill="url(#gW)"/>
<circle cx="35.0" cy="88.5" r="1.52" fill="url(#gW)"/>
<circle cx="13.1" cy="83.4" r="1.52" fill="url(#gW)"/>
<circle cx="63.1" cy="19.9" r="1.52" fill="url(#gW)"/>
<circle cx="63.4" cy="24.3" r="0.88" fill="url(#gW)"/>
<circle cx="29.1" cy="18.5" r="0.88" fill="url(#gW)"/>
<circle cx="16.0" cy="16.7" r="0.88" fill="url(#gW)"/>
<circle cx="21.1" cy="23.1" r="0.88" fill="url(#gW)"/>
<circle cx="10.9" cy="21.4" r="0.88" fill="url(#gW)"/>
<circle cx="8.0" cy="28.0" r="0.88" fill="url(#gW)"/>
<circle cx="16.7" cy="28.0" r="0.88" fill="url(#gW)"/>
<circle cx="19.7" cy="38.2" r="0.88" fill="url(#gW)"/>
<circle cx="10.9" cy="47.6" r="0.88" fill="url(#gW)"/>
<circle cx="43.0" cy="14.1" r="0.88" fill="url(#gW)"/>
<circle cx="45.9" cy="14.8" r="0.88" fill="url(#gW)"/>
<circle cx="39.4" cy="8.3" r="0.88" fill="url(#gW)"/>
<circle cx="55.4" cy="33.1" r="0.88" fill="url(#gW)"/>
<circle cx="48.1" cy="54.2" r="0.88" fill="url(#gW)"/>
<circle cx="2.2" cy="85.6" r="0.88" fill="url(#gW)"/>
<circle cx="37.9" cy="85.6" r="0.88" fill="url(#gW)"/>
<circle cx="47.4" cy="82.7" r="0.88" fill="url(#gW)"/>
<circle cx="61.2" cy="79.7" r="0.88" fill="url(#gW)"/>
<circle cx="70.0" cy="79.0" r="0.88" fill="url(#gW)"/>
<circle cx="13.1" cy="1.0" r="0.75" fill="url(#gW)"/>
<circle cx="32.8" cy="3.9" r="0.75" fill="url(#gW)"/>
<circle cx="16.7" cy="38.2" r="0.75" fill="url(#gW)"/>
<circle cx="26.2" cy="58.6" r="0.75" fill="url(#gW)"/>
<circle cx="27.7" cy="67.3" r="0.75" fill="url(#gW)"/>
<circle cx="59.1" cy="72.5" r="0.75" fill="url(#gW)"/>
<circle cx="15.3" cy="15.5" r="0.75" fill="url(#gW)"/>
<circle cx="29.9" cy="21.4" r="0.75" fill="url(#gW)"/>
<circle cx="51.8" cy="27.2" r="0.75" fill="url(#gW)"/>
<circle cx="63.4" cy="43.3" r="0.75" fill="url(#gW)"/>
<circle cx="8.0" cy="60.8" r="0.75" fill="url(#gW)"/>
<circle cx="43.0" cy="68.1" r="0.75" fill="url(#gW)"/>
<circle cx="54.7" cy="66.6" r="0.75" fill="url(#gW)"/>
<circle cx="35.7" cy="76.8" r="0.75" fill="url(#gW)"/>
</g></svg>
<rect x="98.96" y="325.60" width="12.8" height="1.4" fill="#d8d8d8"/>
<rect x="147.66" y="318.10" width="20.00" height="10.7" fill="#f2f550"/>
<text transform="translate(151.16,326.70) scale(0.781,1)" font-size="10" font-family="Liberation Sans, sans-serif" fill="#000" stroke="#000" stroke-width="0.6">2</text>
<text transform="translate(155.50,326.70) scale(0.781,1)" font-size="10" font-family="Liberation Sans, sans-serif" fill="#000" stroke="#000" stroke-width="0.6">0</text>
<text transform="translate(159.85,326.70) scale(0.781,1)" font-size="10" font-family="Liberation Sans, sans-serif" fill="#000" stroke="#000" stroke-width="0.6">.</text>
<text transform="translate(162.02,326.70) scale(0.781,1)" font-size="10" font-family="Liberation Sans, sans-serif" fill="#000" stroke="#000" stroke-width="0.6">4</text>
<svg x="170.52" y="234.00" width="70.90" height="94.80" overflow="hidden"><g filter="url(#lumpy)">
<circle cx="39.6" cy="3.9" r="0.90" fill="url(#gB)"/>
<circle cx="8.2" cy="9.4" r="0.90" fill="url(#gB)"/>
<circle cx="28.7" cy="14.1" r="0.90" fill="url(#gB)"/>
<circle cx="31.3" cy="15.3" r="0.90" fill="url(#gB)"/>
<circle cx="37.4" cy="20.2" r="0.90" fill="url(#gB)"/>
<circle cx="34.2" cy="27.2" r="0.90" fill="url(#gB)"/>
<circle cx="43.0" cy="41.8" r="0.90" fill="url(#gB)"/>
<circle cx="35.7" cy="52.3" r="0.90" fill="url(#gB)"/>
<circle cx="56.4" cy="72.0" r="0.90" fill="url(#gB)"/>
<circle cx="57.3" cy="77.6" r="0.90" fill="url(#gB)"/>
<circle cx="15.5" cy="3.9" r="0.75" fill="url(#gB)"/>
<circle cx="29.4" cy="2.4" r="0.75" fill="url(#gB)"/>
<circle cx="31.3" cy="5.6" r="0.75" fill="url(#gB)"/>
<circle cx="34.9" cy="6.8" r="0.75" fill="url(#gB)"/>
<circle cx="65.9" cy="6.8" r="0.75" fill="url(#gB)"/>
<circle cx="9.0" cy="15.3" r="0.75" fill="url(#gB)"/>
<circle cx="15.5" cy="15.5" r="0.75" fill="url(#gB)"/>
<circle cx="19.2" cy="14.4" r="0.75" fill="url(#gB)"/>
<circle cx="22.8" cy="18.8" r="0.75" fill="url(#gB)"/>
<circle cx="5.0" cy="22.6" r="0.75" fill="url(#gB)"/>
<circle cx="43.7" cy="41.1" r="0.75" fill="url(#gB)"/>
<circle cx="46.9" cy="46.9" r="0.75" fill="url(#gB)"/>
<circle cx="32.7" cy="53.0" r="0.75" fill="url(#gB)"/>
<circle cx="19.6" cy="62.2" r="0.75" fill="url(#gB)"/>
<circle cx="11.9" cy="84.1" r="0.75" fill="url(#gB)"/>
<circle cx="29.0" cy="85.1" r="0.75" fill="url(#gB)"/>
</g></svg>
<rect x="172.72" y="325.60" width="12.8" height="1.4" fill="#d8d8d8"/>
<rect x="228.02" y="318.10" width="13.40" height="10.7" fill="#f2f550"/>
<text transform="translate(230.12,326.70) scale(0.719,1)" font-size="10" font-family="Liberation Sans, sans-serif" fill="#000" stroke="#000" stroke-width="0.6">0</text>
<text transform="translate(234.12,326.70) scale(0.719,1)" font-size="10" font-family="Liberation Sans, sans-serif" fill="#000" stroke="#000" stroke-width="0.6">.</text>
<polygon points="238.46,319.54 239.11,319.54 239.11,326.70 238.46,326.70 238.46,321.55 236.95,322.40 236.95,321.55 237.95,320.85 238.35,319.54" fill="#000" stroke="#000" stroke-width="0.6"/>
<svg x="244.28" y="234.00" width="70.90" height="94.80" overflow="hidden"><g filter="url(#lumpy)">
<circle cx="33.3" cy="14.1" r="2.41" fill="url(#gY)"/>
<circle cx="30.4" cy="11.9" r="1.60" fill="url(#gY)"/>
<circle cx="39.1" cy="10.4" r="1.93" fill="url(#gY)"/>
<circle cx="18.0" cy="9.7" r="1.60" fill="url(#gY)"/>
<circle cx="68.3" cy="9.0" r="1.60" fill="url(#gY)"/>
<circle cx="54.4" cy="7.5" r="1.28" fill="url(#gM)"/>
<circle cx="7.0" cy="6.1" r="1.28" fill="url(#gM)"/>
<circle cx="66.8" cy="17.7" r="1.28" fill="url(#gM)"/>
<circle cx="64.6" cy="19.9" r="1.28" fill="url(#gM)"/>
<circle cx="55.2" cy="22.8" r="2.25" fill="url(#gY)"/>
<circle cx="51.5" cy="25.8" r="1.60" fill="url(#gY)"/>
<circle cx="55.9" cy="30.1" r="2.25" fill="url(#gY)"/>
<circle cx="62.5" cy="30.1" r="1.93" fill="url(#gY)"/>
<circle cx="61.7" cy="25.8" r="1.60" fill="url(#gY)"/>
<circle cx="58.1" cy="24.3" r="1.28" fill="url(#gM)"/>
<circle cx="59.5" cy="36.0" r="1.93" fill="url(#gY)"/>
<circle cx="62.5" cy="36.7" r="1.60" fill="url(#gY)"/>
<circle cx="55.2" cy="37.4" r="1.60" fill="url(#gY)"/>
<circle cx="34.7" cy="25.8" r="2.25" fill="url(#gY)"/>
<circle cx="37.7" cy="25.8" r="1.60" fill="url(#gY)"/>
<circle cx="43.5" cy="25.8" r="1.93" fill="url(#gY)"/>
<circle cx="42.0" cy="33.8" r="1.60" fill="url(#gY)"/>
<circle cx="34.7" cy="33.8" r="1.60" fill="url(#gY)"/>
<circle cx="36.9" cy="38.9" r="1.60" fill="url(#gY)"/>
<circle cx="29.6" cy="33.8" r="1.28" fill="url(#gM)"/>
<circle cx="42.0" cy="41.1" r="1.28" fill="url(#gM)"/>
<circle cx="6.3" cy="24.3" r="1.28" fill="url(#gM)"/>
<circle cx="15.8" cy="30.1" r="1.28" fill="url(#gM)"/>
<circle cx="4.8" cy="41.1" r="2.41" fill="url(#gY)"/>
<circle cx="5.6" cy="46.9" r="1.60" fill="url(#gY)"/>
<circle cx="14.3" cy="38.9" r="1.28" fill="url(#gM)"/>
<circle cx="8.5" cy="57.1" r="2.41" fill="url(#gY)"/>
<circle cx="18.0" cy="57.9" r="1.60" fill="url(#gY)"/>
<circle cx="21.6" cy="54.9" r="1.60" fill="url(#gY)"/>
<circle cx="12.9" cy="59.3" r="1.28" fill="url(#gM)"/>
<circle cx="14.3" cy="51.3" r="1.28" fill="url(#gM)"/>
<circle cx="18.7" cy="53.5" r="1.28" fill="url(#gM)"/>
<circle cx="27.4" cy="51.3" r="1.28" fill="url(#gM)"/>
<circle cx="35.5" cy="54.2" r="1.28" fill="url(#gM)"/>
<circle cx="36.2" cy="59.3" r="1.60" fill="url(#gY)"/>
<circle cx="47.9" cy="51.3" r="1.28" fill="url(#gM)"/>
<circle cx="51.5" cy="55.7" r="2.25" fill="url(#gY)"/>
<circle cx="62.5" cy="62.2" r="2.25" fill="url(#gY)"/>
<circle cx="60.3" cy="60.0" r="1.60" fill="url(#gY)"/>
<circle cx="68.3" cy="59.3" r="1.28" fill="url(#gM)"/>
<circle cx="68.3" cy="63.7" r="1.60" fill="url(#gY)"/>
<circle cx="17.2" cy="64.4" r="1.60" fill="url(#gY)"/>
<circle cx="23.8" cy="63.7" r="1.60" fill="url(#gY)"/>
<circle cx="30.4" cy="63.7" r="1.28" fill="url(#gM)"/>
<circle cx="19.4" cy="70.3" r="2.89" fill="url(#gY)"/>
<circle cx="13.6" cy="76.1" r="2.41" fill="url(#gY)"/>
<circle cx="16.5" cy="80.5" r="1.60" fill="url(#gY)"/>
<circle cx="23.1" cy="75.4" r="1.28" fill="url(#gM)"/>
<circle cx="34.7" cy="66.6" r="1.60" fill="url(#gY)"/>
<circle cx="38.4" cy="66.6" r="1.28" fill="url(#gM)"/>
<circle cx="37.7" cy="71.0" r="1.28" fill="url(#gM)"/>
<circle cx="33.3" cy="71.0" r="1.60" fill="url(#gY)"/>
<circle cx="47.9" cy="67.3" r="1.93" fill="url(#gY)"/>
<circle cx="52.2" cy="74.6" r="1.93" fill="url(#gY)"/>
<circle cx="59.5" cy="72.5" r="1.60" fill="url(#gY)"/>
<circle cx="64.6" cy="68.1" r="1.93" fill="url(#gY)"/>
<circle cx="68.3" cy="72.5" r="1.60" fill="url(#gY)"/>
<circle cx="43.5" cy="74.6" r="1.28" fill="url(#gM)"/>
<circle cx="39.1" cy="76.8" r="1.93" fill="url(#gY)"/>
<circle cx="35.5" cy="78.3" r="1.28" fill="url(#gM)"/>
<circle cx="28.9" cy="75.4" r="1.28" fill="url(#gM)"/>
<circle cx="8.5" cy="87.0" r="2.41" fill="url(#gY)"/>
<circle cx="10.7" cy="84.9" r="1.60" fill="url(#gY)"/>
<circle cx="21.6" cy="85.6" r="2.41" fill="url(#gY)"/>
<circle cx="23.1" cy="87.0" r="1.93" fill="url(#gY)"/>
<circle cx="18.0" cy="90.7" r="1.93" fill="url(#gY)"/>
<circle cx="28.9" cy="84.1" r="1.60" fill="url(#gY)"/>
<circle cx="34.7" cy="87.0" r="1.60" fill="url(#gY)"/>
<circle cx="38.4" cy="92.9" r="1.93" fill="url(#gY)"/>
<circle cx="43.5" cy="85.6" r="1.60" fill="url(#gY)"/>
<circle cx="46.4" cy="81.2" r="1.28" fill="url(#gM)"/>
<circle cx="64.6" cy="81.2" r="1.93" fill="url(#gY)"/>
<circle cx="13.6" cy="90.0" r="1.28" fill="url(#gM)"/>
<circle cx="50.1" cy="87.0" r="1.28" fill="url(#gM)"/>
<circle cx="32.5" cy="81.9" r="1.28" fill="url(#gM)"/>
<circle cx="40.6" cy="40.7" r="0.62" fill="url(#gM)"/>
<circle cx="57.7" cy="78.2" r="0.60" fill="url(#gM)"/>
<circle cx="37.0" cy="31.1" r="1.07" fill="url(#gM)"/>
<circle cx="42.8" cy="36.3" r="0.90" fill="url(#gM)"/>
<circle cx="32.4" cy="65.2" r="0.58" fill="url(#gM)"/>
<circle cx="43.5" cy="4.2" r="0.58" fill="url(#gM)"/>
<circle cx="66.8" cy="28.8" r="1.04" fill="url(#gM)"/>
<circle cx="22.3" cy="52.2" r="0.54" fill="url(#gM)"/>
<circle cx="41.5" cy="80.2" r="0.63" fill="url(#gM)"/>
<circle cx="58.1" cy="62.5" r="1.01" fill="url(#gM)"/>
<circle cx="10.6" cy="53.9" r="0.86" fill="url(#gM)"/>
<circle cx="8.0" cy="73.7" r="0.60" fill="url(#gM)"/>
<circle cx="57.3" cy="90.0" r="0.75" fill="url(#gM)"/>
<circle cx="55.2" cy="45.6" r="0.76" fill="url(#gM)"/>
<circle cx="0.4" cy="67.7" r="0.69" fill="url(#gM)"/>
<circle cx="5.7" cy="42.6" r="0.73" fill="url(#gM)"/>
<circle cx="61.7" cy="64.0" r="0.82" fill="url(#gM)"/>
<circle cx="64.6" cy="49.4" r="0.54" fill="url(#gM)"/>
<circle cx="29.9" cy="55.6" r="0.79" fill="url(#gM)"/>
<circle cx="29.5" cy="3.4" r="0.82" fill="url(#gM)"/>
<circle cx="3.6" cy="8.8" r="0.77" fill="url(#gM)"/>
<circle cx="70.5" cy="46.1" r="0.76" fill="url(#gM)"/>
<circle cx="63.8" cy="66.3" r="0.89" fill="url(#gM)"/>
<circle cx="64.6" cy="14.6" r="0.87" fill="url(#gM)"/>
<circle cx="48.8" cy="61.0" r="1.00" fill="url(#gM)"/>
<circle cx="34.0" cy="76.7" r="0.76" fill="url(#gM)"/>
<circle cx="61.0" cy="68.2" r="0.53" fill="url(#gM)"/>
<circle cx="64.8" cy="72.8" r="1.09" fill="url(#gM)"/>
<circle cx="20.3" cy="63.7" r="0.86" fill="url(#gM)"/>
<circle cx="65.3" cy="18.2" r="0.55" fill="url(#gM)"/>
<circle cx="13.8" cy="19.7" r="1.10" fill="url(#gM)"/>
<circle cx="63.0" cy="44.1" r="0.92" fill="url(#gM)"/>
<circle cx="39.4" cy="25.3" r="0.88" fill="url(#gM)"/>
<circle cx="44.5" cy="19.9" r="1.02" fill="url(#gM)"/>
<circle cx="61.9" cy="62.0" r="0.75" fill="url(#gM)"/>
<circle cx="32.4" cy="72.1" r="0.67" fill="url(#gM)"/>
<circle cx="49.3" cy="48.1" r="0.66" fill="url(#gM)"/>
<circle cx="34.1" cy="65.5" r="0.98" fill="url(#gM)"/>
<circle cx="28.8" cy="75.4" r="1.10" fill="url(#gM)"/>
<circle cx="59.4" cy="1.6" r="0.69" fill="url(#gM)"/>
<circle cx="52.6" cy="58.0" r="0.61" fill="url(#gM)"/>
<circle cx="66.4" cy="20.9" r="1.07" fill="url(#gM)"/>
<circle cx="13.6" cy="54.3" r="1.08" fill="url(#gM)"/>
<circle cx="61.7" cy="1.5" r="1.01" fill="url(#gM)"/>
<circle cx="54.2" cy="90.7" r="0.53" fill="url(#gM)"/>
<circle cx="49.2" cy="4.8" r="1.02" fill="url(#gM)"/>
<circle cx="28.2" cy="57.1" r="0.59" fill="url(#gM)"/>
<circle cx="43.0" cy="82.1" r="0.52" fill="url(#gM)"/>
<circle cx="65.4" cy="48.6" r="0.74" fill="url(#gM)"/>
<circle cx="41.0" cy="33.0" r="1.02" fill="url(#gM)"/>
<circle cx="70.0" cy="16.6" r="0.99" fill="url(#gM)"/>
<circle cx="24.4" cy="53.1" r="0.62" fill="url(#gM)"/>
<circle cx="13.3" cy="60.2" r="1.08" fill="url(#gM)"/>
<circle cx="56.3" cy="34.2" r="0.53" fill="url(#gM)"/>
<circle cx="3.0" cy="56.8" r="0.71" fill="url(#gM)"/>
<circle cx="53.4" cy="44.5" r="1.03" fill="url(#gM)"/>
<circle cx="12.3" cy="83.6" r="0.75" fill="url(#gM)"/>
<circle cx="36.4" cy="84.5" r="0.56" fill="url(#gM)"/>
<circle cx="68.1" cy="11.2" r="0.93" fill="url(#gM)"/>
<circle cx="44.0" cy="57.7" r="0.51" fill="url(#gM)"/>
<circle cx="11.2" cy="64.3" r="0.56" fill="url(#gM)"/>
<circle cx="45.2" cy="45.1" r="0.74" fill="url(#gM)"/>
<circle cx="13.4" cy="81.9" r="0.54" fill="url(#gM)"/>
<circle cx="24.0" cy="87.3" r="0.72" fill="url(#gM)"/>
<circle cx="44.4" cy="93.7" r="0.62" fill="url(#gM)"/>
<circle cx="20.5" cy="78.0" r="0.65" fill="url(#gM)"/>
<circle cx="43.6" cy="55.5" r="0.83" fill="url(#gM)"/>
<circle cx="2.2" cy="0.5" r="0.53" fill="url(#gM)"/>
<circle cx="54.7" cy="93.0" r="0.73" fill="url(#gM)"/>
<circle cx="44.3" cy="85.6" r="0.53" fill="url(#gM)"/>
<circle cx="2.5" cy="59.6" r="0.93" fill="url(#gM)"/>
<circle cx="12.5" cy="43.8" r="0.55" fill="url(#gM)"/>
<circle cx="37.3" cy="13.4" r="0.57" fill="url(#gM)"/>
<circle cx="50.1" cy="76.6" r="0.85" fill="url(#gM)"/>
<circle cx="45.1" cy="71.6" r="0.81" fill="url(#gM)"/>
<circle cx="45.9" cy="50.9" r="0.68" fill="url(#gM)"/>
<circle cx="26.6" cy="63.6" r="0.68" fill="url(#gM)"/>
<circle cx="60.4" cy="16.7" r="0.52" fill="url(#gM)"/>
<circle cx="58.6" cy="73.5" r="0.90" fill="url(#gM)"/>
<circle cx="11.0" cy="46.5" r="0.78" fill="url(#gM)"/>
<circle cx="22.5" cy="89.2" r="0.77" fill="url(#gM)"/>
<circle cx="47.8" cy="92.1" r="0.73" fill="url(#gM)"/>
<circle cx="55.1" cy="74.8" r="0.93" fill="url(#gM)"/>
<circle cx="9.1" cy="94.2" r="0.76" fill="url(#gM)"/>
<circle cx="46.8" cy="79.3" r="0.93" fill="url(#gM)"/>
<circle cx="54.2" cy="38.0" r="0.62" fill="url(#gM)"/>
<circle cx="67.5" cy="22.9" r="0.73" fill="url(#gM)"/>
<circle cx="61.3" cy="56.8" r="0.99" fill="url(#gM)"/>
<circle cx="27.4" cy="91.2" r="0.82" fill="url(#gM)"/>
<circle cx="53.2" cy="81.1" r="0.58" fill="url(#gM)"/>
<circle cx="14.9" cy="1.1" r="0.60" fill="url(#gM)"/>
<circle cx="41.8" cy="14.7" r="0.71" fill="url(#gM)"/>
<circle cx="0.3" cy="64.0" r="0.97" fill="url(#gM)"/>
<circle cx="32.6" cy="83.1" r="1.00" fill="url(#gM)"/>
<circle cx="62.3" cy="7.0" r="0.55" fill="url(#gM)"/>
<circle cx="0.5" cy="78.5" r="0.55" fill="url(#gM)"/>
<circle cx="40.5" cy="85.4" r="0.55" fill="url(#gM)"/>
<circle cx="67.0" cy="71.5" r="0.55" fill="url(#gM)"/>
<circle cx="57.9" cy="37.4" r="0.55" fill="url(#gM)"/>
<circle cx="70.8" cy="60.1" r="0.55" fill="url(#gM)"/>
<circle cx="49.4" cy="28.4" r="0.55" fill="url(#gM)"/>
<circle cx="64.5" cy="56.8" r="0.55" fill="url(#gM)"/>
<circle cx="11.4" cy="74.0" r="0.55" fill="url(#gM)"/>
<circle cx="40.1" cy="79.2" r="0.55" fill="url(#gM)"/>
<circle cx="11.7" cy="94.2" r="0.55" fill="url(#gM)"/>
<circle cx="54.5" cy="2.7" r="0.55" fill="url(#gM)"/>
<circle cx="3.0" cy="23.3" r="0.55" fill="url(#gM)"/>
<circle cx="48.2" cy="43.1" r="0.55" fill="url(#gM)"/>
<circle cx="29.9" cy="64.6" r="0.55" fill="url(#gM)"/>
<circle cx="47.2" cy="22.7" r="0.55" fill="url(#gM)"/>
<circle cx="68.8" cy="45.0" r="0.55" fill="url(#gM)"/>
<circle cx="49.6" cy="56.8" r="0.55" fill="url(#gM)"/>
<circle cx="25.5" cy="69.0" r="0.55" fill="url(#gM)"/>
<circle cx="5.0" cy="55.2" r="0.55" fill="url(#gM)"/>
<circle cx="41.6" cy="68.8" r="0.55" fill="url(#gM)"/>
<circle cx="52.1" cy="15.3" r="0.55" fill="url(#gM)"/>
<circle cx="14.4" cy="89.8" r="0.55" fill="url(#gM)"/>
<circle cx="34.9" cy="83.2" r="0.55" fill="url(#gM)"/>
<circle cx="49.4" cy="23.3" r="0.55" fill="url(#gM)"/>
<circle cx="13.5" cy="40.2" r="0.55" fill="url(#gM)"/>
<circle cx="59.3" cy="45.7" r="0.55" fill="url(#gM)"/>
<circle cx="53.6" cy="76.7" r="0.55" fill="url(#gM)"/>
<circle cx="46.7" cy="70.2" r="0.55" fill="url(#gM)"/>
<circle cx="37.1" cy="75.6" r="0.55" fill="url(#gM)"/>
<circle cx="51.1" cy="60.6" r="0.55" fill="url(#gM)"/>
<circle cx="42.9" cy="87.2" r="0.55" fill="url(#gM)"/>
<circle cx="49.0" cy="85.6" r="0.55" fill="url(#gM)"/>
<circle cx="23.3" cy="81.8" r="0.55" fill="url(#gM)"/>
<circle cx="41.3" cy="87.9" r="0.55" fill="url(#gM)"/>
<circle cx="56.9" cy="23.1" r="0.55" fill="url(#gM)"/>
<circle cx="36.1" cy="40.1" r="0.55" fill="url(#gM)"/>
<circle cx="24.9" cy="84.6" r="0.55" fill="url(#gM)"/>
<circle cx="60.1" cy="77.3" r="0.55" fill="url(#gM)"/>
<circle cx="65.6" cy="71.7" r="0.55" fill="url(#gM)"/>
<circle cx="1.6" cy="56.7" r="0.55" fill="url(#gM)"/>
<circle cx="33.8" cy="6.3" r="0.55" fill="url(#gM)"/>
<circle cx="46.0" cy="25.6" r="0.55" fill="url(#gM)"/>
<circle cx="58.4" cy="85.2" r="0.55" fill="url(#gM)"/>
<circle cx="41.0" cy="34.3" r="0.55" fill="url(#gM)"/>
<circle cx="33.0" cy="31.6" r="0.55" fill="url(#gM)"/>
<circle cx="18.5" cy="94.5" r="0.55" fill="url(#gM)"/>
<circle cx="24.7" cy="93.2" r="0.55" fill="url(#gM)"/>
<circle cx="28.8" cy="26.1" r="0.55" fill="url(#gM)"/>
<circle cx="39.4" cy="16.1" r="0.55" fill="url(#gM)"/>
<circle cx="53.9" cy="72.5" r="0.55" fill="url(#gM)"/>
</g></svg>
<rect x="246.48" y="325.60" width="12.8" height="1.4" fill="#d8d8d8"/>
<rect x="301.78" y="318.10" width="13.40" height="10.7" fill="#f2f550"/>
<text transform="translate(303.88,326.70) scale(0.719,1)" font-size="10" font-family="Liberation Sans, sans-serif" fill="#000" stroke="#000" stroke-width="0.6">8</text>
<text transform="translate(307.88,326.70) scale(0.719,1)" font-size="10" font-family="Liberation Sans, sans-serif" fill="#000" stroke="#000" stroke-width="0.6">.</text>
<text transform="translate(309.88,326.70) scale(0.719,1)" font-size="10" font-family="Liberation Sans, sans-serif" fill="#000" stroke="#000" stroke-width="0.6">7</text>
<svg x="318.04" y="234.00" width="70.90" height="94.80" overflow="hidden"><g filter="url(#lumpy)">
<ellipse cx="29.1" cy="14.1" rx="5.87" ry="8.01" fill="url(#gW)" transform="rotate(20 29.1 14.1)"/>
<circle cx="30.6" cy="5.3" r="2.14" fill="url(#gY)"/>
<circle cx="30.6" cy="1.3" r="1.42" fill="url(#gY)"/>
<circle cx="10.9" cy="4.6" r="1.42" fill="url(#gY)"/>
<circle cx="45.9" cy="6.1" r="5.34" fill="url(#gW)"/>
<circle cx="53.9" cy="7.5" r="4.45" fill="url(#gW)"/>
<circle cx="59.8" cy="2.4" r="4.45" fill="url(#gW)"/>
<circle cx="67.8" cy="6.1" r="3.56" fill="url(#gW)"/>
<circle cx="54.7" cy="14.1" r="3.56" fill="url(#gW)"/>
<circle cx="56.9" cy="19.2" r="3.20" fill="url(#gW)"/>
<circle cx="66.3" cy="19.9" r="4.45" fill="url(#gW)"/>
<circle cx="64.9" cy="26.5" r="3.56" fill="url(#gW)"/>
<circle cx="60.1" cy="26.5" r="2.67" fill="url(#gY)"/>
<circle cx="62.0" cy="30.9" r="2.14" fill="url(#gY)"/>
<circle cx="67.8" cy="28.7" r="3.20" fill="url(#gW)"/>
<circle cx="62.7" cy="14.1" r="1.42" fill="url(#gW)"/>
<circle cx="40.1" cy="28.7" r="4.45" fill="url(#gW)"/>
<ellipse cx="49.6" cy="36.7" rx="4.27" ry="2.85" fill="url(#gW)" transform="rotate(-60 49.6 36.7)"/>
<circle cx="47.4" cy="41.1" r="2.49" fill="url(#gY)"/>
<circle cx="9.4" cy="24.3" r="3.56" fill="url(#gW)"/>
<circle cx="8.7" cy="22.8" r="1.78" fill="url(#gY)"/>
<circle cx="4.3" cy="28.0" r="3.20" fill="url(#gY)"/>
<circle cx="1.1" cy="32.3" r="3.20" fill="url(#gW)"/>
<circle cx="1.1" cy="41.1" r="2.67" fill="url(#gW)"/>
<circle cx="14.6" cy="28.0" r="3.56" fill="url(#gW)"/>
<circle cx="11.6" cy="33.1" r="3.20" fill="url(#gW)"/>
<circle cx="16.7" cy="38.2" r="5.70" fill="url(#gW)"/>
<circle cx="8.0" cy="34.5" r="2.14" fill="url(#gY)"/>
<circle cx="20.4" cy="43.3" r="2.67" fill="url(#gW)"/>
<circle cx="8.0" cy="46.2" r="3.20" fill="url(#gW)"/>
<circle cx="14.6" cy="46.2" r="2.67" fill="url(#gY)"/>
<circle cx="9.4" cy="51.3" r="2.67" fill="url(#gY)"/>
<ellipse cx="30.6" cy="44.0" rx="7.48" ry="6.76" fill="url(#gW)" transform="rotate(0 30.6 44.0)"/>
<circle cx="35.7" cy="38.9" r="4.45" fill="url(#gW)"/>
<circle cx="26.2" cy="47.6" r="3.56" fill="url(#gW)"/>
<circle cx="10.9" cy="57.9" r="3.56" fill="url(#gW)"/>
<circle cx="16.0" cy="60.0" r="2.14" fill="url(#gY)"/>
<circle cx="15.3" cy="63.7" r="1.78" fill="url(#gY)"/>
<circle cx="24.8" cy="60.8" r="3.20" fill="url(#gW)"/>
<circle cx="29.1" cy="57.9" r="3.20" fill="url(#gW)"/>
<circle cx="35.7" cy="57.1" r="2.49" fill="url(#gY)"/>
<circle cx="41.5" cy="57.1" r="2.85" fill="url(#gY)"/>
<circle cx="18.9" cy="54.2" r="0.75" fill="url(#gW)"/>
<circle cx="21.8" cy="67.3" r="2.67" fill="url(#gY)"/>
<circle cx="20.4" cy="71.7" r="2.49" fill="url(#gY)"/>
<circle cx="24.0" cy="72.5" r="2.67" fill="url(#gW)"/>
<circle cx="31.3" cy="71.0" r="4.98" fill="url(#gW)"/>
<circle cx="51.8" cy="66.9" r="5.34" fill="url(#gW)"/>
<circle cx="48.1" cy="68.1" r="3.56" fill="url(#gW)"/>
<circle cx="59.8" cy="64.4" r="4.45" fill="url(#gW)"/>
<circle cx="64.2" cy="69.8" r="3.56" fill="url(#gW)"/>
<circle cx="68.5" cy="72.5" r="2.67" fill="url(#gW)"/>
<circle cx="61.2" cy="75.4" r="2.14" fill="url(#gY)"/>
<circle cx="22.6" cy="81.9" r="3.56" fill="url(#gW)"/>
<circle cx="29.1" cy="81.2" r="3.20" fill="url(#gW)"/>
<circle cx="28.4" cy="85.6" r="2.14" fill="url(#gY)"/>
<circle cx="43.7" cy="80.5" r="3.20" fill="url(#gW)"/>
<circle cx="27.0" cy="93.2" r="2.67" fill="url(#gW)"/>
<circle cx="35.7" cy="91.4" r="3.92" fill="url(#gW)"/>
<circle cx="43.7" cy="91.7" r="3.20" fill="url(#gW)"/>
<circle cx="10.2" cy="19.2" r="0.75" fill="url(#gW)"/>
<circle cx="58.3" cy="14.1" r="0.75" fill="url(#gW)"/>
<circle cx="15.3" cy="63.7" r="0.75" fill="url(#gW)"/>
<circle cx="59.0" cy="60.8" r="0.75" fill="url(#gW)"/>
</g></svg>
<rect x="320.24" y="325.60" width="12.8" height="1.4" fill="#d8d8d8"/>
<rect x="368.94" y="318.10" width="20.00" height="10.7" fill="#f2f550"/>
<text transform="translate(376.78,326.70) scale(0.781,1)" font-size="10" font-family="Liberation Sans, sans-serif" fill="#000" stroke="#000" stroke-width="0.6">7</text>
<text transform="translate(381.13,326.70) scale(0.781,1)" font-size="10" font-family="Liberation Sans, sans-serif" fill="#000" stroke="#000" stroke-width="0.6">.</text>
<text transform="translate(383.30,326.70) scale(0.781,1)" font-size="10" font-family="Liberation Sans, sans-serif" fill="#000" stroke="#000" stroke-width="0.6">0</text>
<polygon points="374.98,319.54 375.68,319.54 375.68,326.70 374.98,326.70 374.98,321.55 373.34,322.40 373.34,321.55 374.43,320.85 374.86,319.54" fill="#000" stroke="#000" stroke-width="0.6"/>
<svg x="391.80" y="234.00" width="70.90" height="94.80" overflow="hidden"><g filter="url(#lumpy)">
<circle cx="10.9" cy="9.0" r="0.90" fill="url(#gB)"/>
<circle cx="26.2" cy="11.9" r="0.90" fill="url(#gB)"/>
<circle cx="29.1" cy="10.9" r="0.90" fill="url(#gB)"/>
<circle cx="34.9" cy="11.9" r="0.90" fill="url(#gB)"/>
<circle cx="4.3" cy="34.8" r="0.90" fill="url(#gB)"/>
<circle cx="29.8" cy="33.8" r="0.90" fill="url(#gB)"/>
<circle cx="18.2" cy="40.6" r="0.90" fill="url(#gB)"/>
<circle cx="29.1" cy="42.5" r="0.90" fill="url(#gB)"/>
<circle cx="40.8" cy="57.6" r="0.90" fill="url(#gB)"/>
<circle cx="45.9" cy="64.4" r="0.90" fill="url(#gB)"/>
<circle cx="47.3" cy="69.5" r="0.90" fill="url(#gB)"/>
<circle cx="61.6" cy="66.2" r="0.90" fill="url(#gB)"/>
<circle cx="69.7" cy="33.1" r="0.90" fill="url(#gB)"/>
<circle cx="13.8" cy="2.7" r="0.75" fill="url(#gB)"/>
<circle cx="30.6" cy="3.9" r="0.75" fill="url(#gB)"/>
<circle cx="25.2" cy="10.9" r="0.75" fill="url(#gB)"/>
<circle cx="9.7" cy="18.2" r="0.75" fill="url(#gB)"/>
<circle cx="55.8" cy="25.3" r="0.75" fill="url(#gB)"/>
<circle cx="14.5" cy="31.6" r="0.75" fill="url(#gB)"/>
<circle cx="10.9" cy="34.8" r="0.75" fill="url(#gB)"/>
<circle cx="26.6" cy="36.9" r="0.75" fill="url(#gB)"/>
<circle cx="11.6" cy="39.2" r="0.75" fill="url(#gB)"/>
<circle cx="30.1" cy="39.6" r="0.75" fill="url(#gB)"/>
<circle cx="5.8" cy="50.3" r="0.75" fill="url(#gB)"/>
<circle cx="10.1" cy="48.8" r="0.75" fill="url(#gB)"/>
<circle cx="26.9" cy="50.3" r="0.75" fill="url(#gB)"/>
<circle cx="31.3" cy="51.3" r="0.75" fill="url(#gB)"/>
<circle cx="21.4" cy="53.8" r="0.75" fill="url(#gB)"/>
<circle cx="12.0" cy="53.8" r="0.75" fill="url(#gB)"/>
<circle cx="29.1" cy="53.2" r="0.75" fill="url(#gB)"/>
<circle cx="13.5" cy="59.0" r="0.75" fill="url(#gB)"/>
<circle cx="25.5" cy="59.6" r="0.75" fill="url(#gB)"/>
<circle cx="59.0" cy="63.0" r="0.75" fill="url(#gB)"/>
</g></svg>
<rect x="394.00" y="325.60" width="12.8" height="1.4" fill="#d8d8d8"/>
<rect x="449.30" y="318.10" width="13.40" height="10.7" fill="#f2f550"/>
<text transform="translate(451.40,326.70) scale(0.719,1)" font-size="10" font-family="Liberation Sans, sans-serif" fill="#000" stroke="#000" stroke-width="0.6">0</text>
<text transform="translate(455.40,326.70) scale(0.719,1)" font-size="10" font-family="Liberation Sans, sans-serif" fill="#000" stroke="#000" stroke-width="0.6">.</text>
<polygon points="459.74,319.54 460.39,319.54 460.39,326.70 459.74,326.70 459.74,321.55 458.23,322.40 458.23,321.55 459.23,320.85 459.63,319.54" fill="#000" stroke="#000" stroke-width="0.6"/>
<svg x="465.56" y="234.00" width="70.90" height="94.80" overflow="hidden"><g filter="url(#lumpy)">
<circle cx="60.9" cy="19.5" r="0.75" fill="url(#gM)"/>
<circle cx="53.0" cy="35.1" r="0.75" fill="url(#gM)"/>
</g></svg>
<rect x="467.76" y="325.60" width="12.8" height="1.4" fill="#d8d8d8"/>
<rect x="523.06" y="318.10" width="13.40" height="10.7" fill="#f2f550"/>
<text transform="translate(525.16,326.70) scale(0.719,1)" font-size="10" font-family="Liberation Sans, sans-serif" fill="#000" stroke="#000" stroke-width="0.6">0</text>
<text transform="translate(529.16,326.70) scale(0.719,1)" font-size="10" font-family="Liberation Sans, sans-serif" fill="#000" stroke="#000" stroke-width="0.6">.</text>
<text transform="translate(531.16,326.70) scale(0.719,1)" font-size="10" font-family="Liberation Sans, sans-serif" fill="#000" stroke="#000" stroke-width="0.6">3</text>
<svg x="539.32" y="234.00" width="70.90" height="94.80" overflow="hidden"><g filter="url(#lumpy)">
<ellipse cx="57.3" cy="30.1" rx="6.93" ry="5.11" fill="url(#gW)" transform="rotate(15 57.3 30.1)"/>
<ellipse cx="67.5" cy="31.3" rx="2.74" ry="1.64" fill="url(#gY)" transform="rotate(-35 67.5 31.3)"/>
<ellipse cx="62.1" cy="40.1" rx="5.47" ry="6.02" fill="url(#gW)" transform="rotate(0 62.1 40.1)"/>
<circle cx="69.3" cy="51.3" r="2.37" fill="url(#gW)"/>
<ellipse cx="60.2" cy="57.9" rx="9.12" ry="6.93" fill="url(#gW)" transform="rotate(0 60.2 57.9)"/>
<circle cx="63.9" cy="56.4" r="4.56" fill="url(#gW)"/>
<circle cx="57.3" cy="55.7" r="4.01" fill="url(#gW)"/>
<ellipse cx="9.2" cy="56.4" rx="10.94" ry="10.58" fill="url(#gW)" transform="rotate(0 9.2 56.4)"/>
<circle cx="12.8" cy="49.8" r="6.38" fill="url(#gW)"/>
<circle cx="5.5" cy="52.0" r="4.56" fill="url(#gW)"/>
<circle cx="11.4" cy="60.8" r="5.47" fill="url(#gW)"/>
<circle cx="69.4" cy="71.0" r="2.01" fill="url(#gW)"/>
<ellipse cx="9.2" cy="81.2" rx="6.38" ry="10.94" fill="url(#gW)" transform="rotate(-25 9.2 81.2)"/>
<ellipse cx="27.4" cy="81.2" rx="8.75" ry="8.21" fill="url(#gW)" transform="rotate(0 27.4 81.2)"/>
<ellipse cx="28.9" cy="74.6" rx="2.37" ry="1.82" fill="url(#gY)" transform="rotate(-30 28.9 74.6)"/>
<ellipse cx="43.5" cy="87.8" rx="8.21" ry="7.30" fill="url(#gW)" transform="rotate(0 43.5 87.8)"/>
<ellipse cx="42.0" cy="93.2" rx="2.19" ry="1.46" fill="url(#gY)" transform="rotate(0 42.0 93.2)"/>
<ellipse cx="36.2" cy="94.0" rx="6.38" ry="2.55" fill="url(#gW)" transform="rotate(0 36.2 94.0)"/>
<ellipse cx="6.2" cy="91.7" rx="5.47" ry="2.19" fill="url(#gW)" transform="rotate(0 6.2 91.7)"/>
</g></svg>
<rect x="541.52" y="325.60" width="12.8" height="1.4" fill="#d8d8d8"/>
<rect x="596.82" y="318.10" width="13.40" height="10.7" fill="#f2f550"/>
<text transform="translate(598.92,326.70) scale(0.719,1)" font-size="10" font-family="Liberation Sans, sans-serif" fill="#000" stroke="#000" stroke-width="0.6">4</text>
<text transform="translate(602.92,326.70) scale(0.719,1)" font-size="10" font-family="Liberation Sans, sans-serif" fill="#000" stroke="#000" stroke-width="0.6">.</text>
<text transform="translate(604.92,326.70) scale(0.719,1)" font-size="10" font-family="Liberation Sans, sans-serif" fill="#000" stroke="#000" stroke-width="0.6">4</text>
<svg x="613.08" y="234.00" width="70.90" height="94.80" overflow="hidden"><g filter="url(#lumpy)">
<circle cx="6.5" cy="3.1" r="2.08" fill="url(#gY)"/>
<ellipse cx="29.1" cy="1.7" rx="4.44" ry="3.05" fill="url(#gB)" transform="rotate(0 29.1 1.7)"/>
<circle cx="29.8" cy="7.5" r="2.08" fill="url(#gY)"/>
<circle cx="39.3" cy="6.1" r="3.47" fill="url(#gB)"/>
<circle cx="36.4" cy="10.9" r="2.49" fill="url(#gY)"/>
<circle cx="64.1" cy="1.7" r="2.49" fill="url(#gY)"/>
<circle cx="54.6" cy="6.1" r="1.39" fill="url(#gY)"/>
<circle cx="48.1" cy="3.9" r="0.88" fill="url(#gB)"/>
<circle cx="42.2" cy="6.1" r="1.39" fill="url(#gY)"/>
<circle cx="23.3" cy="13.4" r="4.16" fill="url(#gB)"/>
<ellipse cx="14.5" cy="19.9" rx="5.82" ry="3.47" fill="url(#gB)" transform="rotate(-15 14.5 19.9)"/>
<ellipse cx="5.0" cy="17.3" rx="3.47" ry="1.94" fill="url(#gY)" transform="rotate(20 5.0 17.3)"/>
<circle cx="11.6" cy="14.8" r="2.08" fill="url(#gY)"/>
<circle cx="4.3" cy="24.3" r="1.39" fill="url(#gY)"/>
<circle cx="24.0" cy="2.4" r="0.75" fill="url(#gB)"/>
<circle cx="19.6" cy="10.4" r="0.75" fill="url(#gB)"/>
<circle cx="40.8" cy="10.4" r="0.75" fill="url(#gB)"/>
<circle cx="32.7" cy="18.5" r="1.66" fill="url(#gY)"/>
<ellipse cx="46.6" cy="17.3" rx="5.27" ry="4.16" fill="url(#gB)" transform="rotate(-30 46.6 17.3)"/>
<circle cx="48.8" cy="17.0" r="1.39" fill="url(#gY)"/>
<circle cx="62.7" cy="17.7" r="0.97" fill="url(#gB)"/>
<circle cx="43.7" cy="22.8" r="0.75" fill="url(#gB)"/>
<ellipse cx="37.1" cy="28.7" rx="2.22" ry="3.05" fill="url(#gY)" transform="rotate(0 37.1 28.7)"/>
<circle cx="26.9" cy="30.9" r="0.88" fill="url(#gB)"/>
<circle cx="6.5" cy="31.6" r="1.94" fill="url(#gY)"/>
<circle cx="7.2" cy="30.9" r="0.88" fill="url(#gB)"/>
<circle cx="13.8" cy="33.1" r="1.25" fill="url(#gB)"/>
<circle cx="68.5" cy="30.9" r="1.80" fill="url(#gY)"/>
<circle cx="58.0" cy="35.2" r="1.94" fill="url(#gY)"/>
<circle cx="69.2" cy="38.2" r="1.94" fill="url(#gY)"/>
<ellipse cx="25.5" cy="37.7" rx="2.22" ry="2.77" fill="url(#gY)" transform="rotate(0 25.5 37.7)"/>
<circle cx="32.7" cy="40.8" r="3.47" fill="url(#gB)"/>
<circle cx="36.4" cy="45.9" r="1.80" fill="url(#gY)"/>
<circle cx="38.6" cy="37.7" r="0.88" fill="url(#gB)"/>
<circle cx="34.2" cy="36.7" r="0.75" fill="url(#gB)"/>
<ellipse cx="51.0" cy="41.8" rx="2.36" ry="3.47" fill="url(#gY)" transform="rotate(0 51.0 41.8)"/>
<circle cx="55.4" cy="41.5" r="1.94" fill="url(#gY)"/>
<circle cx="56.1" cy="48.8" r="1.94" fill="url(#gY)"/>
<circle cx="53.2" cy="39.6" r="0.75" fill="url(#gB)"/>
<circle cx="13.8" cy="43.3" r="1.39" fill="url(#gY)"/>
<circle cx="8.7" cy="46.2" r="0.88" fill="url(#gB)"/>
<circle cx="18.9" cy="45.5" r="1.11" fill="url(#gB)"/>
<circle cx="26.2" cy="45.0" r="1.11" fill="url(#gB)"/>
<circle cx="26.2" cy="49.8" r="3.05" fill="url(#gB)"/>
<circle cx="43.7" cy="50.6" r="0.97" fill="url(#gB)"/>
<ellipse cx="28.4" cy="60.0" rx="3.05" ry="3.47" fill="url(#gB)" transform="rotate(0 28.4 60.0)"/>
<circle cx="29.1" cy="56.4" r="1.11" fill="url(#gY)"/>
<circle cx="34.2" cy="63.0" r="0.88" fill="url(#gB)"/>
<circle cx="51.7" cy="58.6" r="1.11" fill="url(#gB)"/>
<circle cx="65.6" cy="63.0" r="1.39" fill="url(#gB)"/>
<ellipse cx="40.8" cy="72.9" rx="3.47" ry="2.08" fill="url(#gY)" transform="rotate(15 40.8 72.9)"/>
<circle cx="21.5" cy="73.9" r="2.49" fill="url(#gY)"/>
<circle cx="54.6" cy="69.5" r="1.11" fill="url(#gB)"/>
<circle cx="53.9" cy="65.9" r="0.75" fill="url(#gB)"/>
<circle cx="2.8" cy="91.4" r="1.66" fill="url(#gB)"/>
<circle cx="34.9" cy="91.7" r="1.39" fill="url(#gY)"/>
<circle cx="39.3" cy="90.7" r="1.11" fill="url(#gB)"/>
<circle cx="68.5" cy="54.9" r="0.88" fill="url(#gB)"/>
<circle cx="17.4" cy="92.9" r="0.75" fill="url(#gB)"/>
<circle cx="2.8" cy="11.9" r="0.75" fill="url(#gB)"/>
<circle cx="32.7" cy="49.1" r="0.75" fill="url(#gB)"/>
<circle cx="14.5" cy="50.6" r="0.75" fill="url(#gB)"/>
<circle cx="13.8" cy="75.4" r="0.75" fill="url(#gB)"/>
<circle cx="6.5" cy="81.2" r="0.75" fill="url(#gB)"/>
<circle cx="67.0" cy="52.8" r="0.75" fill="url(#gB)"/>
<circle cx="69.2" cy="8.3" r="0.75" fill="url(#gB)"/>
<circle cx="64.1" cy="46.2" r="0.75" fill="url(#gB)"/>
<circle cx="7.9" cy="25.8" r="0.75" fill="url(#gB)"/>
</g></svg>
<rect x="615.28" y="325.60" width="12.8" height="1.4" fill="#d8d8d8"/>
<rect x="663.98" y="318.10" width="20.00" height="10.7" fill="#f2f550"/>
<text transform="translate(667.48,326.70) scale(0.781,1)" font-size="10" font-family="Liberation Sans, sans-serif" fill="#000" stroke="#000" stroke-width="0.6">2</text>
<text transform="translate(671.82,326.70) scale(0.781,1)" font-size="10" font-family="Liberation Sans, sans-serif" fill="#000" stroke="#000" stroke-width="0.6">5</text>
<text transform="translate(676.17,326.70) scale(0.781,1)" font-size="10" font-family="Liberation Sans, sans-serif" fill="#000" stroke="#000" stroke-width="0.6">.</text>
<text transform="translate(678.34,326.70) scale(0.781,1)" font-size="10" font-family="Liberation Sans, sans-serif" fill="#000" stroke="#000" stroke-width="0.6">6</text>
<svg x="23.00" y="331.00" width="70.90" height="94.80" overflow="hidden"><g filter="url(#lumpy)">
<circle cx="15.3" cy="2.1" r="1.60" fill="url(#gM)"/>
<circle cx="26.3" cy="6.1" r="1.60" fill="url(#gM)"/>
<circle cx="54.7" cy="11.2" r="1.93" fill="url(#gM)"/>
<circle cx="50.3" cy="14.8" r="1.93" fill="url(#gM)"/>
<circle cx="59.8" cy="3.1" r="1.28" fill="url(#gM)"/>
<circle cx="64.2" cy="3.9" r="1.28" fill="url(#gM)"/>
<circle cx="13.9" cy="26.5" r="2.41" fill="url(#gM)"/>
<circle cx="6.6" cy="27.2" r="1.60" fill="url(#gM)"/>
<circle cx="17.5" cy="21.4" r="1.60" fill="url(#gM)"/>
<circle cx="24.8" cy="22.1" r="1.60" fill="url(#gM)"/>
<circle cx="25.5" cy="26.5" r="1.93" fill="url(#gM)"/>
<circle cx="21.9" cy="27.2" r="1.60" fill="url(#gM)"/>
<circle cx="16.8" cy="31.6" r="1.60" fill="url(#gM)"/>
<circle cx="36.5" cy="16.3" r="1.28" fill="url(#gM)"/>
<circle cx="42.3" cy="14.1" r="1.28" fill="url(#gM)"/>
<circle cx="59.1" cy="19.9" r="1.60" fill="url(#gM)"/>
<circle cx="60.5" cy="25.8" r="1.60" fill="url(#gM)"/>
<circle cx="58.4" cy="30.1" r="1.93" fill="url(#gM)"/>
<circle cx="48.1" cy="34.5" r="1.93" fill="url(#gM)"/>
<circle cx="64.2" cy="36.7" r="1.60" fill="url(#gM)"/>
<circle cx="55.4" cy="44.7" r="1.93" fill="url(#gM)"/>
<circle cx="14.6" cy="41.1" r="1.60" fill="url(#gM)"/>
<circle cx="9.5" cy="44.7" r="1.60" fill="url(#gM)"/>
<circle cx="10.9" cy="46.2" r="1.28" fill="url(#gM)"/>
<circle cx="6.6" cy="50.6" r="1.60" fill="url(#gM)"/>
<circle cx="34.3" cy="41.8" r="1.60" fill="url(#gM)"/>
<circle cx="37.2" cy="48.4" r="1.60" fill="url(#gM)"/>
<circle cx="40.1" cy="54.2" r="2.41" fill="url(#gM)"/>
<circle cx="35.7" cy="50.6" r="1.28" fill="url(#gM)"/>
<circle cx="54.7" cy="53.5" r="1.28" fill="url(#gM)"/>
<circle cx="5.8" cy="57.9" r="1.60" fill="url(#gM)"/>
<circle cx="5.1" cy="59.6" r="1.44" fill="url(#gM)"/>
<circle cx="10.2" cy="62.2" r="1.60" fill="url(#gM)"/>
<circle cx="23.3" cy="65.2" r="1.60" fill="url(#gM)"/>
<circle cx="43.0" cy="65.9" r="1.60" fill="url(#gM)"/>
<circle cx="49.6" cy="66.6" r="1.93" fill="url(#gM)"/>
<circle cx="65.7" cy="59.3" r="1.60" fill="url(#gM)"/>
<circle cx="2.2" cy="83.4" r="2.41" fill="url(#gM)"/>
<circle cx="27.7" cy="85.6" r="1.60" fill="url(#gM)"/>
<circle cx="33.6" cy="85.6" r="1.60" fill="url(#gM)"/>
<circle cx="31.4" cy="88.5" r="1.60" fill="url(#gM)"/>
<circle cx="60.5" cy="75.4" r="1.28" fill="url(#gM)"/>
<circle cx="57.6" cy="81.2" r="1.28" fill="url(#gM)"/>
<circle cx="13.1" cy="73.9" r="1.28" fill="url(#gM)"/>
<circle cx="32.8" cy="75.4" r="1.28" fill="url(#gM)"/>
<circle cx="43.8" cy="73.9" r="1.28" fill="url(#gM)"/>
<circle cx="67.1" cy="79.0" r="1.28" fill="url(#gM)"/>
<circle cx="43.8" cy="84.1" r="1.28" fill="url(#gM)"/>
<circle cx="70.0" cy="35.2" r="1.28" fill="url(#gM)"/>
<circle cx="59.8" cy="41.8" r="1.28" fill="url(#gM)"/>
<circle cx="42.3" cy="38.9" r="1.28" fill="url(#gM)"/>
<circle cx="30.6" cy="54.2" r="1.28" fill="url(#gM)"/>
<circle cx="26.3" cy="53.5" r="1.28" fill="url(#gM)"/>
<circle cx="56.2" cy="55.7" r="1.28" fill="url(#gM)"/>
<circle cx="14.6" cy="63.7" r="1.28" fill="url(#gM)"/>
<circle cx="51.1" cy="13.4" r="1.60" fill="url(#gM)"/>
<circle cx="60.0" cy="72.0" r="0.66" fill="url(#gM)"/>
<circle cx="21.5" cy="45.3" r="1.04" fill="url(#gM)"/>
<circle cx="35.8" cy="26.8" r="0.87" fill="url(#gM)"/>
<circle cx="57.5" cy="85.7" r="0.94" fill="url(#gM)"/>
<circle cx="63.8" cy="65.0" r="0.56" fill="url(#gM)"/>
<circle cx="68.6" cy="45.3" r="0.66" fill="url(#gM)"/>
<circle cx="57.2" cy="52.1" r="0.93" fill="url(#gM)"/>
<circle cx="28.3" cy="78.4" r="0.50" fill="url(#gM)"/>
<circle cx="35.0" cy="82.4" r="0.70" fill="url(#gM)"/>
<circle cx="61.8" cy="18.2" r="0.64" fill="url(#gM)"/>
<circle cx="68.7" cy="76.3" r="0.55" fill="url(#gM)"/>
<circle cx="7.7" cy="52.4" r="0.83" fill="url(#gM)"/>
<circle cx="42.8" cy="55.8" r="0.86" fill="url(#gM)"/>
<circle cx="27.3" cy="54.7" r="0.61" fill="url(#gM)"/>
<circle cx="13.3" cy="58.2" r="0.79" fill="url(#gM)"/>
<circle cx="65.5" cy="51.4" r="0.92" fill="url(#gM)"/>
<circle cx="41.2" cy="42.8" r="1.10" fill="url(#gM)"/>
<circle cx="65.1" cy="75.4" r="0.87" fill="url(#gM)"/>
<circle cx="17.3" cy="69.5" r="0.63" fill="url(#gM)"/>
<circle cx="56.4" cy="31.6" r="0.56" fill="url(#gM)"/>
<circle cx="10.4" cy="66.3" r="0.84" fill="url(#gM)"/>
<circle cx="64.6" cy="50.7" r="0.52" fill="url(#gM)"/>
<circle cx="45.1" cy="57.6" r="0.73" fill="url(#gM)"/>
<circle cx="26.3" cy="93.1" r="0.51" fill="url(#gM)"/>
<circle cx="68.2" cy="17.6" r="0.63" fill="url(#gM)"/>
<circle cx="56.9" cy="89.0" r="0.76" fill="url(#gM)"/>
<circle cx="7.2" cy="24.7" r="0.89" fill="url(#gM)"/>
<circle cx="24.9" cy="17.1" r="0.52" fill="url(#gM)"/>
<circle cx="7.2" cy="93.9" r="0.72" fill="url(#gM)"/>
<circle cx="24.3" cy="23.8" r="0.77" fill="url(#gM)"/>
<circle cx="12.4" cy="44.8" r="0.84" fill="url(#gM)"/>
<circle cx="36.1" cy="29.6" r="1.00" fill="url(#gM)"/>
<circle cx="17.8" cy="53.3" r="0.94" fill="url(#gM)"/>
<circle cx="23.9" cy="4.3" r="0.64" fill="url(#gM)"/>
<circle cx="67.7" cy="33.5" r="0.72" fill="url(#gM)"/>
<circle cx="67.2" cy="60.2" r="0.93" fill="url(#gM)"/>
<circle cx="27.5" cy="39.4" r="0.50" fill="url(#gM)"/>
<circle cx="13.7" cy="31.8" r="0.88" fill="url(#gM)"/>
<circle cx="26.9" cy="83.2" r="0.75" fill="url(#gM)"/>
<circle cx="28.6" cy="66.7" r="0.90" fill="url(#gM)"/>
<circle cx="3.3" cy="42.3" r="0.59" fill="url(#gM)"/>
<circle cx="37.5" cy="46.3" r="0.95" fill="url(#gM)"/>
<circle cx="62.8" cy="47.0" r="0.78" fill="url(#gM)"/>
<circle cx="13.3" cy="94.9" r="0.55" fill="url(#gM)"/>
<circle cx="51.5" cy="93.7" r="0.91" fill="url(#gM)"/>
<circle cx="22.4" cy="20.3" r="0.50" fill="url(#gM)"/>
<circle cx="58.4" cy="50.2" r="0.57" fill="url(#gM)"/>
<circle cx="46.1" cy="83.0" r="1.09" fill="url(#gM)"/>
<circle cx="7.1" cy="81.1" r="0.55" fill="url(#gM)"/>
<circle cx="61.2" cy="12.7" r="0.89" fill="url(#gM)"/>
<circle cx="24.6" cy="82.8" r="0.51" fill="url(#gM)"/>
<circle cx="2.9" cy="64.7" r="1.07" fill="url(#gM)"/>
<circle cx="66.6" cy="86.4" r="0.95" fill="url(#gM)"/>
<circle cx="49.8" cy="62.3" r="1.04" fill="url(#gM)"/>
<circle cx="45.5" cy="35.4" r="0.62" fill="url(#gM)"/>
<circle cx="41.7" cy="0.8" r="0.70" fill="url(#gM)"/>
<circle cx="56.1" cy="68.3" r="0.87" fill="url(#gM)"/>
<circle cx="20.6" cy="37.5" r="0.68" fill="url(#gM)"/>
<circle cx="33.9" cy="22.8" r="0.61" fill="url(#gM)"/>
<circle cx="37.1" cy="6.7" r="0.70" fill="url(#gM)"/>
<circle cx="24.4" cy="45.5" r="0.76" fill="url(#gM)"/>
<circle cx="65.3" cy="59.5" r="1.08" fill="url(#gM)"/>
<circle cx="45.4" cy="6.3" r="0.95" fill="url(#gM)"/>
<circle cx="4.3" cy="0.7" r="0.81" fill="url(#gM)"/>
<circle cx="31.8" cy="46.4" r="0.91" fill="url(#gM)"/>
<circle cx="18.5" cy="73.8" r="0.72" fill="url(#gM)"/>
<circle cx="64.1" cy="42.9" r="0.57" fill="url(#gM)"/>
<circle cx="28.3" cy="19.7" r="1.07" fill="url(#gM)"/>
<circle cx="15.3" cy="13.9" r="0.73" fill="url(#gM)"/>
<circle cx="69.8" cy="14.1" r="0.91" fill="url(#gM)"/>
<circle cx="62.3" cy="47.1" r="0.69" fill="url(#gM)"/>
<circle cx="35.4" cy="47.4" r="0.62" fill="url(#gM)"/>
<circle cx="43.3" cy="20.8" r="1.08" fill="url(#gM)"/>
<circle cx="63.8" cy="77.7" r="0.59" fill="url(#gM)"/>
<circle cx="2.8" cy="21.4" r="0.51" fill="url(#gM)"/>
<circle cx="59.9" cy="31.4" r="0.59" fill="url(#gM)"/>
<circle cx="46.6" cy="92.0" r="1.04" fill="url(#gM)"/>
<circle cx="35.7" cy="54.5" r="0.98" fill="url(#gM)"/>
<circle cx="53.8" cy="94.1" r="1.04" fill="url(#gM)"/>
<circle cx="14.6" cy="50.9" r="1.00" fill="url(#gM)"/>
<circle cx="34.2" cy="75.1" r="0.85" fill="url(#gM)"/>
<circle cx="60.4" cy="75.8" r="0.50" fill="url(#gM)"/>
<circle cx="12.9" cy="48.2" r="0.54" fill="url(#gM)"/>
<circle cx="61.1" cy="89.6" r="0.74" fill="url(#gM)"/>
<circle cx="57.5" cy="5.9" r="0.58" fill="url(#gM)"/>
<circle cx="20.4" cy="78.8" r="0.52" fill="url(#gM)"/>
<circle cx="50.9" cy="64.0" r="1.09" fill="url(#gM)"/>
<circle cx="29.2" cy="58.1" r="0.53" fill="url(#gM)"/>
<circle cx="33.4" cy="14.4" r="0.87" fill="url(#gM)"/>
<circle cx="44.7" cy="10.0" r="0.71" fill="url(#gM)"/>
<circle cx="27.2" cy="73.8" r="1.03" fill="url(#gM)"/>
<circle cx="43.3" cy="44.4" r="0.70" fill="url(#gM)"/>
<circle cx="8.8" cy="64.8" r="0.97" fill="url(#gM)"/>
<circle cx="65.1" cy="82.9" r="0.99" fill="url(#gM)"/>
<circle cx="36.8" cy="74.6" r="0.97" fill="url(#gM)"/>
<circle cx="31.6" cy="71.9" r="0.97" fill="url(#gM)"/>
<circle cx="47.3" cy="54.3" r="0.56" fill="url(#gM)"/>
<circle cx="58.2" cy="84.4" r="0.92" fill="url(#gM)"/>
<circle cx="29.8" cy="29.0" r="0.76" fill="url(#gM)"/>
<circle cx="29.5" cy="9.4" r="0.94" fill="url(#gM)"/>
<circle cx="2.2" cy="42.4" r="0.52" fill="url(#gM)"/>
<circle cx="65.3" cy="91.4" r="0.55" fill="url(#gM)"/>
<circle cx="5.0" cy="34.1" r="0.71" fill="url(#gM)"/>
<circle cx="5.0" cy="84.9" r="0.62" fill="url(#gM)"/>
<circle cx="47.8" cy="89.1" r="0.50" fill="url(#gM)"/>
<circle cx="26.2" cy="2.3" r="1.02" fill="url(#gM)"/>
<circle cx="13.3" cy="10.7" r="1.08" fill="url(#gM)"/>
<circle cx="9.2" cy="91.8" r="0.78" fill="url(#gM)"/>
<circle cx="7.3" cy="55.2" r="1.04" fill="url(#gM)"/>
<circle cx="67.1" cy="76.4" r="0.65" fill="url(#gM)"/>
<circle cx="53.6" cy="27.7" r="0.53" fill="url(#gM)"/>
<circle cx="9.4" cy="2.0" r="0.54" fill="url(#gM)"/>
<circle cx="10.1" cy="40.1" r="0.55" fill="url(#gM)"/>
<circle cx="4.1" cy="38.8" r="0.94" fill="url(#gM)"/>
<circle cx="22.8" cy="19.4" r="0.78" fill="url(#gM)"/>
<circle cx="67.5" cy="75.7" r="0.55" fill="url(#gM)"/>
<circle cx="39.6" cy="65.4" r="0.55" fill="url(#gM)"/>
<circle cx="30.7" cy="23.6" r="0.55" fill="url(#gM)"/>
<circle cx="66.5" cy="13.5" r="0.55" fill="url(#gM)"/>
<circle cx="45.2" cy="45.9" r="0.55" fill="url(#gM)"/>
<circle cx="0.1" cy="66.4" r="0.55" fill="url(#gM)"/>
<circle cx="0.6" cy="28.4" r="0.55" fill="url(#gM)"/>
<circle cx="44.7" cy="51.8" r="0.55" fill="url(#gM)"/>
<circle cx="50.1" cy="44.8" r="0.55" fill="url(#gM)"/>
<circle cx="54.0" cy="22.1" r="0.55" fill="url(#gM)"/>
<circle cx="19.9" cy="93.5" r="0.55" fill="url(#gM)"/>
<circle cx="62.7" cy="3.9" r="0.55" fill="url(#gM)"/>
<circle cx="37.4" cy="55.3" r="0.55" fill="url(#gM)"/>
<circle cx="7.2" cy="24.0" r="0.55" fill="url(#gM)"/>
<circle cx="53.6" cy="86.3" r="0.55" fill="url(#gM)"/>
<circle cx="2.5" cy="75.3" r="0.55" fill="url(#gM)"/>
<circle cx="24.1" cy="50.4" r="0.55" fill="url(#gM)"/>
<circle cx="65.3" cy="15.5" r="0.55" fill="url(#gM)"/>
<circle cx="20.6" cy="49.4" r="0.55" fill="url(#gM)"/>
<circle cx="44.5" cy="50.5" r="0.55" fill="url(#gM)"/>
<circle cx="56.0" cy="27.8" r="0.55" fill="url(#gM)"/>
<circle cx="44.6" cy="14.9" r="0.55" fill="url(#gM)"/>
<circle cx="27.1" cy="56.2" r="0.55" fill="url(#gM)"/>
<circle cx="47.4" cy="33.6" r="0.55" fill="url(#gM)"/>
<circle cx="29.5" cy="45.3" r="0.55" fill="url(#gM)"/>
<circle cx="22.6" cy="61.9" r="0.55" fill="url(#gM)"/>
<circle cx="21.3" cy="70.8" r="0.55" fill="url(#gM)"/>
<circle cx="44.1" cy="2.4" r="0.55" fill="url(#gM)"/>
<circle cx="63.1" cy="1.0" r="0.55" fill="url(#gM)"/>
<circle cx="4.7" cy="82.4" r="0.55" fill="url(#gM)"/>
<circle cx="52.7" cy="63.6" r="0.55" fill="url(#gM)"/>
<circle cx="62.0" cy="66.5" r="0.55" fill="url(#gM)"/>
<circle cx="16.1" cy="71.4" r="0.55" fill="url(#gM)"/>
<circle cx="7.5" cy="43.8" r="0.55" fill="url(#gM)"/>
<circle cx="31.5" cy="75.0" r="0.55" fill="url(#gM)"/>
<circle cx="57.3" cy="37.0" r="0.55" fill="url(#gM)"/>
<circle cx="13.9" cy="89.3" r="0.55" fill="url(#gM)"/>
<circle cx="3.5" cy="36.9" r="0.55" fill="url(#gM)"/>
<circle cx="6.0" cy="17.7" r="0.55" fill="url(#gM)"/>
<circle cx="45.3" cy="16.5" r="0.55" fill="url(#gM)"/>
<circle cx="43.5" cy="67.0" r="0.55" fill="url(#gM)"/>
<circle cx="20.2" cy="83.4" r="0.55" fill="url(#gM)"/>
<circle cx="32.5" cy="60.0" r="0.55" fill="url(#gM)"/>
<circle cx="66.3" cy="55.2" r="0.55" fill="url(#gM)"/>
<circle cx="50.0" cy="20.5" r="0.55" fill="url(#gM)"/>
<circle cx="3.1" cy="15.5" r="0.55" fill="url(#gM)"/>
<circle cx="46.5" cy="13.3" r="0.55" fill="url(#gM)"/>
<circle cx="48.3" cy="92.2" r="0.55" fill="url(#gM)"/>
<circle cx="65.4" cy="43.1" r="0.55" fill="url(#gM)"/>
<circle cx="22.9" cy="43.3" r="0.55" fill="url(#gM)"/>
</g></svg>
<rect x="25.20" y="422.60" width="12.8" height="1.4" fill="#d8d8d8"/>
<rect x="80.50" y="415.10" width="13.40" height="10.7" fill="#f2f550"/>
<text transform="translate(82.60,423.70) scale(0.719,1)" font-size="10" font-family="Liberation Sans, sans-serif" fill="#000" stroke="#000" stroke-width="0.6">0</text>
<text transform="translate(86.60,423.70) scale(0.719,1)" font-size="10" font-family="Liberation Sans, sans-serif" fill="#000" stroke="#000" stroke-width="0.6">.</text>
<text transform="translate(88.60,423.70) scale(0.719,1)" font-size="10" font-family="Liberation Sans, sans-serif" fill="#000" stroke="#000" stroke-width="0.6">0</text>
<svg x="96.76" y="331.00" width="70.90" height="94.80" overflow="hidden"><g filter="url(#lumpy)">
<ellipse cx="27.0" cy="9.4" rx="7.97" ry="5.69" fill="url(#gY)" transform="rotate(-20 27.0 9.4)"/>
<circle cx="22.6" cy="11.5" r="3.79" fill="url(#gY)"/>
<circle cx="13.8" cy="4.6" r="2.28" fill="url(#gW)"/>
<circle cx="8.7" cy="1.3" r="2.28" fill="url(#gW)"/>
<circle cx="18.9" cy="1.3" r="3.03" fill="url(#gY)"/>
<circle cx="43.0" cy="0.7" r="3.79" fill="url(#gY)"/>
<circle cx="7.3" cy="10.0" r="2.28" fill="url(#gW)"/>
<circle cx="10.6" cy="13.4" r="3.79" fill="url(#gW)"/>
<circle cx="6.2" cy="14.1" r="1.71" fill="url(#gW)"/>
<circle cx="59.8" cy="3.6" r="1.90" fill="url(#gW)"/>
<circle cx="60.5" cy="8.0" r="3.41" fill="url(#gW)"/>
<circle cx="57.2" cy="12.3" r="3.98" fill="url(#gY)"/>
<circle cx="63.0" cy="12.6" r="3.41" fill="url(#gW)"/>
<circle cx="68.1" cy="11.9" r="1.90" fill="url(#gW)"/>
<circle cx="41.6" cy="11.2" r="1.33" fill="url(#gW)"/>
<circle cx="35.0" cy="13.4" r="2.28" fill="url(#gW)"/>
<circle cx="42.6" cy="17.7" r="2.66" fill="url(#gW)"/>
<circle cx="44.8" cy="20.2" r="1.90" fill="url(#gW)"/>
<circle cx="5.4" cy="17.7" r="1.90" fill="url(#gW)"/>
<circle cx="5.1" cy="21.4" r="1.90" fill="url(#gW)"/>
<circle cx="9.5" cy="23.9" r="2.28" fill="url(#gW)"/>
<circle cx="13.1" cy="26.8" r="2.66" fill="url(#gW)"/>
<circle cx="16.0" cy="27.2" r="1.90" fill="url(#gW)"/>
<circle cx="23.3" cy="21.4" r="1.33" fill="url(#gW)"/>
<circle cx="18.2" cy="25.8" r="1.33" fill="url(#gW)"/>
<circle cx="35.7" cy="23.6" r="1.71" fill="url(#gW)"/>
<circle cx="38.9" cy="22.8" r="1.33" fill="url(#gW)"/>
<circle cx="35.4" cy="27.7" r="2.66" fill="url(#gW)"/>
<circle cx="38.3" cy="32.3" r="4.17" fill="url(#gY)"/>
<ellipse cx="55.4" cy="32.3" rx="6.07" ry="3.41" fill="url(#gY)" transform="rotate(-25 55.4 32.3)"/>
<circle cx="48.1" cy="36.0" r="4.17" fill="url(#gY)"/>
<circle cx="64.9" cy="29.4" r="2.66" fill="url(#gW)"/>
<circle cx="2.4" cy="33.1" r="1.90" fill="url(#gW)"/>
<circle cx="14.1" cy="33.1" r="2.28" fill="url(#gW)"/>
<circle cx="18.9" cy="33.8" r="4.17" fill="url(#gY)"/>
<circle cx="25.2" cy="36.3" r="2.85" fill="url(#gW)"/>
<circle cx="16.7" cy="37.7" r="1.71" fill="url(#gW)"/>
<circle cx="14.6" cy="41.1" r="2.28" fill="url(#gW)"/>
<circle cx="22.6" cy="40.4" r="1.71" fill="url(#gW)"/>
<circle cx="28.4" cy="38.9" r="2.28" fill="url(#gW)"/>
<ellipse cx="17.9" cy="45.9" rx="5.31" ry="3.41" fill="url(#gY)" transform="rotate(-30 17.9 45.9)"/>
<circle cx="27.3" cy="44.0" r="2.28" fill="url(#gW)"/>
<ellipse cx="42.3" cy="41.5" rx="4.17" ry="2.66" fill="url(#gY)" transform="rotate(-30 42.3 41.5)"/>
<circle cx="37.5" cy="43.6" r="2.09" fill="url(#gW)"/>
<circle cx="36.4" cy="49.8" r="5.31" fill="url(#gY)"/>
<circle cx="39.4" cy="53.8" r="2.47" fill="url(#gW)"/>
<circle cx="51.3" cy="49.8" r="3.79" fill="url(#gW)"/>
<circle cx="52.6" cy="54.9" r="1.90" fill="url(#gW)"/>
<circle cx="48.1" cy="46.2" r="2.28" fill="url(#gW)"/>
<circle cx="55.4" cy="40.4" r="2.85" fill="url(#gW)"/>
<circle cx="61.2" cy="38.9" r="1.71" fill="url(#gW)"/>
<circle cx="61.7" cy="43.0" r="2.28" fill="url(#gW)"/>
<circle cx="5.1" cy="46.9" r="2.28" fill="url(#gW)"/>
<circle cx="22.9" cy="52.8" r="4.17" fill="url(#gY)"/>
<circle cx="6.5" cy="56.4" r="1.52" fill="url(#gW)"/>
<circle cx="26.2" cy="61.9" r="2.85" fill="url(#gW)"/>
<circle cx="47.4" cy="59.0" r="2.85" fill="url(#gW)"/>
<circle cx="50.3" cy="60.8" r="2.28" fill="url(#gW)"/>
<circle cx="39.4" cy="61.5" r="1.71" fill="url(#gW)"/>
<circle cx="18.2" cy="67.8" r="2.28" fill="url(#gW)"/>
<circle cx="29.9" cy="73.2" r="5.31" fill="url(#gY)"/>
<circle cx="24.8" cy="71.0" r="2.85" fill="url(#gW)"/>
<circle cx="20.8" cy="79.0" r="4.74" fill="url(#gY)"/>
<circle cx="13.4" cy="76.8" r="2.85" fill="url(#gW)"/>
<circle cx="3.9" cy="75.4" r="2.28" fill="url(#gW)"/>
<circle cx="16.7" cy="80.2" r="2.28" fill="url(#gW)"/>
<circle cx="6.5" cy="80.5" r="2.28" fill="url(#gW)"/>
<circle cx="3.9" cy="85.6" r="4.74" fill="url(#gY)"/>
<circle cx="24.8" cy="87.3" r="5.31" fill="url(#gY)"/>
<circle cx="32.1" cy="81.9" r="2.85" fill="url(#gW)"/>
<circle cx="41.3" cy="85.3" r="3.41" fill="url(#gW)"/>
<circle cx="53.2" cy="83.4" r="4.74" fill="url(#gY)"/>
<circle cx="48.8" cy="84.9" r="2.66" fill="url(#gW)"/>
<circle cx="60.2" cy="76.5" r="2.66" fill="url(#gW)"/>
<circle cx="66.6" cy="73.6" r="2.85" fill="url(#gW)"/>
<circle cx="65.6" cy="82.7" r="1.90" fill="url(#gW)"/>
<circle cx="35.0" cy="88.5" r="1.52" fill="url(#gW)"/>
<circle cx="13.1" cy="83.4" r="1.52" fill="url(#gW)"/>
<circle cx="63.1" cy="19.9" r="1.52" fill="url(#gW)"/>
<circle cx="63.4" cy="24.3" r="0.88" fill="url(#gW)"/>
<circle cx="29.1" cy="18.5" r="0.88" fill="url(#gW)"/>
<circle cx="16.0" cy="16.7" r="0.88" fill="url(#gW)"/>
<circle cx="21.1" cy="23.1" r="0.88" fill="url(#gW)"/>
<circle cx="10.9" cy="21.4" r="0.88" fill="url(#gW)"/>
<circle cx="8.0" cy="28.0" r="0.88" fill="url(#gW)"/>
<circle cx="16.7" cy="28.0" r="0.88" fill="url(#gW)"/>
<circle cx="19.7" cy="38.2" r="0.88" fill="url(#gW)"/>
<circle cx="10.9" cy="47.6" r="0.88" fill="url(#gW)"/>
<circle cx="43.0" cy="14.1" r="0.88" fill="url(#gW)"/>
<circle cx="45.9" cy="14.8" r="0.88" fill="url(#gW)"/>
<circle cx="39.4" cy="8.3" r="0.88" fill="url(#gW)"/>
<circle cx="55.4" cy="33.1" r="0.88" fill="url(#gW)"/>
<circle cx="48.1" cy="54.2" r="0.88" fill="url(#gW)"/>
<circle cx="2.2" cy="85.6" r="0.88" fill="url(#gW)"/>
<circle cx="37.9" cy="85.6" r="0.88" fill="url(#gW)"/>
<circle cx="47.4" cy="82.7" r="0.88" fill="url(#gW)"/>
<circle cx="61.2" cy="79.7" r="0.88" fill="url(#gW)"/>
<circle cx="70.0" cy="79.0" r="0.88" fill="url(#gW)"/>
<circle cx="13.1" cy="1.0" r="0.75" fill="url(#gW)"/>
<circle cx="32.8" cy="3.9" r="0.75" fill="url(#gW)"/>
<circle cx="16.7" cy="38.2" r="0.75" fill="url(#gW)"/>
<circle cx="26.2" cy="58.6" r="0.75" fill="url(#gW)"/>
<circle cx="27.7" cy="67.3" r="0.75" fill="url(#gW)"/>
<circle cx="59.1" cy="72.5" r="0.75" fill="url(#gW)"/>
<circle cx="15.3" cy="15.5" r="0.75" fill="url(#gW)"/>
<circle cx="29.9" cy="21.4" r="0.75" fill="url(#gW)"/>
<circle cx="51.8" cy="27.2" r="0.75" fill="url(#gW)"/>
<circle cx="63.4" cy="43.3" r="0.75" fill="url(#gW)"/>
<circle cx="8.0" cy="60.8" r="0.75" fill="url(#gW)"/>
<circle cx="43.0" cy="68.1" r="0.75" fill="url(#gW)"/>
<circle cx="54.7" cy="66.6" r="0.75" fill="url(#gW)"/>
<circle cx="35.7" cy="76.8" r="0.75" fill="url(#gW)"/>
</g></svg>
<rect x="98.96" y="422.60" width="12.8" height="1.4" fill="#d8d8d8"/>
<rect x="154.26" y="415.10" width="13.40" height="10.7" fill="#f2f550"/>
<text transform="translate(156.36,423.70) scale(0.719,1)" font-size="10" font-family="Liberation Sans, sans-serif" fill="#000" stroke="#000" stroke-width="0.6">6</text>
<text transform="translate(160.36,423.70) scale(0.719,1)" font-size="10" font-family="Liberation Sans, sans-serif" fill="#000" stroke="#000" stroke-width="0.6">.</text>
<text transform="translate(162.36,423.70) scale(0.719,1)" font-size="10" font-family="Liberation Sans, sans-serif" fill="#000" stroke="#000" stroke-width="0.6">7</text>
<svg x="170.52" y="331.00" width="70.90" height="94.80" overflow="hidden"><g filter="url(#lumpy)">
<circle cx="39.6" cy="3.9" r="0.90" fill="url(#gB)"/>
<circle cx="8.2" cy="9.4" r="0.90" fill="url(#gB)"/>
<circle cx="28.7" cy="14.1" r="0.90" fill="url(#gB)"/>
<circle cx="31.3" cy="15.3" r="0.90" fill="url(#gB)"/>
<circle cx="37.4" cy="20.2" r="0.90" fill="url(#gB)"/>
<circle cx="34.2" cy="27.2" r="0.90" fill="url(#gB)"/>
<circle cx="43.0" cy="41.8" r="0.90" fill="url(#gB)"/>
<circle cx="35.7" cy="52.3" r="0.90" fill="url(#gB)"/>
<circle cx="56.4" cy="72.0" r="0.90" fill="url(#gB)"/>
<circle cx="57.3" cy="77.6" r="0.90" fill="url(#gB)"/>
<circle cx="15.5" cy="3.9" r="0.75" fill="url(#gB)"/>
<circle cx="29.4" cy="2.4" r="0.75" fill="url(#gB)"/>
<circle cx="31.3" cy="5.6" r="0.75" fill="url(#gB)"/>
<circle cx="34.9" cy="6.8" r="0.75" fill="url(#gB)"/>
<circle cx="65.9" cy="6.8" r="0.75" fill="url(#gB)"/>
<circle cx="9.0" cy="15.3" r="0.75" fill="url(#gB)"/>
<circle cx="15.5" cy="15.5" r="0.75" fill="url(#gB)"/>
<circle cx="19.2" cy="14.4" r="0.75" fill="url(#gB)"/>
<circle cx="22.8" cy="18.8" r="0.75" fill="url(#gB)"/>
<circle cx="5.0" cy="22.6" r="0.75" fill="url(#gB)"/>
<circle cx="43.7" cy="41.1" r="0.75" fill="url(#gB)"/>
<circle cx="46.9" cy="46.9" r="0.75" fill="url(#gB)"/>
<circle cx="32.7" cy="53.0" r="0.75" fill="url(#gB)"/>
<circle cx="19.6" cy="62.2" r="0.75" fill="url(#gB)"/>
<circle cx="11.9" cy="84.1" r="0.75" fill="url(#gB)"/>
<circle cx="29.0" cy="85.1" r="0.75" fill="url(#gB)"/>
</g></svg>
<rect x="172.72" y="422.60" width="12.8" height="1.4" fill="#d8d8d8"/>
<rect x="228.02" y="415.10" width="13.40" height="10.7" fill="#f2f550"/>
<text transform="translate(230.12,423.70) scale(0.719,1)" font-size="10" font-family="Liberation Sans, sans-serif" fill="#000" stroke="#000" stroke-width="0.6">0</text>
<text transform="translate(234.12,423.70) scale(0.719,1)" font-size="10" font-family="Liberation Sans, sans-serif" fill="#000" stroke="#000" stroke-width="0.6">.</text>
<text transform="translate(236.12,423.70) scale(0.719,1)" font-size="10" font-family="Liberation Sans, sans-serif" fill="#000" stroke="#000" stroke-width="0.6">0</text>
<svg x="244.28" y="331.00" width="70.90" height="94.80" overflow="hidden"><g filter="url(#lumpy)">
<circle cx="33.3" cy="14.1" r="2.41" fill="url(#gM)"/>
<circle cx="30.4" cy="11.9" r="1.60" fill="url(#gM)"/>
<circle cx="39.1" cy="10.4" r="1.93" fill="url(#gM)"/>
<circle cx="18.0" cy="9.7" r="1.60" fill="url(#gM)"/>
<circle cx="68.3" cy="9.0" r="1.60" fill="url(#gM)"/>
<circle cx="54.4" cy="7.5" r="1.28" fill="url(#gM)"/>
<circle cx="7.0" cy="6.1" r="1.28" fill="url(#gM)"/>
<circle cx="66.8" cy="17.7" r="1.28" fill="url(#gM)"/>
<circle cx="64.6" cy="19.9" r="1.28" fill="url(#gM)"/>
<circle cx="55.2" cy="22.8" r="2.25" fill="url(#gM)"/>
<circle cx="51.5" cy="25.8" r="1.60" fill="url(#gM)"/>
<circle cx="55.9" cy="30.1" r="2.25" fill="url(#gM)"/>
<circle cx="62.5" cy="30.1" r="1.93" fill="url(#gM)"/>
<circle cx="61.7" cy="25.8" r="1.60" fill="url(#gM)"/>
<circle cx="58.1" cy="24.3" r="1.28" fill="url(#gM)"/>
<circle cx="59.5" cy="36.0" r="1.93" fill="url(#gM)"/>
<circle cx="62.5" cy="36.7" r="1.60" fill="url(#gM)"/>
<circle cx="55.2" cy="37.4" r="1.60" fill="url(#gM)"/>
<circle cx="34.7" cy="25.8" r="2.25" fill="url(#gM)"/>
<circle cx="37.7" cy="25.8" r="1.60" fill="url(#gM)"/>
<circle cx="43.5" cy="25.8" r="1.93" fill="url(#gM)"/>
<circle cx="42.0" cy="33.8" r="1.60" fill="url(#gM)"/>
<circle cx="34.7" cy="33.8" r="1.60" fill="url(#gM)"/>
<circle cx="36.9" cy="38.9" r="1.60" fill="url(#gM)"/>
<circle cx="29.6" cy="33.8" r="1.28" fill="url(#gM)"/>
<circle cx="42.0" cy="41.1" r="1.28" fill="url(#gM)"/>
<circle cx="6.3" cy="24.3" r="1.28" fill="url(#gM)"/>
<circle cx="15.8" cy="30.1" r="1.28" fill="url(#gM)"/>
<circle cx="4.8" cy="41.1" r="2.41" fill="url(#gM)"/>
<circle cx="5.6" cy="46.9" r="1.60" fill="url(#gM)"/>
<circle cx="14.3" cy="38.9" r="1.28" fill="url(#gM)"/>
<circle cx="8.5" cy="57.1" r="2.41" fill="url(#gM)"/>
<circle cx="18.0" cy="57.9" r="1.60" fill="url(#gM)"/>
<circle cx="21.6" cy="54.9" r="1.60" fill="url(#gM)"/>
<circle cx="12.9" cy="59.3" r="1.28" fill="url(#gM)"/>
<circle cx="14.3" cy="51.3" r="1.28" fill="url(#gM)"/>
<circle cx="18.7" cy="53.5" r="1.28" fill="url(#gM)"/>
<circle cx="27.4" cy="51.3" r="1.28" fill="url(#gM)"/>
<circle cx="35.5" cy="54.2" r="1.28" fill="url(#gM)"/>
<circle cx="36.2" cy="59.3" r="1.60" fill="url(#gM)"/>
<circle cx="47.9" cy="51.3" r="1.28" fill="url(#gM)"/>
<circle cx="51.5" cy="55.7" r="2.25" fill="url(#gM)"/>
<circle cx="62.5" cy="62.2" r="2.25" fill="url(#gM)"/>
<circle cx="60.3" cy="60.0" r="1.60" fill="url(#gM)"/>
<circle cx="68.3" cy="59.3" r="1.28" fill="url(#gM)"/>
<circle cx="68.3" cy="63.7" r="1.60" fill="url(#gM)"/>
<circle cx="17.2" cy="64.4" r="1.60" fill="url(#gM)"/>
<circle cx="23.8" cy="63.7" r="1.60" fill="url(#gM)"/>
<circle cx="30.4" cy="63.7" r="1.28" fill="url(#gM)"/>
<circle cx="19.4" cy="70.3" r="2.89" fill="url(#gM)"/>
<circle cx="13.6" cy="76.1" r="2.41" fill="url(#gM)"/>
<circle cx="16.5" cy="80.5" r="1.60" fill="url(#gM)"/>
<circle cx="23.1" cy="75.4" r="1.28" fill="url(#gM)"/>
<circle cx="34.7" cy="66.6" r="1.60" fill="url(#gM)"/>
<circle cx="38.4" cy="66.6" r="1.28" fill="url(#gM)"/>
<circle cx="37.7" cy="71.0" r="1.28" fill="url(#gM)"/>
<circle cx="33.3" cy="71.0" r="1.60" fill="url(#gM)"/>
<circle cx="47.9" cy="67.3" r="1.93" fill="url(#gM)"/>
<circle cx="52.2" cy="74.6" r="1.93" fill="url(#gM)"/>
<circle cx="59.5" cy="72.5" r="1.60" fill="url(#gM)"/>
<circle cx="64.6" cy="68.1" r="1.93" fill="url(#gM)"/>
<circle cx="68.3" cy="72.5" r="1.60" fill="url(#gM)"/>
<circle cx="43.5" cy="74.6" r="1.28" fill="url(#gM)"/>
<circle cx="39.1" cy="76.8" r="1.93" fill="url(#gM)"/>
<circle cx="35.5" cy="78.3" r="1.28" fill="url(#gM)"/>
<circle cx="28.9" cy="75.4" r="1.28" fill="url(#gM)"/>
<circle cx="8.5" cy="87.0" r="2.41" fill="url(#gM)"/>
<circle cx="10.7" cy="84.9" r="1.60" fill="url(#gM)"/>
<circle cx="21.6" cy="85.6" r="2.41" fill="url(#gM)"/>
<circle cx="23.1" cy="87.0" r="1.93" fill="url(#gM)"/>
<circle cx="18.0" cy="90.7" r="1.93" fill="url(#gM)"/>
<circle cx="28.9" cy="84.1" r="1.60" fill="url(#gM)"/>
<circle cx="34.7" cy="87.0" r="1.60" fill="url(#gM)"/>
<circle cx="38.4" cy="92.9" r="1.93" fill="url(#gM)"/>
<circle cx="43.5" cy="85.6" r="1.60" fill="url(#gM)"/>
<circle cx="46.4" cy="81.2" r="1.28" fill="url(#gM)"/>
<circle cx="64.6" cy="81.2" r="1.93" fill="url(#gM)"/>
<circle cx="13.6" cy="90.0" r="1.28" fill="url(#gM)"/>
<circle cx="50.1" cy="87.0" r="1.28" fill="url(#gM)"/>
<circle cx="32.5" cy="81.9" r="1.28" fill="url(#gM)"/>
<circle cx="40.6" cy="40.7" r="0.62" fill="url(#gM)"/>
<circle cx="57.7" cy="78.2" r="0.60" fill="url(#gM)"/>
<circle cx="37.0" cy="31.1" r="1.07" fill="url(#gM)"/>
<circle cx="42.8" cy="36.3" r="0.90" fill="url(#gM)"/>
<circle cx="32.4" cy="65.2" r="0.58" fill="url(#gM)"/>
<circle cx="43.5" cy="4.2" r="0.58" fill="url(#gM)"/>
<circle cx="66.8" cy="28.8" r="1.04" fill="url(#gM)"/>
<circle cx="22.3" cy="52.2" r="0.54" fill="url(#gM)"/>
<circle cx="41.5" cy="80.2" r="0.63" fill="url(#gM)"/>
<circle cx="58.1" cy="62.5" r="1.01" fill="url(#gM)"/>
<circle cx="10.6" cy="53.9" r="0.86" fill="url(#gM)"/>
<circle cx="8.0" cy="73.7" r="0.60" fill="url(#gM)"/>
<circle cx="57.3" cy="90.0" r="0.75" fill="url(#gM)"/>
<circle cx="55.2" cy="45.6" r="0.76" fill="url(#gM)"/>
<circle cx="0.4" cy="67.7" r="0.69" fill="url(#gM)"/>
<circle cx="5.7" cy="42.6" r="0.73" fill="url(#gM)"/>
<circle cx="61.7" cy="64.0" r="0.82" fill="url(#gM)"/>
<circle cx="64.6" cy="49.4" r="0.54" fill="url(#gM)"/>
<circle cx="29.9" cy="55.6" r="0.79" fill="url(#gM)"/>
<circle cx="29.5" cy="3.4" r="0.82" fill="url(#gM)"/>
<circle cx="3.6" cy="8.8" r="0.77" fill="url(#gM)"/>
<circle cx="70.5" cy="46.1" r="0.76" fill="url(#gM)"/>
<circle cx="63.8" cy="66.3" r="0.89" fill="url(#gM)"/>
<circle cx="64.6" cy="14.6" r="0.87" fill="url(#gM)"/>
<circle cx="48.8" cy="61.0" r="1.00" fill="url(#gM)"/>
<circle cx="34.0" cy="76.7" r="0.76" fill="url(#gM)"/>
<circle cx="61.0" cy="68.2" r="0.53" fill="url(#gM)"/>
<circle cx="64.8" cy="72.8" r="1.09" fill="url(#gM)"/>
<circle cx="20.3" cy="63.7" r="0.86" fill="url(#gM)"/>
<circle cx="65.3" cy="18.2" r="0.55" fill="url(#gM)"/>
<circle cx="13.8" cy="19.7" r="1.10" fill="url(#gM)"/>
<circle cx="63.0" cy="44.1" r="0.92" fill="url(#gM)"/>
<circle cx="39.4" cy="25.3" r="0.88" fill="url(#gM)"/>
<circle cx="44.5" cy="19.9" r="1.02" fill="url(#gM)"/>
<circle cx="61.9" cy="62.0" r="0.75" fill="url(#gM)"/>
<circle cx="32.4" cy="72.1" r="0.67" fill="url(#gM)"/>
<circle cx="49.3" cy="48.1" r="0.66" fill="url(#gM)"/>
<circle cx="34.1" cy="65.5" r="0.98" fill="url(#gM)"/>
<circle cx="28.8" cy="75.4" r="1.10" fill="url(#gM)"/>
<circle cx="59.4" cy="1.6" r="0.69" fill="url(#gM)"/>
<circle cx="52.6" cy="58.0" r="0.61" fill="url(#gM)"/>
<circle cx="66.4" cy="20.9" r="1.07" fill="url(#gM)"/>
<circle cx="13.6" cy="54.3" r="1.08" fill="url(#gM)"/>
<circle cx="61.7" cy="1.5" r="1.01" fill="url(#gM)"/>
<circle cx="54.2" cy="90.7" r="0.53" fill="url(#gM)"/>
<circle cx="49.2" cy="4.8" r="1.02" fill="url(#gM)"/>
<circle cx="28.2" cy="57.1" r="0.59" fill="url(#gM)"/>
<circle cx="43.0" cy="82.1" r="0.52" fill="url(#gM)"/>
<circle cx="65.4" cy="48.6" r="0.74" fill="url(#gM)"/>
<circle cx="41.0" cy="33.0" r="1.02" fill="url(#gM)"/>
<circle cx="70.0" cy="16.6" r="0.99" fill="url(#gM)"/>
<circle cx="24.4" cy="53.1" r="0.62" fill="url(#gM)"/>
<circle cx="13.3" cy="60.2" r="1.08" fill="url(#gM)"/>
<circle cx="56.3" cy="34.2" r="0.53" fill="url(#gM)"/>
<circle cx="3.0" cy="56.8" r="0.71" fill="url(#gM)"/>
<circle cx="53.4" cy="44.5" r="1.03" fill="url(#gM)"/>
<circle cx="12.3" cy="83.6" r="0.75" fill="url(#gM)"/>
<circle cx="36.4" cy="84.5" r="0.56" fill="url(#gM)"/>
<circle cx="68.1" cy="11.2" r="0.93" fill="url(#gM)"/>
<circle cx="44.0" cy="57.7" r="0.51" fill="url(#gM)"/>
<circle cx="11.2" cy="64.3" r="0.56" fill="url(#gM)"/>
<circle cx="45.2" cy="45.1" r="0.74" fill="url(#gM)"/>
<circle cx="13.4" cy="81.9" r="0.54" fill="url(#gM)"/>
<circle cx="24.0" cy="87.3" r="0.72" fill="url(#gM)"/>
<circle cx="44.4" cy="93.7" r="0.62" fill="url(#gM)"/>
<circle cx="20.5" cy="78.0" r="0.65" fill="url(#gM)"/>
<circle cx="43.6" cy="55.5" r="0.83" fill="url(#gM)"/>
<circle cx="2.2" cy="0.5" r="0.53" fill="url(#gM)"/>
<circle cx="54.7" cy="93.0" r="0.73" fill="url(#gM)"/>
<circle cx="44.3" cy="85.6" r="0.53" fill="url(#gM)"/>
<circle cx="2.5" cy="59.6" r="0.93" fill="url(#gM)"/>
<circle cx="12.5" cy="43.8" r="0.55" fill="url(#gM)"/>
<circle cx="37.3" cy="13.4" r="0.57" fill="url(#gM)"/>
<circle cx="50.1" cy="76.6" r="0.85" fill="url(#gM)"/>
<circle cx="45.1" cy="71.6" r="0.81" fill="url(#gM)"/>
<circle cx="45.9" cy="50.9" r="0.68" fill="url(#gM)"/>
<circle cx="26.6" cy="63.6" r="0.68" fill="url(#gM)"/>
<circle cx="60.4" cy="16.7" r="0.52" fill="url(#gM)"/>
<circle cx="58.6" cy="73.5" r="0.90" fill="url(#gM)"/>
<circle cx="11.0" cy="46.5" r="0.78" fill="url(#gM)"/>
<circle cx="22.5" cy="89.2" r="0.77" fill="url(#gM)"/>
<circle cx="47.8" cy="92.1" r="0.73" fill="url(#gM)"/>
<circle cx="55.1" cy="74.8" r="0.93" fill="url(#gM)"/>
<circle cx="9.1" cy="94.2" r="0.76" fill="url(#gM)"/>
<circle cx="46.8" cy="79.3" r="0.93" fill="url(#gM)"/>
<circle cx="54.2" cy="38.0" r="0.62" fill="url(#gM)"/>
<circle cx="67.5" cy="22.9" r="0.73" fill="url(#gM)"/>
<circle cx="61.3" cy="56.8" r="0.99" fill="url(#gM)"/>
<circle cx="27.4" cy="91.2" r="0.82" fill="url(#gM)"/>
<circle cx="53.2" cy="81.1" r="0.58" fill="url(#gM)"/>
<circle cx="14.9" cy="1.1" r="0.60" fill="url(#gM)"/>
<circle cx="41.8" cy="14.7" r="0.71" fill="url(#gM)"/>
<circle cx="0.3" cy="64.0" r="0.97" fill="url(#gM)"/>
<circle cx="32.6" cy="83.1" r="1.00" fill="url(#gM)"/>
<circle cx="62.3" cy="7.0" r="0.55" fill="url(#gM)"/>
<circle cx="0.5" cy="78.5" r="0.55" fill="url(#gM)"/>
<circle cx="40.5" cy="85.4" r="0.55" fill="url(#gM)"/>
<circle cx="67.0" cy="71.5" r="0.55" fill="url(#gM)"/>
<circle cx="57.9" cy="37.4" r="0.55" fill="url(#gM)"/>
<circle cx="70.8" cy="60.1" r="0.55" fill="url(#gM)"/>
<circle cx="49.4" cy="28.4" r="0.55" fill="url(#gM)"/>
<circle cx="64.5" cy="56.8" r="0.55" fill="url(#gM)"/>
<circle cx="11.4" cy="74.0" r="0.55" fill="url(#gM)"/>
<circle cx="40.1" cy="79.2" r="0.55" fill="url(#gM)"/>
<circle cx="11.7" cy="94.2" r="0.55" fill="url(#gM)"/>
<circle cx="54.5" cy="2.7" r="0.55" fill="url(#gM)"/>
<circle cx="3.0" cy="23.3" r="0.55" fill="url(#gM)"/>
<circle cx="48.2" cy="43.1" r="0.55" fill="url(#gM)"/>
<circle cx="29.9" cy="64.6" r="0.55" fill="url(#gM)"/>
<circle cx="47.2" cy="22.7" r="0.55" fill="url(#gM)"/>
<circle cx="68.8" cy="45.0" r="0.55" fill="url(#gM)"/>
<circle cx="49.6" cy="56.8" r="0.55" fill="url(#gM)"/>
<circle cx="25.5" cy="69.0" r="0.55" fill="url(#gM)"/>
<circle cx="5.0" cy="55.2" r="0.55" fill="url(#gM)"/>
<circle cx="41.6" cy="68.8" r="0.55" fill="url(#gM)"/>
<circle cx="52.1" cy="15.3" r="0.55" fill="url(#gM)"/>
<circle cx="14.4" cy="89.8" r="0.55" fill="url(#gM)"/>
<circle cx="34.9" cy="83.2" r="0.55" fill="url(#gM)"/>
<circle cx="49.4" cy="23.3" r="0.55" fill="url(#gM)"/>
<circle cx="13.5" cy="40.2" r="0.55" fill="url(#gM)"/>
<circle cx="59.3" cy="45.7" r="0.55" fill="url(#gM)"/>
<circle cx="53.6" cy="76.7" r="0.55" fill="url(#gM)"/>
<circle cx="46.7" cy="70.2" r="0.55" fill="url(#gM)"/>
<circle cx="37.1" cy="75.6" r="0.55" fill="url(#gM)"/>
<circle cx="51.1" cy="60.6" r="0.55" fill="url(#gM)"/>
<circle cx="42.9" cy="87.2" r="0.55" fill="url(#gM)"/>
<circle cx="49.0" cy="85.6" r="0.55" fill="url(#gM)"/>
<circle cx="23.3" cy="81.8" r="0.55" fill="url(#gM)"/>
<circle cx="41.3" cy="87.9" r="0.55" fill="url(#gM)"/>
<circle cx="56.9" cy="23.1" r="0.55" fill="url(#gM)"/>
<circle cx="36.1" cy="40.1" r="0.55" fill="url(#gM)"/>
<circle cx="24.9" cy="84.6" r="0.55" fill="url(#gM)"/>
<circle cx="60.1" cy="77.3" r="0.55" fill="url(#gM)"/>
<circle cx="65.6" cy="71.7" r="0.55" fill="url(#gM)"/>
<circle cx="1.6" cy="56.7" r="0.55" fill="url(#gM)"/>
<circle cx="33.8" cy="6.3" r="0.55" fill="url(#gM)"/>
<circle cx="46.0" cy="25.6" r="0.55" fill="url(#gM)"/>
<circle cx="58.4" cy="85.2" r="0.55" fill="url(#gM)"/>
<circle cx="41.0" cy="34.3" r="0.55" fill="url(#gM)"/>
<circle cx="33.0" cy="31.6" r="0.55" fill="url(#gM)"/>
<circle cx="18.5" cy="94.5" r="0.55" fill="url(#gM)"/>
<circle cx="24.7" cy="93.2" r="0.55" fill="url(#gM)"/>
<circle cx="28.8" cy="26.1" r="0.55" fill="url(#gM)"/>
<circle cx="39.4" cy="16.1" r="0.55" fill="url(#gM)"/>
<circle cx="53.9" cy="72.5" r="0.55" fill="url(#gM)"/>
</g></svg>
<rect x="246.48" y="422.60" width="12.8" height="1.4" fill="#d8d8d8"/>
<rect x="301.78" y="415.10" width="13.40" height="10.7" fill="#f2f550"/>
<text transform="translate(303.88,423.70) scale(0.719,1)" font-size="10" font-family="Liberation Sans, sans-serif" fill="#000" stroke="#000" stroke-width="0.6">0</text>
<text transform="translate(307.88,423.70) scale(0.719,1)" font-size="10" font-family="Liberation Sans, sans-serif" fill="#000" stroke="#000" stroke-width="0.6">.</text>
<polygon points="312.22,416.54 312.87,416.54 312.87,423.70 312.22,423.70 312.22,418.55 310.71,419.40 310.71,418.55 311.71,417.85 312.11,416.54" fill="#000" stroke="#000" stroke-width="0.6"/>
<svg x="318.04" y="331.00" width="70.90" height="94.80" overflow="hidden"><g filter="url(#lumpy)">
<ellipse cx="29.1" cy="14.1" rx="5.87" ry="8.01" fill="url(#gY)" transform="rotate(20 29.1 14.1)"/>
<circle cx="30.6" cy="5.3" r="2.14" fill="url(#gW)"/>
<circle cx="30.6" cy="1.3" r="1.42" fill="url(#gW)"/>
<circle cx="10.9" cy="4.6" r="1.42" fill="url(#gW)"/>
<circle cx="45.9" cy="6.1" r="5.34" fill="url(#gY)"/>
<circle cx="53.9" cy="7.5" r="4.45" fill="url(#gY)"/>
<circle cx="59.8" cy="2.4" r="4.45" fill="url(#gY)"/>
<circle cx="67.8" cy="6.1" r="3.56" fill="url(#gY)"/>
<circle cx="54.7" cy="14.1" r="3.56" fill="url(#gY)"/>
<circle cx="56.9" cy="19.2" r="3.20" fill="url(#gY)"/>
<circle cx="66.3" cy="19.9" r="4.45" fill="url(#gY)"/>
<circle cx="64.9" cy="26.5" r="3.56" fill="url(#gY)"/>
<circle cx="60.1" cy="26.5" r="2.67" fill="url(#gW)"/>
<circle cx="62.0" cy="30.9" r="2.14" fill="url(#gW)"/>
<circle cx="67.8" cy="28.7" r="3.20" fill="url(#gY)"/>
<circle cx="62.7" cy="14.1" r="1.42" fill="url(#gW)"/>
<circle cx="40.1" cy="28.7" r="4.45" fill="url(#gY)"/>
<ellipse cx="49.6" cy="36.7" rx="4.27" ry="2.85" fill="url(#gY)" transform="rotate(-60 49.6 36.7)"/>
<circle cx="47.4" cy="41.1" r="2.49" fill="url(#gW)"/>
<circle cx="9.4" cy="24.3" r="3.56" fill="url(#gY)"/>
<circle cx="8.7" cy="22.8" r="1.78" fill="url(#gW)"/>
<circle cx="4.3" cy="28.0" r="3.20" fill="url(#gW)"/>
<circle cx="1.1" cy="32.3" r="3.20" fill="url(#gY)"/>
<circle cx="1.1" cy="41.1" r="2.67" fill="url(#gY)"/>
<circle cx="14.6" cy="28.0" r="3.56" fill="url(#gY)"/>
<circle cx="11.6" cy="33.1" r="3.20" fill="url(#gY)"/>
<circle cx="16.7" cy="38.2" r="5.70" fill="url(#gY)"/>
<circle cx="8.0" cy="34.5" r="2.14" fill="url(#gW)"/>
<circle cx="20.4" cy="43.3" r="2.67" fill="url(#gY)"/>
<circle cx="8.0" cy="46.2" r="3.20" fill="url(#gY)"/>
<circle cx="14.6" cy="46.2" r="2.67" fill="url(#gW)"/>
<circle cx="9.4" cy="51.3" r="2.67" fill="url(#gW)"/>
<ellipse cx="30.6" cy="44.0" rx="7.48" ry="6.76" fill="url(#gY)" transform="rotate(0 30.6 44.0)"/>
<circle cx="35.7" cy="38.9" r="4.45" fill="url(#gY)"/>
<circle cx="26.2" cy="47.6" r="3.56" fill="url(#gY)"/>
<circle cx="10.9" cy="57.9" r="3.56" fill="url(#gY)"/>
<circle cx="16.0" cy="60.0" r="2.14" fill="url(#gW)"/>
<circle cx="15.3" cy="63.7" r="1.78" fill="url(#gW)"/>
<circle cx="24.8" cy="60.8" r="3.20" fill="url(#gY)"/>
<circle cx="29.1" cy="57.9" r="3.20" fill="url(#gY)"/>
<circle cx="35.7" cy="57.1" r="2.49" fill="url(#gW)"/>
<circle cx="41.5" cy="57.1" r="2.85" fill="url(#gW)"/>
<circle cx="18.9" cy="54.2" r="0.75" fill="url(#gW)"/>
<circle cx="21.8" cy="67.3" r="2.67" fill="url(#gW)"/>
<circle cx="20.4" cy="71.7" r="2.49" fill="url(#gW)"/>
<circle cx="24.0" cy="72.5" r="2.67" fill="url(#gY)"/>
<circle cx="31.3" cy="71.0" r="4.98" fill="url(#gY)"/>
<circle cx="51.8" cy="66.9" r="5.34" fill="url(#gY)"/>
<circle cx="48.1" cy="68.1" r="3.56" fill="url(#gY)"/>
<circle cx="59.8" cy="64.4" r="4.45" fill="url(#gY)"/>
<circle cx="64.2" cy="69.8" r="3.56" fill="url(#gY)"/>
<circle cx="68.5" cy="72.5" r="2.67" fill="url(#gY)"/>
<circle cx="61.2" cy="75.4" r="2.14" fill="url(#gW)"/>
<circle cx="22.6" cy="81.9" r="3.56" fill="url(#gY)"/>
<circle cx="29.1" cy="81.2" r="3.20" fill="url(#gY)"/>
<circle cx="28.4" cy="85.6" r="2.14" fill="url(#gW)"/>
<circle cx="43.7" cy="80.5" r="3.20" fill="url(#gY)"/>
<circle cx="27.0" cy="93.2" r="2.67" fill="url(#gY)"/>
<circle cx="35.7" cy="91.4" r="3.92" fill="url(#gY)"/>
<circle cx="43.7" cy="91.7" r="3.20" fill="url(#gY)"/>
<circle cx="10.2" cy="19.2" r="0.75" fill="url(#gW)"/>
<circle cx="58.3" cy="14.1" r="0.75" fill="url(#gW)"/>
<circle cx="15.3" cy="63.7" r="0.75" fill="url(#gW)"/>
<circle cx="59.0" cy="60.8" r="0.75" fill="url(#gW)"/>
</g></svg>
<rect x="320.24" y="422.60" width="12.8" height="1.4" fill="#d8d8d8"/>
<rect x="375.54" y="415.10" width="13.40" height="10.7" fill="#f2f550"/>
<text transform="translate(377.64,423.70) scale(0.719,1)" font-size="10" font-family="Liberation Sans, sans-serif" fill="#000" stroke="#000" stroke-width="0.6">7</text>
<text transform="translate(381.64,423.70) scale(0.719,1)" font-size="10" font-family="Liberation Sans, sans-serif" fill="#000" stroke="#000" stroke-width="0.6">.</text>
<text transform="translate(383.64,423.70) scale(0.719,1)" font-size="10" font-family="Liberation Sans, sans-serif" fill="#000" stroke="#000" stroke-width="0.6">2</text>
<svg x="391.80" y="331.00" width="70.90" height="94.80" overflow="hidden"><g filter="url(#lumpy)">
<circle cx="10.9" cy="9.0" r="0.90" fill="url(#gB)"/>
<circle cx="26.2" cy="11.9" r="0.90" fill="url(#gB)"/>
<circle cx="29.1" cy="10.9" r="0.90" fill="url(#gB)"/>
<circle cx="34.9" cy="11.9" r="0.90" fill="url(#gB)"/>
<circle cx="4.3" cy="34.8" r="0.90" fill="url(#gB)"/>
<circle cx="29.8" cy="33.8" r="0.90" fill="url(#gB)"/>
<circle cx="18.2" cy="40.6" r="0.90" fill="url(#gB)"/>
<circle cx="29.1" cy="42.5" r="0.90" fill="url(#gB)"/>
<circle cx="40.8" cy="57.6" r="0.90" fill="url(#gB)"/>
<circle cx="45.9" cy="64.4" r="0.90" fill="url(#gB)"/>
<circle cx="47.3" cy="69.5" r="0.90" fill="url(#gB)"/>
<circle cx="61.6" cy="66.2" r="0.90" fill="url(#gB)"/>
<circle cx="69.7" cy="33.1" r="0.90" fill="url(#gB)"/>
<circle cx="13.8" cy="2.7" r="0.75" fill="url(#gB)"/>
<circle cx="30.6" cy="3.9" r="0.75" fill="url(#gB)"/>
<circle cx="25.2" cy="10.9" r="0.75" fill="url(#gB)"/>
<circle cx="9.7" cy="18.2" r="0.75" fill="url(#gB)"/>
<circle cx="55.8" cy="25.3" r="0.75" fill="url(#gB)"/>
<circle cx="14.5" cy="31.6" r="0.75" fill="url(#gB)"/>
<circle cx="10.9" cy="34.8" r="0.75" fill="url(#gB)"/>
<circle cx="26.6" cy="36.9" r="0.75" fill="url(#gB)"/>
<circle cx="11.6" cy="39.2" r="0.75" fill="url(#gB)"/>
<circle cx="30.1" cy="39.6" r="0.75" fill="url(#gB)"/>
<circle cx="5.8" cy="50.3" r="0.75" fill="url(#gB)"/>
<circle cx="10.1" cy="48.8" r="0.75" fill="url(#gB)"/>
<circle cx="26.9" cy="50.3" r="0.75" fill="url(#gB)"/>
<circle cx="31.3" cy="51.3" r="0.75" fill="url(#gB)"/>
<circle cx="21.4" cy="53.8" r="0.75" fill="url(#gB)"/>
<circle cx="12.0" cy="53.8" r="0.75" fill="url(#gB)"/>
<circle cx="29.1" cy="53.2" r="0.75" fill="url(#gB)"/>
<circle cx="13.5" cy="59.0" r="0.75" fill="url(#gB)"/>
<circle cx="25.5" cy="59.6" r="0.75" fill="url(#gB)"/>
<circle cx="59.0" cy="63.0" r="0.75" fill="url(#gB)"/>
</g></svg>
<rect x="394.00" y="422.60" width="12.8" height="1.4" fill="#d8d8d8"/>
<rect x="449.30" y="415.10" width="13.40" height="10.7" fill="#f2f550"/>
<text transform="translate(451.40,423.70) scale(0.719,1)" font-size="10" font-family="Liberation Sans, sans-serif" fill="#000" stroke="#000" stroke-width="0.6">0</text>
<text transform="translate(455.40,423.70) scale(0.719,1)" font-size="10" font-family="Liberation Sans, sans-serif" fill="#000" stroke="#000" stroke-width="0.6">.</text>
<text transform="translate(457.40,423.70) scale(0.719,1)" font-size="10" font-family="Liberation Sans, sans-serif" fill="#000" stroke="#000" stroke-width="0.6">0</text>
<svg x="465.56" y="331.00" width="70.90" height="94.80" overflow="hidden"><g filter="url(#lumpy)">
<circle cx="60.9" cy="19.5" r="0.75" fill="url(#gM)"/>
<circle cx="53.0" cy="35.1" r="0.75" fill="url(#gM)"/>
</g></svg>
<rect x="467.76" y="422.60" width="12.8" height="1.4" fill="#d8d8d8"/>
<rect x="523.06" y="415.10" width="13.40" height="10.7" fill="#f2f550"/>
<text transform="translate(525.16,423.70) scale(0.719,1)" font-size="10" font-family="Liberation Sans, sans-serif" fill="#000" stroke="#000" stroke-width="0.6">0</text>
<text transform="translate(529.16,423.70) scale(0.719,1)" font-size="10" font-family="Liberation Sans, sans-serif" fill="#000" stroke="#000" stroke-width="0.6">.</text>
<text transform="translate(531.16,423.70) scale(0.719,1)" font-size="10" font-family="Liberation Sans, sans-serif" fill="#000" stroke="#000" stroke-width="0.6">0</text>
<svg x="539.32" y="331.00" width="70.90" height="94.80" overflow="hidden"><g filter="url(#lumpy)">
<ellipse cx="57.3" cy="30.1" rx="6.93" ry="5.11" fill="url(#gY)" transform="rotate(15 57.3 30.1)"/>
<ellipse cx="67.5" cy="31.3" rx="2.74" ry="1.64" fill="url(#gW)" transform="rotate(-35 67.5 31.3)"/>
<ellipse cx="62.1" cy="40.1" rx="5.47" ry="6.02" fill="url(#gY)" transform="rotate(0 62.1 40.1)"/>
<circle cx="69.3" cy="51.3" r="2.37" fill="url(#gY)"/>
<ellipse cx="60.2" cy="57.9" rx="9.12" ry="6.93" fill="url(#gY)" transform="rotate(0 60.2 57.9)"/>
<circle cx="63.9" cy="56.4" r="4.56" fill="url(#gY)"/>
<circle cx="57.3" cy="55.7" r="4.01" fill="url(#gY)"/>
<ellipse cx="9.2" cy="56.4" rx="10.94" ry="10.58" fill="url(#gY)" transform="rotate(0 9.2 56.4)"/>
<circle cx="12.8" cy="49.8" r="6.38" fill="url(#gY)"/>
<circle cx="5.5" cy="52.0" r="4.56" fill="url(#gY)"/>
<circle cx="11.4" cy="60.8" r="5.47" fill="url(#gY)"/>
<circle cx="69.4" cy="71.0" r="2.01" fill="url(#gY)"/>
<ellipse cx="9.2" cy="81.2" rx="6.38" ry="10.94" fill="url(#gY)" transform="rotate(-25 9.2 81.2)"/>
<ellipse cx="27.4" cy="81.2" rx="8.75" ry="8.21" fill="url(#gY)" transform="rotate(0 27.4 81.2)"/>
<ellipse cx="28.9" cy="74.6" rx="2.37" ry="1.82" fill="url(#gW)" transform="rotate(-30 28.9 74.6)"/>
<ellipse cx="43.5" cy="87.8" rx="8.21" ry="7.30" fill="url(#gY)" transform="rotate(0 43.5 87.8)"/>
<ellipse cx="42.0" cy="93.2" rx="2.19" ry="1.46" fill="url(#gW)" transform="rotate(0 42.0 93.2)"/>
<ellipse cx="36.2" cy="94.0" rx="6.38" ry="2.55" fill="url(#gY)" transform="rotate(0 36.2 94.0)"/>
<ellipse cx="6.2" cy="91.7" rx="5.47" ry="2.19" fill="url(#gY)" transform="rotate(0 6.2 91.7)"/>
</g></svg>
<rect x="541.52" y="422.60" width="12.8" height="1.4" fill="#d8d8d8"/>
<rect x="596.82" y="415.10" width="13.40" height="10.7" fill="#f2f550"/>
<text transform="translate(598.92,423.70) scale(0.719,1)" font-size="10" font-family="Liberation Sans, sans-serif" fill="#000" stroke="#000" stroke-width="0.6">9</text>
<text transform="translate(602.92,423.70) scale(0.719,1)" font-size="10" font-family="Liberation Sans, sans-serif" fill="#000" stroke="#000" stroke-width="0.6">.</text>
<text transform="translate(604.92,423.70) scale(0.719,1)" font-size="10" font-family="Liberation Sans, sans-serif" fill="#000" stroke="#000" stroke-width="0.6">7</text>
<svg x="613.08" y="331.00" width="70.90" height="94.80" overflow="hidden"><g filter="url(#lumpy)">
<circle cx="6.5" cy="3.1" r="2.08" fill="url(#gB)"/>
<ellipse cx="29.1" cy="1.7" rx="4.44" ry="3.05" fill="url(#gY)" transform="rotate(0 29.1 1.7)"/>
<circle cx="29.8" cy="7.5" r="2.08" fill="url(#gB)"/>
<circle cx="39.3" cy="6.1" r="3.47" fill="url(#gY)"/>
<circle cx="36.4" cy="10.9" r="2.49" fill="url(#gB)"/>
<circle cx="64.1" cy="1.7" r="2.49" fill="url(#gB)"/>
<circle cx="54.6" cy="6.1" r="1.39" fill="url(#gB)"/>
<circle cx="48.1" cy="3.9" r="0.88" fill="url(#gB)"/>
<circle cx="42.2" cy="6.1" r="1.39" fill="url(#gB)"/>
<circle cx="23.3" cy="13.4" r="4.16" fill="url(#gY)"/>
<ellipse cx="14.5" cy="19.9" rx="5.82" ry="3.47" fill="url(#gY)" transform="rotate(-15 14.5 19.9)"/>
<ellipse cx="5.0" cy="17.3" rx="3.47" ry="1.94" fill="url(#gB)" transform="rotate(20 5.0 17.3)"/>
<circle cx="11.6" cy="14.8" r="2.08" fill="url(#gB)"/>
<circle cx="4.3" cy="24.3" r="1.39" fill="url(#gB)"/>
<circle cx="24.0" cy="2.4" r="0.75" fill="url(#gB)"/>
<circle cx="19.6" cy="10.4" r="0.75" fill="url(#gB)"/>
<circle cx="40.8" cy="10.4" r="0.75" fill="url(#gB)"/>
<circle cx="32.7" cy="18.5" r="1.66" fill="url(#gB)"/>
<ellipse cx="46.6" cy="17.3" rx="5.27" ry="4.16" fill="url(#gY)" transform="rotate(-30 46.6 17.3)"/>
<circle cx="48.8" cy="17.0" r="1.39" fill="url(#gB)"/>
<circle cx="62.7" cy="17.7" r="0.97" fill="url(#gB)"/>
<circle cx="43.7" cy="22.8" r="0.75" fill="url(#gB)"/>
<ellipse cx="37.1" cy="28.7" rx="2.22" ry="3.05" fill="url(#gB)" transform="rotate(0 37.1 28.7)"/>
<circle cx="26.9" cy="30.9" r="0.88" fill="url(#gB)"/>
<circle cx="6.5" cy="31.6" r="1.94" fill="url(#gB)"/>
<circle cx="7.2" cy="30.9" r="0.88" fill="url(#gB)"/>
<circle cx="13.8" cy="33.1" r="1.25" fill="url(#gB)"/>
<circle cx="68.5" cy="30.9" r="1.80" fill="url(#gB)"/>
<circle cx="58.0" cy="35.2" r="1.94" fill="url(#gB)"/>
<circle cx="69.2" cy="38.2" r="1.94" fill="url(#gB)"/>
<ellipse cx="25.5" cy="37.7" rx="2.22" ry="2.77" fill="url(#gB)" transform="rotate(0 25.5 37.7)"/>
<circle cx="32.7" cy="40.8" r="3.47" fill="url(#gY)"/>
<circle cx="36.4" cy="45.9" r="1.80" fill="url(#gB)"/>
<circle cx="38.6" cy="37.7" r="0.88" fill="url(#gB)"/>
<circle cx="34.2" cy="36.7" r="0.75" fill="url(#gB)"/>
<ellipse cx="51.0" cy="41.8" rx="2.36" ry="3.47" fill="url(#gB)" transform="rotate(0 51.0 41.8)"/>
<circle cx="55.4" cy="41.5" r="1.94" fill="url(#gB)"/>
<circle cx="56.1" cy="48.8" r="1.94" fill="url(#gB)"/>
<circle cx="53.2" cy="39.6" r="0.75" fill="url(#gB)"/>
<circle cx="13.8" cy="43.3" r="1.39" fill="url(#gB)"/>
<circle cx="8.7" cy="46.2" r="0.88" fill="url(#gB)"/>
<circle cx="18.9" cy="45.5" r="1.11" fill="url(#gB)"/>
<circle cx="26.2" cy="45.0" r="1.11" fill="url(#gB)"/>
<circle cx="26.2" cy="49.8" r="3.05" fill="url(#gY)"/>
<circle cx="43.7" cy="50.6" r="0.97" fill="url(#gB)"/>
<ellipse cx="28.4" cy="60.0" rx="3.05" ry="3.47" fill="url(#gY)" transform="rotate(0 28.4 60.0)"/>
<circle cx="29.1" cy="56.4" r="1.11" fill="url(#gB)"/>
<circle cx="34.2" cy="63.0" r="0.88" fill="url(#gB)"/>
<circle cx="51.7" cy="58.6" r="1.11" fill="url(#gB)"/>
<circle cx="65.6" cy="63.0" r="1.39" fill="url(#gB)"/>
<ellipse cx="40.8" cy="72.9" rx="3.47" ry="2.08" fill="url(#gB)" transform="rotate(15 40.8 72.9)"/>
<circle cx="21.5" cy="73.9" r="2.49" fill="url(#gB)"/>
<circle cx="54.6" cy="69.5" r="1.11" fill="url(#gB)"/>
<circle cx="53.9" cy="65.9" r="0.75" fill="url(#gB)"/>
<circle cx="2.8" cy="91.4" r="1.66" fill="url(#gY)"/>
<circle cx="34.9" cy="91.7" r="1.39" fill="url(#gB)"/>
<circle cx="39.3" cy="90.7" r="1.11" fill="url(#gB)"/>
<circle cx="68.5" cy="54.9" r="0.88" fill="url(#gB)"/>
<circle cx="17.4" cy="92.9" r="0.75" fill="url(#gB)"/>
<circle cx="2.8" cy="11.9" r="0.75" fill="url(#gB)"/>
<circle cx="32.7" cy="49.1" r="0.75" fill="url(#gB)"/>
<circle cx="14.5" cy="50.6" r="0.75" fill="url(#gB)"/>
<circle cx="13.8" cy="75.4" r="0.75" fill="url(#gB)"/>
<circle cx="6.5" cy="81.2" r="0.75" fill="url(#gB)"/>
<circle cx="67.0" cy="52.8" r="0.75" fill="url(#gB)"/>
<circle cx="69.2" cy="8.3" r="0.75" fill="url(#gB)"/>
<circle cx="64.1" cy="46.2" r="0.75" fill="url(#gB)"/>
<circle cx="7.9" cy="25.8" r="0.75" fill="url(#gB)"/>
</g></svg>
<rect x="615.28" y="422.60" width="12.8" height="1.4" fill="#d8d8d8"/>
<rect x="670.58" y="415.10" width="13.40" height="10.7" fill="#f2f550"/>
<text transform="translate(672.68,423.70) scale(0.719,1)" font-size="10" font-family="Liberation Sans, sans-serif" fill="#000" stroke="#000" stroke-width="0.6">9</text>
<text transform="translate(676.68,423.70) scale(0.719,1)" font-size="10" font-family="Liberation Sans, sans-serif" fill="#000" stroke="#000" stroke-width="0.6">.</text>
<text transform="translate(678.68,423.70) scale(0.719,1)" font-size="10" font-family="Liberation Sans, sans-serif" fill="#000" stroke="#000" stroke-width="0.6">3</text>
<text x="-0.4" y="454.0" font-size="16.2" font-family="Liberation Sans, sans-serif" fill="#000">B</text>
<text x="134.5" y="453.8" font-size="12.5" font-weight="bold" text-anchor="middle" font-family="Liberation Sans, sans-serif" fill="#000">INS+GCG-</text>
<text transform="translate(8.8,547.3) rotate(-90)" font-size="10" font-weight="bold" text-anchor="middle" font-family="Liberation Sans, sans-serif" fill="#000">% of total EO count</text>
<line x1="28.3" y1="609.00" x2="33.6" y2="609.00" stroke="#000" stroke-width="1.1"/>
<text x="21.06" y="612.40" font-size="9.6" font-family="Liberation Sans, sans-serif" fill="#000" stroke="#000" stroke-width="0.55">0</text>
<line x1="28.3" y1="584.30" x2="33.6" y2="584.30" stroke="#000" stroke-width="1.1"/>
<text x="21.06" y="587.70" font-size="9.6" font-family="Liberation Sans, sans-serif" fill="#000" stroke="#000" stroke-width="0.55">0</text>
<polygon points="18.84,580.83 19.71,580.83 19.71,587.70 18.84,587.70 18.84,582.76 16.83,583.57 16.83,582.76 18.17,582.08 18.70,580.83" fill="#000" stroke="#000" stroke-width="0.55"/>
<line x1="28.3" y1="559.60" x2="33.6" y2="559.60" stroke="#000" stroke-width="1.1"/>
<text x="15.72 21.06" y="563.00" font-size="9.6" font-family="Liberation Sans, sans-serif" fill="#000" stroke="#000" stroke-width="0.55">20</text>
<line x1="28.3" y1="534.90" x2="33.6" y2="534.90" stroke="#000" stroke-width="1.1"/>
<text x="15.72 21.06" y="538.30" font-size="9.6" font-family="Liberation Sans, sans-serif" fill="#000" stroke="#000" stroke-width="0.55">30</text>
<line x1="28.3" y1="510.20" x2="33.6" y2="510.20" stroke="#000" stroke-width="1.1"/>
<text x="15.72 21.06" y="513.60" font-size="9.6" font-family="Liberation Sans, sans-serif" fill="#000" stroke="#000" stroke-width="0.55">40</text>
<line x1="28.3" y1="485.50" x2="33.6" y2="485.50" stroke="#000" stroke-width="1.1"/>
<text x="15.72 21.06" y="488.90" font-size="9.6" font-family="Liberation Sans, sans-serif" fill="#000" stroke="#000" stroke-width="0.55">50</text>
<rect x="37.80" y="568.99" width="8.6" height="40.01" fill="#a0a1a4" stroke="#3a3a3a" stroke-width="0.6"/>
<line x1="42.10" y1="549.97" x2="42.10" y2="588.00" stroke="#111" stroke-width="0.8"/>
<line x1="39.90" y1="549.97" x2="44.30" y2="549.97" stroke="#111" stroke-width="0.8"/>
<line x1="39.90" y1="588.00" x2="44.30" y2="588.00" stroke="#111" stroke-width="0.8"/>
<circle cx="42.10" cy="545.77" r="1.3" fill="#000"/>
<circle cx="42.10" cy="549.97" r="1.3" fill="#000"/>
<circle cx="42.10" cy="554.17" r="1.3" fill="#000"/>
<circle cx="42.10" cy="566.76" r="1.3" fill="#000"/>
<circle cx="42.10" cy="581.58" r="1.3" fill="#000"/>
<circle cx="42.10" cy="583.31" r="1.3" fill="#000"/>
<circle cx="42.10" cy="584.79" r="1.3" fill="#000"/>
<circle cx="42.10" cy="598.38" r="1.3" fill="#000"/>
<rect x="50.80" y="577.63" width="8.6" height="31.37" fill="#9b57eb" stroke="#3a3a3a" stroke-width="0.6"/>
<line x1="55.10" y1="570.96" x2="55.10" y2="584.30" stroke="#111" stroke-width="0.8"/>
<line x1="52.90" y1="570.96" x2="57.30" y2="570.96" stroke="#111" stroke-width="0.8"/>
<line x1="52.90" y1="584.30" x2="57.30" y2="584.30" stroke="#111" stroke-width="0.8"/>
<circle cx="55.10" cy="568.74" r="1.3" fill="#000"/>
<circle cx="55.10" cy="575.16" r="1.3" fill="#000"/>
<circle cx="52.10" cy="578.87" r="1.3" fill="#000"/>
<circle cx="58.10" cy="578.87" r="1.3" fill="#000"/>
<circle cx="55.10" cy="586.52" r="1.3" fill="#000"/>
<circle cx="64.90" cy="609.00" r="1.3" fill="#000"/>
<circle cx="66.50" cy="609.00" r="1.3" fill="#000"/>
<circle cx="68.10" cy="609.00" r="1.3" fill="#000"/>
<circle cx="69.70" cy="609.00" r="1.3" fill="#000"/>
<circle cx="71.30" cy="609.00" r="1.3" fill="#000"/>
<line x1="55.10" y1="609.0" x2="55.10" y2="614.0" stroke="#000" stroke-width="1.1"/>
<text x="55.10" y="624.6" font-size="10.2" font-weight="bold" text-anchor="middle" font-family="Liberation Sans, sans-serif" fill="#000">CC</text>
<rect x="85.20" y="539.35" width="8.6" height="69.65" fill="#a0a1a4" stroke="#3a3a3a" stroke-width="0.6"/>
<line x1="89.50" y1="525.51" x2="89.50" y2="553.18" stroke="#111" stroke-width="0.8"/>
<line x1="87.30" y1="525.51" x2="91.70" y2="525.51" stroke="#111" stroke-width="0.8"/>
<line x1="87.30" y1="553.18" x2="91.70" y2="553.18" stroke="#111" stroke-width="0.8"/>
<circle cx="89.50" cy="520.82" r="1.3" fill="#000"/>
<circle cx="89.50" cy="527.24" r="1.3" fill="#000"/>
<circle cx="89.50" cy="529.22" r="1.3" fill="#000"/>
<circle cx="89.50" cy="530.45" r="1.3" fill="#000"/>
<circle cx="89.50" cy="534.41" r="1.3" fill="#000"/>
<circle cx="86.50" cy="543.54" r="1.3" fill="#000"/>
<circle cx="92.50" cy="543.54" r="1.3" fill="#000"/>
<circle cx="89.50" cy="552.68" r="1.3" fill="#000"/>
<circle cx="89.50" cy="564.05" r="1.3" fill="#000"/>
<rect x="98.20" y="537.37" width="8.6" height="71.63" fill="#9b57eb" stroke="#3a3a3a" stroke-width="0.6"/>
<line x1="102.50" y1="512.92" x2="102.50" y2="561.82" stroke="#111" stroke-width="0.8"/>
<line x1="100.30" y1="512.92" x2="104.70" y2="512.92" stroke="#111" stroke-width="0.8"/>
<line x1="100.30" y1="561.82" x2="104.70" y2="561.82" stroke="#111" stroke-width="0.8"/>
<circle cx="102.50" cy="512.92" r="1.3" fill="#000"/>
<circle cx="102.50" cy="526.50" r="1.3" fill="#000"/>
<circle cx="102.50" cy="531.94" r="1.3" fill="#000"/>
<circle cx="102.50" cy="539.59" r="1.3" fill="#000"/>
<circle cx="102.50" cy="576.89" r="1.3" fill="#000"/>
<rect x="111.20" y="608.01" width="8.6" height="0.99" fill="#c5ff33" stroke="#3a3a3a" stroke-width="0.6"/>
<circle cx="112.30" cy="609.00" r="1.3" fill="#000"/>
<circle cx="113.90" cy="609.00" r="1.3" fill="#000"/>
<circle cx="115.50" cy="609.00" r="1.3" fill="#000"/>
<circle cx="117.10" cy="609.00" r="1.3" fill="#000"/>
<circle cx="118.70" cy="609.00" r="1.3" fill="#000"/>
<line x1="102.50" y1="609.0" x2="102.50" y2="614.0" stroke="#000" stroke-width="1.1"/>
<text x="102.50" y="624.6" font-size="10.2" font-weight="bold" text-anchor="middle" font-family="Liberation Sans, sans-serif" fill="#000">S</text>
<rect x="132.60" y="593.44" width="8.6" height="15.56" fill="#a0a1a4" stroke="#3a3a3a" stroke-width="0.6"/>
<line x1="136.90" y1="581.83" x2="136.90" y2="605.05" stroke="#111" stroke-width="0.8"/>
<line x1="134.70" y1="581.83" x2="139.10" y2="581.83" stroke="#111" stroke-width="0.8"/>
<line x1="134.70" y1="605.05" x2="139.10" y2="605.05" stroke="#111" stroke-width="0.8"/>
<circle cx="136.90" cy="577.88" r="1.3" fill="#000"/>
<circle cx="136.90" cy="581.71" r="1.3" fill="#000"/>
<circle cx="136.90" cy="587.76" r="1.3" fill="#000"/>
<circle cx="133.90" cy="592.95" r="1.3" fill="#000"/>
<circle cx="139.90" cy="592.95" r="1.3" fill="#000"/>
<circle cx="134.40" cy="602.58" r="1.3" fill="#000"/>
<circle cx="139.40" cy="602.58" r="1.3" fill="#000"/>
<circle cx="136.90" cy="606.04" r="1.3" fill="#000"/>
<rect x="145.60" y="587.51" width="8.6" height="21.49" fill="#9b57eb" stroke="#3a3a3a" stroke-width="0.6"/>
<line x1="149.90" y1="563.06" x2="149.90" y2="609.00" stroke="#111" stroke-width="0.8"/>
<line x1="147.70" y1="563.06" x2="152.10" y2="563.06" stroke="#111" stroke-width="0.8"/>
<circle cx="149.90" cy="544.29" r="1.3" fill="#000"/>
<circle cx="149.90" cy="591.71" r="1.3" fill="#000"/>
<circle cx="146.90" cy="596.90" r="1.3" fill="#000"/>
<circle cx="152.90" cy="596.90" r="1.3" fill="#000"/>
<circle cx="149.90" cy="598.38" r="1.3" fill="#000"/>
<circle cx="149.90" cy="605.79" r="1.3" fill="#000"/>
<rect x="158.60" y="608.26" width="8.6" height="0.74" fill="#c5ff33" stroke="#3a3a3a" stroke-width="0.6"/>
<circle cx="159.70" cy="609.00" r="1.3" fill="#000"/>
<circle cx="161.30" cy="609.00" r="1.3" fill="#000"/>
<circle cx="162.90" cy="609.00" r="1.3" fill="#000"/>
<circle cx="164.50" cy="609.00" r="1.3" fill="#000"/>
<circle cx="166.10" cy="609.00" r="1.3" fill="#000"/>
<line x1="149.90" y1="609.0" x2="149.90" y2="614.0" stroke="#000" stroke-width="1.1"/>
<text x="149.90" y="624.6" font-size="10.2" font-weight="bold" text-anchor="middle" font-family="Liberation Sans, sans-serif" fill="#000">M</text>
<circle cx="181.10" cy="609.00" r="1.3" fill="#000"/>
<circle cx="182.70" cy="609.00" r="1.3" fill="#000"/>
<circle cx="184.30" cy="609.00" r="1.3" fill="#000"/>
<circle cx="185.90" cy="609.00" r="1.3" fill="#000"/>
<circle cx="187.50" cy="609.00" r="1.3" fill="#000"/>
<circle cx="194.10" cy="609.00" r="1.3" fill="#000"/>
<circle cx="195.70" cy="609.00" r="1.3" fill="#000"/>
<circle cx="197.30" cy="609.00" r="1.3" fill="#000"/>
<circle cx="198.90" cy="609.00" r="1.3" fill="#000"/>
<circle cx="200.50" cy="609.00" r="1.3" fill="#000"/>
<circle cx="206.30" cy="609.00" r="1.3" fill="#000"/>
<circle cx="207.90" cy="609.00" r="1.3" fill="#000"/>
<circle cx="209.50" cy="609.00" r="1.3" fill="#000"/>
<circle cx="211.10" cy="609.00" r="1.3" fill="#000"/>
<circle cx="212.70" cy="609.00" r="1.3" fill="#000"/>
<circle cx="214.30" cy="609.00" r="1.3" fill="#000"/>
<line x1="197.30" y1="609.0" x2="197.30" y2="614.0" stroke="#000" stroke-width="1.1"/>
<text x="197.30" y="624.6" font-size="10.2" font-weight="bold" text-anchor="middle" font-family="Liberation Sans, sans-serif" fill="#000">L</text>
<line x1="33.6" y1="485.0" x2="33.6" y2="609.5" stroke="#000" stroke-width="1.2"/>
<line x1="33.1" y1="609.0" x2="219.6" y2="609.0" stroke="#000" stroke-width="1.2"/>
<line x1="40.60" y1="483.5" x2="66.60" y2="483.5" stroke="#6a6a6a" stroke-width="1"/>
<text x="42.97 47.69 50.06 54.78 59.51" y="478.20" font-size="8.5" font-family="Liberation Sans, sans-serif" fill="#262626">0.002</text>
<line x1="53.60" y1="500.0" x2="66.60" y2="500.0" stroke="#6a6a6a" stroke-width="1"/>
<text x="49.47 54.19 56.56 61.28 66.01" y="494.70" font-size="8.5" font-family="Liberation Sans, sans-serif" fill="#262626">0.044</text>
<line x1="88.00" y1="483.5" x2="114.00" y2="483.5" stroke="#6a6a6a" stroke-width="1"/>
<text x="90.37 95.09 97.46 102.18 106.91" y="478.20" font-size="8.5" font-family="Liberation Sans, sans-serif" fill="#262626">0.009</text>
<line x1="101.00" y1="500.0" x2="114.00" y2="500.0" stroke="#6a6a6a" stroke-width="1"/>
<text x="96.87 101.59 103.96 108.68 113.41" y="494.70" font-size="8.5" font-family="Liberation Sans, sans-serif" fill="#262626">0.007</text>
<line x1="135.40" y1="483.5" x2="161.40" y2="483.5" stroke="#6a6a6a" stroke-width="1"/>
<text x="137.77 142.49 144.86 149.58 154.31" y="478.20" font-size="8.5" font-family="Liberation Sans, sans-serif" fill="#262626">0.005</text>
<line x1="148.40" y1="500.0" x2="161.40" y2="500.0" stroke="#6a6a6a" stroke-width="1"/>
<text x="144.27 148.99 151.36 160.81" y="494.70" font-size="8.5" font-family="Liberation Sans, sans-serif" fill="#262626">0.05</text>
<polygon points="158.84,488.61 159.61,488.61 159.61,494.70 158.84,494.70 158.84,490.32 157.06,491.05 157.06,490.32 158.25,489.73 158.72,488.61" fill="#262626"/>
<text x="227.3" y="454.0" font-size="16.2" font-family="Liberation Sans, sans-serif" fill="#000">C</text>
<text x="360.3" y="453.8" font-size="12.5" font-weight="bold" text-anchor="middle" font-family="Liberation Sans, sans-serif" fill="#000">INS+GCG+</text>
<text transform="translate(235.8,547.3) rotate(-90)" font-size="10" font-weight="bold" text-anchor="middle" font-family="Liberation Sans, sans-serif" fill="#000">% of total EO count</text>
<line x1="255.3" y1="609.40" x2="260.6" y2="609.40" stroke="#000" stroke-width="1.1"/>
<text x="248.06" y="612.80" font-size="9.6" font-family="Liberation Sans, sans-serif" fill="#000" stroke="#000" stroke-width="0.55">0</text>
<line x1="255.3" y1="568.17" x2="260.6" y2="568.17" stroke="#000" stroke-width="1.1"/>
<text x="248.06" y="571.57" font-size="9.6" font-family="Liberation Sans, sans-serif" fill="#000" stroke="#000" stroke-width="0.55">0</text>
<polygon points="245.84,564.69 246.71,564.69 246.71,571.57 245.84,571.57 245.84,566.62 243.83,567.44 243.83,566.62 245.17,565.95 245.70,564.69" fill="#000" stroke="#000" stroke-width="0.55"/>
<line x1="255.3" y1="526.93" x2="260.6" y2="526.93" stroke="#000" stroke-width="1.1"/>
<text x="242.72 248.06" y="530.33" font-size="9.6" font-family="Liberation Sans, sans-serif" fill="#000" stroke="#000" stroke-width="0.55">20</text>
<line x1="255.3" y1="485.70" x2="260.6" y2="485.70" stroke="#000" stroke-width="1.1"/>
<text x="242.72 248.06" y="489.10" font-size="9.6" font-family="Liberation Sans, sans-serif" fill="#000" stroke="#000" stroke-width="0.55">30</text>
<rect x="264.80" y="604.86" width="8.6" height="4.54" fill="#a0a1a4" stroke="#3a3a3a" stroke-width="0.6"/>
<line x1="269.10" y1="602.39" x2="269.10" y2="607.34" stroke="#111" stroke-width="0.8"/>
<line x1="266.90" y1="602.39" x2="271.30" y2="602.39" stroke="#111" stroke-width="0.8"/>
<line x1="266.90" y1="607.34" x2="271.30" y2="607.34" stroke="#111" stroke-width="0.8"/>
<circle cx="267.60" cy="600.74" r="1.3" fill="#000"/>
<circle cx="269.10" cy="602.80" r="1.3" fill="#000"/>
<circle cx="271.10" cy="604.45" r="1.3" fill="#000"/>
<circle cx="266.60" cy="605.69" r="1.3" fill="#000"/>
<circle cx="271.60" cy="606.10" r="1.3" fill="#000"/>
<circle cx="269.10" cy="606.93" r="1.3" fill="#000"/>
<circle cx="266.10" cy="607.34" r="1.3" fill="#000"/>
<rect x="277.80" y="606.10" width="8.6" height="3.30" fill="#9b57eb" stroke="#3a3a3a" stroke-width="0.6"/>
<line x1="282.10" y1="602.80" x2="282.10" y2="609.40" stroke="#111" stroke-width="0.8"/>
<line x1="279.90" y1="602.80" x2="284.30" y2="602.80" stroke="#111" stroke-width="0.8"/>
<circle cx="282.10" cy="601.15" r="1.3" fill="#000"/>
<circle cx="279.10" cy="605.28" r="1.3" fill="#000"/>
<circle cx="285.10" cy="605.28" r="1.3" fill="#000"/>
<circle cx="282.10" cy="606.93" r="1.3" fill="#000"/>
<circle cx="282.10" cy="608.58" r="1.3" fill="#000"/>
<rect x="290.80" y="608.99" width="8.6" height="0.41" fill="#c5ff33" stroke="#3a3a3a" stroke-width="0.6"/>
<circle cx="291.90" cy="609.40" r="1.3" fill="#000"/>
<circle cx="293.50" cy="609.40" r="1.3" fill="#000"/>
<circle cx="295.10" cy="609.40" r="1.3" fill="#000"/>
<circle cx="296.70" cy="609.40" r="1.3" fill="#000"/>
<circle cx="298.30" cy="609.40" r="1.3" fill="#000"/>
<line x1="282.10" y1="609.4" x2="282.10" y2="614.4" stroke="#000" stroke-width="1.1"/>
<text x="282.10" y="624.6" font-size="10.2" font-weight="bold" text-anchor="middle" font-family="Liberation Sans, sans-serif" fill="#000">CC</text>
<rect x="312.20" y="564.87" width="8.6" height="44.53" fill="#a0a1a4" stroke="#3a3a3a" stroke-width="0.6"/>
<line x1="316.50" y1="542.60" x2="316.50" y2="587.13" stroke="#111" stroke-width="0.8"/>
<line x1="314.30" y1="542.60" x2="318.70" y2="542.60" stroke="#111" stroke-width="0.8"/>
<line x1="314.30" y1="587.13" x2="318.70" y2="587.13" stroke="#111" stroke-width="0.8"/>
<circle cx="316.50" cy="524.05" r="1.3" fill="#000"/>
<circle cx="313.50" cy="554.97" r="1.3" fill="#000"/>
<circle cx="319.50" cy="555.80" r="1.3" fill="#000"/>
<circle cx="316.50" cy="560.74" r="1.3" fill="#000"/>
<circle cx="316.50" cy="565.07" r="1.3" fill="#000"/>
<circle cx="316.50" cy="571.05" r="1.3" fill="#000"/>
<circle cx="316.50" cy="583.84" r="1.3" fill="#000"/>
<circle cx="316.50" cy="599.50" r="1.3" fill="#000"/>
<rect x="325.20" y="583.42" width="8.6" height="25.98" fill="#9b57eb" stroke="#3a3a3a" stroke-width="0.6"/>
<line x1="329.50" y1="567.34" x2="329.50" y2="599.50" stroke="#111" stroke-width="0.8"/>
<line x1="327.30" y1="567.34" x2="331.70" y2="567.34" stroke="#111" stroke-width="0.8"/>
<line x1="327.30" y1="599.50" x2="331.70" y2="599.50" stroke="#111" stroke-width="0.8"/>
<circle cx="329.50" cy="564.87" r="1.3" fill="#000"/>
<circle cx="329.50" cy="571.47" r="1.3" fill="#000"/>
<circle cx="326.50" cy="585.90" r="1.3" fill="#000"/>
<circle cx="332.50" cy="585.90" r="1.3" fill="#000"/>
<circle cx="329.50" cy="606.10" r="1.3" fill="#000"/>
<rect x="338.20" y="608.58" width="8.6" height="0.82" fill="#c5ff33" stroke="#3a3a3a" stroke-width="0.6"/>
<circle cx="339.30" cy="609.40" r="1.3" fill="#000"/>
<circle cx="340.90" cy="609.40" r="1.3" fill="#000"/>
<circle cx="342.50" cy="609.40" r="1.3" fill="#000"/>
<circle cx="344.10" cy="609.40" r="1.3" fill="#000"/>
<circle cx="345.70" cy="609.40" r="1.3" fill="#000"/>
<line x1="329.50" y1="609.4" x2="329.50" y2="614.4" stroke="#000" stroke-width="1.1"/>
<text x="329.50" y="624.6" font-size="10.2" font-weight="bold" text-anchor="middle" font-family="Liberation Sans, sans-serif" fill="#000">S</text>
<rect x="359.60" y="525.28" width="8.6" height="84.12" fill="#a0a1a4" stroke="#3a3a3a" stroke-width="0.6"/>
<line x1="363.90" y1="501.37" x2="363.90" y2="549.20" stroke="#111" stroke-width="0.8"/>
<line x1="361.70" y1="501.37" x2="366.10" y2="501.37" stroke="#111" stroke-width="0.8"/>
<line x1="361.70" y1="549.20" x2="366.10" y2="549.20" stroke="#111" stroke-width="0.8"/>
<circle cx="363.90" cy="492.71" r="1.3" fill="#000"/>
<circle cx="363.90" cy="497.25" r="1.3" fill="#000"/>
<circle cx="363.90" cy="506.73" r="1.3" fill="#000"/>
<circle cx="361.40" cy="529.41" r="1.3" fill="#000"/>
<circle cx="366.40" cy="529.41" r="1.3" fill="#000"/>
<circle cx="360.90" cy="548.37" r="1.3" fill="#000"/>
<circle cx="363.90" cy="548.37" r="1.3" fill="#000"/>
<circle cx="366.90" cy="548.37" r="1.3" fill="#000"/>
<rect x="372.60" y="539.30" width="8.6" height="70.10" fill="#9b57eb" stroke="#3a3a3a" stroke-width="0.6"/>
<line x1="376.90" y1="502.19" x2="376.90" y2="576.41" stroke="#111" stroke-width="0.8"/>
<line x1="374.70" y1="502.19" x2="379.10" y2="502.19" stroke="#111" stroke-width="0.8"/>
<line x1="374.70" y1="576.41" x2="379.10" y2="576.41" stroke="#111" stroke-width="0.8"/>
<circle cx="373.90" cy="499.31" r="1.3" fill="#000"/>
<circle cx="379.90" cy="501.37" r="1.3" fill="#000"/>
<circle cx="376.90" cy="550.85" r="1.3" fill="#000"/>
<circle cx="376.90" cy="562.39" r="1.3" fill="#000"/>
<circle cx="376.90" cy="581.36" r="1.3" fill="#000"/>
<rect x="385.60" y="591.26" width="8.6" height="18.14" fill="#c5ff33" stroke="#3a3a3a" stroke-width="0.6"/>
<line x1="389.90" y1="571.47" x2="389.90" y2="609.40" stroke="#111" stroke-width="0.8"/>
<line x1="387.70" y1="571.47" x2="392.10" y2="571.47" stroke="#111" stroke-width="0.8"/>
<circle cx="389.90" cy="553.32" r="1.3" fill="#000"/>
<circle cx="389.90" cy="588.37" r="1.3" fill="#000"/>
<circle cx="389.90" cy="592.49" r="1.3" fill="#000"/>
<circle cx="387.90" cy="599.50" r="1.3" fill="#000"/>
<circle cx="386.90" cy="604.86" r="1.3" fill="#000"/>
<circle cx="392.90" cy="604.86" r="1.3" fill="#000"/>
<line x1="376.90" y1="609.4" x2="376.90" y2="614.4" stroke="#000" stroke-width="1.1"/>
<text x="376.90" y="624.6" font-size="10.2" font-weight="bold" text-anchor="middle" font-family="Liberation Sans, sans-serif" fill="#000">M</text>
<rect x="407.00" y="581.77" width="8.6" height="27.63" fill="#a0a1a4" stroke="#3a3a3a" stroke-width="0.6"/>
<line x1="411.30" y1="567.75" x2="411.30" y2="595.79" stroke="#111" stroke-width="0.8"/>
<line x1="409.10" y1="567.75" x2="413.50" y2="567.75" stroke="#111" stroke-width="0.8"/>
<line x1="409.10" y1="595.79" x2="413.50" y2="595.79" stroke="#111" stroke-width="0.8"/>
<circle cx="408.30" cy="563.22" r="1.3" fill="#000"/>
<circle cx="413.30" cy="561.57" r="1.3" fill="#000"/>
<circle cx="411.30" cy="571.88" r="1.3" fill="#000"/>
<circle cx="411.30" cy="583.42" r="1.3" fill="#000"/>
<circle cx="408.30" cy="592.08" r="1.3" fill="#000"/>
<circle cx="411.30" cy="592.08" r="1.3" fill="#000"/>
<circle cx="414.30" cy="592.08" r="1.3" fill="#000"/>
<circle cx="411.30" cy="595.79" r="1.3" fill="#000"/>
<rect x="420.00" y="579.71" width="8.6" height="29.69" fill="#9b57eb" stroke="#3a3a3a" stroke-width="0.6"/>
<line x1="424.30" y1="569.82" x2="424.30" y2="589.61" stroke="#111" stroke-width="0.8"/>
<line x1="422.10" y1="569.82" x2="426.50" y2="569.82" stroke="#111" stroke-width="0.8"/>
<line x1="422.10" y1="589.61" x2="426.50" y2="589.61" stroke="#111" stroke-width="0.8"/>
<circle cx="424.30" cy="567.34" r="1.3" fill="#000"/>
<circle cx="424.30" cy="570.23" r="1.3" fill="#000"/>
<circle cx="424.30" cy="583.42" r="1.3" fill="#000"/>
<circle cx="424.30" cy="585.90" r="1.3" fill="#000"/>
<circle cx="424.30" cy="588.37" r="1.3" fill="#000"/>
<rect x="433.00" y="569.40" width="8.6" height="40.00" fill="#c5ff33" stroke="#3a3a3a" stroke-width="0.6"/>
<line x1="437.30" y1="537.24" x2="437.30" y2="601.57" stroke="#111" stroke-width="0.8"/>
<line x1="435.10" y1="537.24" x2="439.50" y2="537.24" stroke="#111" stroke-width="0.8"/>
<line x1="435.10" y1="601.57" x2="439.50" y2="601.57" stroke="#111" stroke-width="0.8"/>
<circle cx="437.30" cy="514.56" r="1.3" fill="#000"/>
<circle cx="434.30" cy="562.81" r="1.3" fill="#000"/>
<circle cx="440.30" cy="564.66" r="1.3" fill="#000"/>
<circle cx="437.30" cy="570.64" r="1.3" fill="#000"/>
<circle cx="437.30" cy="598.68" r="1.3" fill="#000"/>
<circle cx="437.30" cy="601.98" r="1.3" fill="#000"/>
<line x1="424.30" y1="609.4" x2="424.30" y2="614.4" stroke="#000" stroke-width="1.1"/>
<text x="424.30" y="624.6" font-size="10.2" font-weight="bold" text-anchor="middle" font-family="Liberation Sans, sans-serif" fill="#000">L</text>
<line x1="260.6" y1="485.2" x2="260.6" y2="609.9" stroke="#000" stroke-width="1.2"/>
<line x1="260.1" y1="609.4" x2="446.6" y2="609.4" stroke="#000" stroke-width="1.2"/>
<line x1="268.50" y1="482.5" x2="294.50" y2="482.5" stroke="#6a6a6a" stroke-width="1"/>
<text x="270.87 275.59 277.96" y="477.20" font-size="8.5" font-family="Liberation Sans, sans-serif" fill="#262626">0.0</text>
<polygon points="285.44,471.11 286.21,471.11 286.21,477.20 285.44,477.20 285.44,472.82 283.66,473.55 283.66,472.82 284.85,472.23 285.32,471.11" fill="#262626"/>
<polygon points="290.17,471.11 290.93,471.11 290.93,477.20 290.17,477.20 290.17,472.82 288.38,473.55 288.38,472.82 289.57,472.23 290.04,471.11" fill="#262626"/>
<line x1="315.90" y1="482.5" x2="341.90" y2="482.5" stroke="#6a6a6a" stroke-width="1"/>
<text x="315.90 320.63 322.99 327.72 332.44 337.17" y="477.20" font-size="8.5" font-family="Liberation Sans, sans-serif" fill="#262626">0.0009</text>
<line x1="363.30" y1="482.5" x2="389.30" y2="482.5" stroke="#6a6a6a" stroke-width="1"/>
<text x="365.67 370.39 372.76 377.48 382.21" y="477.20" font-size="8.5" font-family="Liberation Sans, sans-serif" fill="#262626">0.002</text>
<text x="461.2" y="454.0" font-size="16.2" font-family="Liberation Sans, sans-serif" fill="#000">D</text>
<text x="582.8" y="453.8" font-size="12.5" font-weight="bold" text-anchor="middle" font-family="Liberation Sans, sans-serif" fill="#000">INS-GCG+</text>
<text transform="translate(471.2,547.3) rotate(-90)" font-size="10" font-weight="bold" text-anchor="middle" font-family="Liberation Sans, sans-serif" fill="#000">% of total EO count</text>
<line x1="490.7" y1="609.30" x2="496.0" y2="609.30" stroke="#000" stroke-width="1.1"/>
<text x="483.46" y="612.70" font-size="9.6" font-family="Liberation Sans, sans-serif" fill="#000" stroke="#000" stroke-width="0.55">0</text>
<line x1="490.7" y1="584.56" x2="496.0" y2="584.56" stroke="#000" stroke-width="1.1"/>
<text x="483.46" y="587.96" font-size="9.6" font-family="Liberation Sans, sans-serif" fill="#000" stroke="#000" stroke-width="0.55">0</text>
<polygon points="481.24,581.09 482.11,581.09 482.11,587.96 481.24,587.96 481.24,583.02 479.23,583.83 479.23,583.02 480.57,582.34 481.10,581.09" fill="#000" stroke="#000" stroke-width="0.55"/>
<line x1="490.7" y1="559.82" x2="496.0" y2="559.82" stroke="#000" stroke-width="1.1"/>
<text x="478.12 483.46" y="563.22" font-size="9.6" font-family="Liberation Sans, sans-serif" fill="#000" stroke="#000" stroke-width="0.55">20</text>
<line x1="490.7" y1="535.08" x2="496.0" y2="535.08" stroke="#000" stroke-width="1.1"/>
<text x="478.12 483.46" y="538.48" font-size="9.6" font-family="Liberation Sans, sans-serif" fill="#000" stroke="#000" stroke-width="0.55">30</text>
<line x1="490.7" y1="510.34" x2="496.0" y2="510.34" stroke="#000" stroke-width="1.1"/>
<text x="478.12 483.46" y="513.74" font-size="9.6" font-family="Liberation Sans, sans-serif" fill="#000" stroke="#000" stroke-width="0.55">40</text>
<line x1="490.7" y1="485.60" x2="496.0" y2="485.60" stroke="#000" stroke-width="1.1"/>
<text x="478.12 483.46" y="489.00" font-size="9.6" font-family="Liberation Sans, sans-serif" fill="#000" stroke="#000" stroke-width="0.55">50</text>
<rect x="500.20" y="593.47" width="8.6" height="15.83" fill="#a0a1a4" stroke="#3a3a3a" stroke-width="0.6"/>
<line x1="504.50" y1="588.27" x2="504.50" y2="598.66" stroke="#111" stroke-width="0.8"/>
<line x1="502.30" y1="588.27" x2="506.70" y2="588.27" stroke="#111" stroke-width="0.8"/>
<line x1="502.30" y1="598.66" x2="506.70" y2="598.66" stroke="#111" stroke-width="0.8"/>
<circle cx="504.50" cy="586.04" r="1.3" fill="#000"/>
<circle cx="501.50" cy="590.00" r="1.3" fill="#000"/>
<circle cx="504.50" cy="590.00" r="1.3" fill="#000"/>
<circle cx="507.50" cy="590.00" r="1.3" fill="#000"/>
<circle cx="504.50" cy="592.72" r="1.3" fill="#000"/>
<circle cx="504.50" cy="594.46" r="1.3" fill="#000"/>
<circle cx="504.50" cy="596.19" r="1.3" fill="#000"/>
<circle cx="504.50" cy="603.61" r="1.3" fill="#000"/>
<rect x="513.20" y="581.59" width="8.6" height="27.71" fill="#9b57eb" stroke="#3a3a3a" stroke-width="0.6"/>
<line x1="517.50" y1="570.21" x2="517.50" y2="592.97" stroke="#111" stroke-width="0.8"/>
<line x1="515.30" y1="570.21" x2="519.70" y2="570.21" stroke="#111" stroke-width="0.8"/>
<line x1="515.30" y1="592.97" x2="519.70" y2="592.97" stroke="#111" stroke-width="0.8"/>
<circle cx="517.50" cy="567.49" r="1.3" fill="#000"/>
<circle cx="517.50" cy="577.63" r="1.3" fill="#000"/>
<circle cx="514.50" cy="582.09" r="1.3" fill="#000"/>
<circle cx="520.50" cy="583.32" r="1.3" fill="#000"/>
<circle cx="517.50" cy="598.41" r="1.3" fill="#000"/>
<rect x="526.20" y="559.33" width="8.6" height="49.97" fill="#c5ff33" stroke="#3a3a3a" stroke-width="0.6"/>
<line x1="530.50" y1="542.50" x2="530.50" y2="576.15" stroke="#111" stroke-width="0.8"/>
<line x1="528.30" y1="542.50" x2="532.70" y2="542.50" stroke="#111" stroke-width="0.8"/>
<line x1="528.30" y1="576.15" x2="532.70" y2="576.15" stroke="#111" stroke-width="0.8"/>
<circle cx="530.50" cy="533.35" r="1.3" fill="#000"/>
<circle cx="530.50" cy="549.92" r="1.3" fill="#000"/>
<circle cx="530.50" cy="556.11" r="1.3" fill="#000"/>
<circle cx="530.50" cy="565.02" r="1.3" fill="#000"/>
<circle cx="527.50" cy="576.64" r="1.3" fill="#000"/>
<circle cx="533.50" cy="574.91" r="1.3" fill="#000"/>
<line x1="517.50" y1="609.3" x2="517.50" y2="614.3" stroke="#000" stroke-width="1.1"/>
<text x="517.50" y="624.6" font-size="10.2" font-weight="bold" text-anchor="middle" font-family="Liberation Sans, sans-serif" fill="#000">CC</text>
<rect x="547.60" y="599.90" width="8.6" height="9.40" fill="#a0a1a4" stroke="#3a3a3a" stroke-width="0.6"/>
<line x1="551.90" y1="595.20" x2="551.90" y2="604.60" stroke="#111" stroke-width="0.8"/>
<line x1="549.70" y1="595.20" x2="554.10" y2="595.20" stroke="#111" stroke-width="0.8"/>
<line x1="549.70" y1="604.60" x2="554.10" y2="604.60" stroke="#111" stroke-width="0.8"/>
<circle cx="551.90" cy="590.00" r="1.3" fill="#000"/>
<circle cx="551.90" cy="596.19" r="1.3" fill="#000"/>
<circle cx="548.90" cy="600.39" r="1.3" fill="#000"/>
<circle cx="554.90" cy="600.39" r="1.3" fill="#000"/>
<circle cx="551.90" cy="602.62" r="1.3" fill="#000"/>
<circle cx="551.90" cy="605.59" r="1.3" fill="#000"/>
<rect x="560.60" y="592.23" width="8.6" height="17.07" fill="#9b57eb" stroke="#3a3a3a" stroke-width="0.6"/>
<line x1="564.90" y1="581.59" x2="564.90" y2="602.87" stroke="#111" stroke-width="0.8"/>
<line x1="562.70" y1="581.59" x2="567.10" y2="581.59" stroke="#111" stroke-width="0.8"/>
<line x1="562.70" y1="602.87" x2="567.10" y2="602.87" stroke="#111" stroke-width="0.8"/>
<circle cx="564.90" cy="578.38" r="1.3" fill="#000"/>
<circle cx="564.90" cy="587.03" r="1.3" fill="#000"/>
<circle cx="564.90" cy="594.21" r="1.3" fill="#000"/>
<circle cx="564.90" cy="599.40" r="1.3" fill="#000"/>
<circle cx="564.90" cy="605.09" r="1.3" fill="#000"/>
<rect x="573.60" y="535.82" width="8.6" height="73.48" fill="#c5ff33" stroke="#3a3a3a" stroke-width="0.6"/>
<line x1="577.90" y1="515.54" x2="577.90" y2="556.11" stroke="#111" stroke-width="0.8"/>
<line x1="575.70" y1="515.54" x2="580.10" y2="515.54" stroke="#111" stroke-width="0.8"/>
<line x1="575.70" y1="556.11" x2="580.10" y2="556.11" stroke="#111" stroke-width="0.8"/>
<circle cx="577.90" cy="511.58" r="1.3" fill="#000"/>
<circle cx="574.90" cy="523.70" r="1.3" fill="#000"/>
<circle cx="580.90" cy="525.18" r="1.3" fill="#000"/>
<circle cx="577.90" cy="537.31" r="1.3" fill="#000"/>
<circle cx="577.90" cy="546.96" r="1.3" fill="#000"/>
<circle cx="577.90" cy="569.47" r="1.3" fill="#000"/>
<line x1="564.90" y1="609.3" x2="564.90" y2="614.3" stroke="#000" stroke-width="1.1"/>
<text x="564.90" y="624.6" font-size="10.2" font-weight="bold" text-anchor="middle" font-family="Liberation Sans, sans-serif" fill="#000">S</text>
<circle cx="596.10" cy="609.30" r="1.3" fill="#000"/>
<circle cx="597.70" cy="609.30" r="1.3" fill="#000"/>
<circle cx="599.30" cy="609.30" r="1.3" fill="#000"/>
<circle cx="600.90" cy="609.30" r="1.3" fill="#000"/>
<circle cx="602.50" cy="609.30" r="1.3" fill="#000"/>
<circle cx="609.10" cy="609.30" r="1.3" fill="#000"/>
<circle cx="610.70" cy="609.30" r="1.3" fill="#000"/>
<circle cx="612.30" cy="609.30" r="1.3" fill="#000"/>
<circle cx="613.90" cy="609.30" r="1.3" fill="#000"/>
<circle cx="615.50" cy="609.30" r="1.3" fill="#000"/>
<rect x="621.00" y="545.97" width="8.6" height="63.33" fill="#c5ff33" stroke="#3a3a3a" stroke-width="0.6"/>
<line x1="625.30" y1="527.91" x2="625.30" y2="564.03" stroke="#111" stroke-width="0.8"/>
<line x1="623.10" y1="527.91" x2="627.50" y2="527.91" stroke="#111" stroke-width="0.8"/>
<line x1="623.10" y1="564.03" x2="627.50" y2="564.03" stroke="#111" stroke-width="0.8"/>
<circle cx="622.30" cy="530.13" r="1.3" fill="#000"/>
<circle cx="628.30" cy="530.13" r="1.3" fill="#000"/>
<circle cx="625.30" cy="533.10" r="1.3" fill="#000"/>
<circle cx="625.30" cy="549.92" r="1.3" fill="#000"/>
<circle cx="625.30" cy="554.62" r="1.3" fill="#000"/>
<circle cx="625.30" cy="577.39" r="1.3" fill="#000"/>
<line x1="612.30" y1="609.3" x2="612.30" y2="614.3" stroke="#000" stroke-width="1.1"/>
<text x="612.30" y="624.6" font-size="10.2" font-weight="bold" text-anchor="middle" font-family="Liberation Sans, sans-serif" fill="#000">M</text>
<circle cx="642.70" cy="609.30" r="1.3" fill="#000"/>
<circle cx="644.30" cy="609.30" r="1.3" fill="#000"/>
<circle cx="645.90" cy="609.30" r="1.3" fill="#000"/>
<circle cx="647.50" cy="609.30" r="1.3" fill="#000"/>
<circle cx="649.10" cy="609.30" r="1.3" fill="#000"/>
<circle cx="650.70" cy="609.30" r="1.3" fill="#000"/>
<circle cx="656.50" cy="609.30" r="1.3" fill="#000"/>
<circle cx="658.10" cy="609.30" r="1.3" fill="#000"/>
<circle cx="659.70" cy="609.30" r="1.3" fill="#000"/>
<circle cx="661.30" cy="609.30" r="1.3" fill="#000"/>
<circle cx="662.90" cy="609.30" r="1.3" fill="#000"/>
<rect x="668.40" y="586.29" width="8.6" height="23.01" fill="#c5ff33" stroke="#3a3a3a" stroke-width="0.6"/>
<line x1="672.70" y1="571.45" x2="672.70" y2="601.14" stroke="#111" stroke-width="0.8"/>
<line x1="670.50" y1="571.45" x2="674.90" y2="571.45" stroke="#111" stroke-width="0.8"/>
<line x1="670.50" y1="601.14" x2="674.90" y2="601.14" stroke="#111" stroke-width="0.8"/>
<circle cx="672.70" cy="567.98" r="1.3" fill="#000"/>
<circle cx="672.70" cy="572.44" r="1.3" fill="#000"/>
<circle cx="672.70" cy="577.88" r="1.3" fill="#000"/>
<circle cx="669.70" cy="598.41" r="1.3" fill="#000"/>
<circle cx="675.70" cy="598.41" r="1.3" fill="#000"/>
<circle cx="672.70" cy="601.38" r="1.3" fill="#000"/>
<line x1="659.70" y1="609.3" x2="659.70" y2="614.3" stroke="#000" stroke-width="1.1"/>
<text x="659.70" y="624.6" font-size="10.2" font-weight="bold" text-anchor="middle" font-family="Liberation Sans, sans-serif" fill="#000">L</text>
<line x1="496.0" y1="485.1" x2="496.0" y2="609.8" stroke="#000" stroke-width="1.2"/>
<line x1="495.5" y1="609.3" x2="682.0" y2="609.3" stroke="#000" stroke-width="1.2"/>
<line x1="505.00" y1="482.6" x2="531.00" y2="482.6" stroke="#6a6a6a" stroke-width="1"/>
<text x="505.00 509.73 512.09 516.82 526.27" y="477.30" font-size="8.5" font-family="Liberation Sans, sans-serif" fill="#262626">0.002</text>
<polygon points="524.31,471.21 525.07,471.21 525.07,477.30 524.31,477.30 524.31,472.92 522.52,473.65 522.52,472.92 523.71,472.33 524.18,471.21" fill="#262626"/>
<line x1="552.40" y1="482.6" x2="578.40" y2="482.6" stroke="#6a6a6a" stroke-width="1"/>
<text x="552.40 557.13 559.49 564.22 573.67" y="477.30" font-size="8.5" font-family="Liberation Sans, sans-serif" fill="#262626">0.002</text>
<polygon points="571.71,471.21 572.47,471.21 572.47,477.30 571.71,477.30 571.71,472.92 569.92,473.65 569.92,472.92 571.11,472.33 571.58,471.21" fill="#262626"/>
<line x1="599.80" y1="482.6" x2="625.80" y2="482.6" stroke="#6a6a6a" stroke-width="1"/>
<text x="602.17 606.89 609.26 613.98 618.71" y="477.30" font-size="8.5" font-family="Liberation Sans, sans-serif" fill="#262626">0.004</text>
<line x1="612.80" y1="500.0" x2="625.80" y2="500.0" stroke="#6a6a6a" stroke-width="1"/>
<text x="608.67 613.39 615.76 625.21" y="494.70" font-size="8.5" font-family="Liberation Sans, sans-serif" fill="#262626">0.03</text>
<polygon points="623.24,488.61 624.01,488.61 624.01,494.70 623.24,494.70 623.24,490.32 621.46,491.05 621.46,490.32 622.65,489.73 623.12,488.61" fill="#262626"/>
<line x1="647.20" y1="482.6" x2="673.20" y2="482.6" stroke="#6a6a6a" stroke-width="1"/>
<text x="647.20 651.93 654.29 659.02 663.74 668.47" y="477.30" font-size="8.5" font-family="Liberation Sans, sans-serif" fill="#262626">0.0005</text>
<line x1="660.20" y1="500.0" x2="673.20" y2="500.0" stroke="#6a6a6a" stroke-width="1"/>
<text x="656.07 660.79 663.16 667.88 672.61" y="494.70" font-size="8.5" font-family="Liberation Sans, sans-serif" fill="#262626">0.002</text>
<rect x="268.7" y="644.8" width="21.6" height="11.8" fill="#a0a1a4" stroke="#555" stroke-width="0.9"/>
<text x="295.3" y="655.4" font-size="11.8" font-weight="bold" letter-spacing="0.45" font-family="Liberation Sans, sans-serif" fill="#000">ND</text>
<rect x="320.2" y="644.8" width="21.6" height="11.8" fill="#9b57eb" stroke="#555" stroke-width="0.9"/>
<text x="345.4" y="655.4" font-size="11.8" font-weight="bold" letter-spacing="0.45" font-family="Liberation Sans, sans-serif" fill="#000">GADA</text>
<rect x="387.1" y="644.8" width="21.6" height="11.8" fill="#c5ff33" stroke="#555" stroke-width="0.9"/>
<text transform="translate(412.40,655.40) scale(1.040,1)" font-size="11.8" font-weight="bold" font-family="Liberation Sans, sans-serif" fill="#000">T</text>
<text transform="translate(426.72,655.40) scale(1.040,1)" font-size="11.8" font-weight="bold" font-family="Liberation Sans, sans-serif" fill="#000">D</text>
<polygon points="423.52,646.95 425.42,646.95 425.42,655.40 423.52,655.40 423.52,649.79 420.94,650.80 420.94,649.20 422.66,648.38 423.33,646.95" fill="#000"/>
</svg>
</body></html>
